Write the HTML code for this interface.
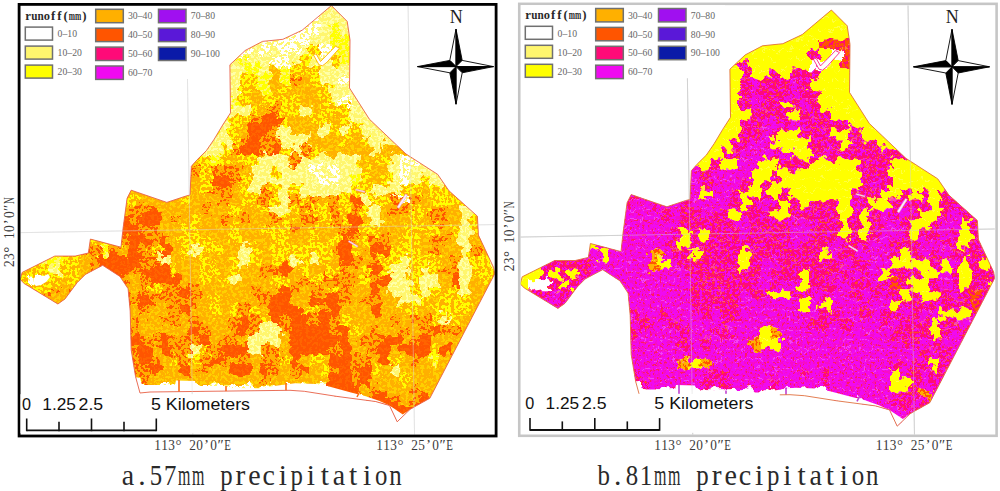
<!DOCTYPE html>
<html><head><meta charset="utf-8"><style>
html,body{margin:0;padding:0;background:#fff;width:1000px;height:491px;overflow:hidden}
svg{display:block}
</style></head><body>
<svg width="1000" height="491" viewBox="0 0 1000 491">
<defs>
<filter id="disp" color-interpolation-filters="sRGB" filterUnits="userSpaceOnUse" x="-10" y="-10" width="540" height="470">
 <feTurbulence type="fractalNoise" baseFrequency="0.11" numOctaves="3" seed="4" result="n"/>
 <feDisplacementMap in="SourceGraphic" in2="n" scale="16" xChannelSelector="R" yChannelSelector="G"/>
</filter>
<filter id="spkf" color-interpolation-filters="sRGB" filterUnits="userSpaceOnUse" x="-10" y="-10" width="540" height="470">
 <feTurbulence type="fractalNoise" baseFrequency="0.33" numOctaves="2" seed="11" result="n"/>
 <feColorMatrix in="n" type="matrix" values="1 0 0 0 0  1 0 0 0 0  1 0 0 0 0  0 0 0 0 1"/>
 <feComponentTransfer>
  <feFuncR type="linear" slope="40" intercept="-21.20"/>
  <feFuncG type="linear" slope="40" intercept="-21.20"/>
  <feFuncB type="linear" slope="40" intercept="-21.20"/>
 </feComponentTransfer>
</filter>
<filter id="spkf2" color-interpolation-filters="sRGB" filterUnits="userSpaceOnUse" x="-10" y="-10" width="540" height="470">
 <feTurbulence type="fractalNoise" baseFrequency="0.33" numOctaves="2" seed="23" result="n"/>
 <feColorMatrix in="n" type="matrix" values="1 0 0 0 0  1 0 0 0 0  1 0 0 0 0  0 0 0 0 1"/>
 <feComponentTransfer>
  <feFuncR type="linear" slope="40" intercept="-19.60"/>
  <feFuncG type="linear" slope="40" intercept="-19.60"/>
  <feFuncB type="linear" slope="40" intercept="-19.60"/>
 </feComponentTransfer>
</filter>
<mask id="spk2" maskUnits="userSpaceOnUse" x="-10" y="-10" width="540" height="470">
 <rect x="-10" y="-10" width="540" height="470" fill="#fff" filter="url(#spkf2)"/>
</mask>
<filter id="spkf3" color-interpolation-filters="sRGB" filterUnits="userSpaceOnUse" x="-10" y="-10" width="540" height="470">
 <feTurbulence type="fractalNoise" baseFrequency="0.4" numOctaves="2" seed="37" result="n"/>
 <feColorMatrix in="n" type="matrix" values="1 0 0 0 0  1 0 0 0 0  1 0 0 0 0  0 0 0 0 1"/>
 <feComponentTransfer>
  <feFuncR type="linear" slope="40" intercept="-25.60"/>
  <feFuncG type="linear" slope="40" intercept="-25.60"/>
  <feFuncB type="linear" slope="40" intercept="-25.60"/>
 </feComponentTransfer>
</filter>
<mask id="spk3" maskUnits="userSpaceOnUse" x="-10" y="-10" width="540" height="470">
 <rect x="-10" y="-10" width="540" height="470" fill="#fff" filter="url(#spkf3)"/>
</mask>
<mask id="spk" maskUnits="userSpaceOnUse" x="-10" y="-10" width="540" height="470">
 <rect x="-10" y="-10" width="540" height="470" fill="#fff" filter="url(#spkf)"/>
</mask>
</defs>
<rect width="1000" height="491" fill="#fff"/>
<clipPath id="mAf"><rect x="20.5" y="5.6" width="474.3" height="428.9"/></clipPath>
<g clip-path="url(#mAf)">
<path d="M186.3,0 L192.9,440" stroke="#e9e9e9" stroke-width="1"/>
<path d="M408,0 L414.6,440" stroke="#e9e9e9" stroke-width="1"/>
<path d="M0,233 L500,224.5" stroke="#e9e9e9" stroke-width="1"/>
<g transform="translate(0,0)">
<clipPath id="mA"><polygon points="331.4,5.6 347.2,21.4 350.0,40.0 349.5,88.0 369.3,119.1 406.0,154.0 437.7,174.4 448.9,190.7 477.4,216.2 478.4,235.1 493.7,267.7 494.7,273.8 429.8,398.3 415.0,406.5 409.9,409.5 397.2,421.8 389.5,405.5 375.5,401.5 336.8,396.4 304.3,391.3 290.0,390.3 150.0,392.0 140.0,393.0 135.6,376.8 131.2,350.0 130.2,311.1 128.1,288.7 120.0,276.5 102.7,265.3 85.4,274.4 77.2,282.6 65.0,298.9 57.9,304.0 24.3,283.6 20.2,279.5 22.2,272.4 54.8,256.1 75.2,256.1 88.4,253.0 90.4,239.1 121.0,247.2 123.0,228.9 127.1,198.3 131.2,190.2 166.8,202.4 185.2,196.3 190.0,195.0 191.4,166.3 197.1,159.8 206.4,150.6 214.2,139.2 222.7,125.0 230.5,112.9 229.9,64.8 245.2,50.5 262.5,41.4 282.9,39.3 302.2,30.2"/></clipPath>
<g clip-path="url(#mA)">
<g filter="url(#disp)"><rect x="0" y="-5" width="240" height="10" fill="#fff66e"/>
<rect x="240" y="-5" width="10" height="10" fill="#ffffff"/>
<rect x="250" y="-5" width="10" height="10" fill="#fff66e"/>
<rect x="260" y="-5" width="30" height="10" fill="#ffffff"/>
<rect x="290" y="-5" width="230" height="10" fill="#fff66e"/>
<rect x="0" y="5" width="240" height="10" fill="#fff66e"/>
<rect x="240" y="5" width="10" height="10" fill="#ffffff"/>
<rect x="250" y="5" width="10" height="10" fill="#fff66e"/>
<rect x="260" y="5" width="30" height="10" fill="#ffffff"/>
<rect x="290" y="5" width="230" height="10" fill="#fff66e"/>
<rect x="0" y="15" width="240" height="10" fill="#fff66e"/>
<rect x="240" y="15" width="10" height="10" fill="#ffffff"/>
<rect x="250" y="15" width="10" height="10" fill="#fff66e"/>
<rect x="260" y="15" width="60" height="10" fill="#ffffff"/>
<rect x="320" y="15" width="200" height="10" fill="#fff66e"/>
<rect x="0" y="25" width="240" height="10" fill="#fff66e"/>
<rect x="240" y="25" width="10" height="10" fill="#ffffff"/>
<rect x="250" y="25" width="10" height="10" fill="#fff66e"/>
<rect x="260" y="25" width="60" height="10" fill="#ffffff"/>
<rect x="320" y="25" width="10" height="10" fill="#fff66e"/>
<rect x="330" y="25" width="10" height="10" fill="#ffff00"/>
<rect x="340" y="25" width="180" height="10" fill="#fff66e"/>
<rect x="0" y="35" width="240" height="10" fill="#fff66e"/>
<rect x="240" y="35" width="10" height="10" fill="#ffffff"/>
<rect x="250" y="35" width="10" height="10" fill="#fff66e"/>
<rect x="260" y="35" width="50" height="10" fill="#ffffff"/>
<rect x="310" y="35" width="20" height="10" fill="#fff66e"/>
<rect x="330" y="35" width="190" height="10" fill="#ffff00"/>
<rect x="0" y="45" width="240" height="10" fill="#fff66e"/>
<rect x="240" y="45" width="10" height="10" fill="#ffffff"/>
<rect x="250" y="45" width="10" height="10" fill="#fff66e"/>
<rect x="260" y="45" width="10" height="10" fill="#ffffff"/>
<rect x="270" y="45" width="10" height="10" fill="#fff66e"/>
<rect x="280" y="45" width="20" height="10" fill="#ffffff"/>
<rect x="300" y="45" width="10" height="10" fill="#fff66e"/>
<rect x="310" y="45" width="10" height="10" fill="#ffb000"/>
<rect x="320" y="45" width="10" height="10" fill="#ffffff"/>
<rect x="330" y="45" width="190" height="10" fill="#ffff00"/>
<rect x="0" y="55" width="240" height="10" fill="#fff66e"/>
<rect x="240" y="55" width="10" height="10" fill="#ffff00"/>
<rect x="250" y="55" width="20" height="10" fill="#fff66e"/>
<rect x="270" y="55" width="20" height="10" fill="#ffffff"/>
<rect x="290" y="55" width="10" height="10" fill="#fff66e"/>
<rect x="300" y="55" width="10" height="10" fill="#ffb000"/>
<rect x="310" y="55" width="20" height="10" fill="#fff66e"/>
<rect x="330" y="55" width="10" height="10" fill="#ffb000"/>
<rect x="340" y="55" width="180" height="10" fill="#ffff00"/>
<rect x="0" y="65" width="240" height="10" fill="#fff66e"/>
<rect x="240" y="65" width="20" height="10" fill="#ffff00"/>
<rect x="260" y="65" width="10" height="10" fill="#fff66e"/>
<rect x="270" y="65" width="10" height="10" fill="#ffb000"/>
<rect x="280" y="65" width="10" height="10" fill="#ffff00"/>
<rect x="290" y="65" width="30" height="10" fill="#ffb000"/>
<rect x="320" y="65" width="200" height="10" fill="#fff66e"/>
<rect x="0" y="75" width="30" height="10" fill="#ffb000"/>
<rect x="30" y="75" width="210" height="10" fill="#fff66e"/>
<rect x="240" y="75" width="20" height="10" fill="#ffb000"/>
<rect x="260" y="75" width="10" height="10" fill="#ffff00"/>
<rect x="270" y="75" width="10" height="10" fill="#ffb000"/>
<rect x="280" y="75" width="10" height="10" fill="#ffff00"/>
<rect x="290" y="75" width="10" height="10" fill="#ffb000"/>
<rect x="300" y="75" width="10" height="10" fill="#ffb000"/>
<rect x="310" y="75" width="10" height="10" fill="#ffb000"/>
<rect x="320" y="75" width="20" height="10" fill="#fff66e"/>
<rect x="340" y="75" width="180" height="10" fill="#ffffff"/>
<rect x="0" y="85" width="40" height="10" fill="#ffb000"/>
<rect x="40" y="85" width="190" height="10" fill="#ffff00"/>
<rect x="230" y="85" width="10" height="10" fill="#fff66e"/>
<rect x="240" y="85" width="10" height="10" fill="#ffb000"/>
<rect x="250" y="85" width="10" height="10" fill="#ffb000"/>
<rect x="260" y="85" width="10" height="10" fill="#ffff00"/>
<rect x="270" y="85" width="10" height="10" fill="#ffb000"/>
<rect x="280" y="85" width="10" height="10" fill="#ffb000"/>
<rect x="290" y="85" width="30" height="10" fill="#ffb000"/>
<rect x="320" y="85" width="10" height="10" fill="#ffb000"/>
<rect x="330" y="85" width="190" height="10" fill="#fff66e"/>
<rect x="0" y="95" width="40" height="10" fill="#ffb000"/>
<rect x="40" y="95" width="20" height="10" fill="#ffff00"/>
<rect x="60" y="95" width="170" height="10" fill="#fff66e"/>
<rect x="230" y="95" width="10" height="10" fill="#ffff00"/>
<rect x="240" y="95" width="10" height="10" fill="#ffb000"/>
<rect x="250" y="95" width="10" height="10" fill="#ffb000"/>
<rect x="260" y="95" width="40" height="10" fill="#ffb000"/>
<rect x="300" y="95" width="20" height="10" fill="#ffb000"/>
<rect x="320" y="95" width="10" height="10" fill="#ffb000"/>
<rect x="330" y="95" width="10" height="10" fill="#fff66e"/>
<rect x="340" y="95" width="10" height="10" fill="#ffffff"/>
<rect x="350" y="95" width="170" height="10" fill="#fff66e"/>
<rect x="0" y="105" width="40" height="10" fill="#ffb000"/>
<rect x="40" y="105" width="20" height="10" fill="#ffff00"/>
<rect x="60" y="105" width="80" height="10" fill="#ffb000"/>
<rect x="140" y="105" width="110" height="10" fill="#fff66e"/>
<rect x="250" y="105" width="10" height="10" fill="#ffb000"/>
<rect x="260" y="105" width="10" height="10" fill="#ffb000"/>
<rect x="270" y="105" width="10" height="10" fill="#ffb000"/>
<rect x="280" y="105" width="20" height="10" fill="#ffb000"/>
<rect x="300" y="105" width="10" height="10" fill="#fff66e"/>
<rect x="310" y="105" width="10" height="10" fill="#ffb000"/>
<rect x="320" y="105" width="30" height="10" fill="#ffb000"/>
<rect x="350" y="105" width="170" height="10" fill="#fff66e"/>
<rect x="0" y="115" width="40" height="10" fill="#ffb000"/>
<rect x="40" y="115" width="20" height="10" fill="#ffff00"/>
<rect x="60" y="115" width="80" height="10" fill="#ffb000"/>
<rect x="140" y="115" width="90" height="10" fill="#fff66e"/>
<rect x="230" y="115" width="20" height="10" fill="#ffb000"/>
<rect x="250" y="115" width="10" height="10" fill="#ffb000"/>
<rect x="260" y="115" width="20" height="10" fill="#ff5500"/>
<rect x="280" y="115" width="10" height="10" fill="#ffb000"/>
<rect x="290" y="115" width="20" height="10" fill="#ffb000"/>
<rect x="310" y="115" width="20" height="10" fill="#ffb000"/>
<rect x="330" y="115" width="10" height="10" fill="#ffb000"/>
<rect x="340" y="115" width="10" height="10" fill="#ffb000"/>
<rect x="350" y="115" width="170" height="10" fill="#fff66e"/>
<rect x="0" y="125" width="40" height="10" fill="#ffb000"/>
<rect x="40" y="125" width="20" height="10" fill="#ffff00"/>
<rect x="60" y="125" width="80" height="10" fill="#ffb000"/>
<rect x="140" y="125" width="70" height="10" fill="#fff66e"/>
<rect x="210" y="125" width="10" height="10" fill="#ffff00"/>
<rect x="220" y="125" width="10" height="10" fill="#fff66e"/>
<rect x="230" y="125" width="10" height="10" fill="#ffb000"/>
<rect x="240" y="125" width="10" height="10" fill="#ffb000"/>
<rect x="250" y="125" width="20" height="10" fill="#ff5500"/>
<rect x="270" y="125" width="10" height="10" fill="#ffb000"/>
<rect x="280" y="125" width="10" height="10" fill="#fff66e"/>
<rect x="290" y="125" width="30" height="10" fill="#ffb000"/>
<rect x="320" y="125" width="10" height="10" fill="#fff66e"/>
<rect x="330" y="125" width="10" height="10" fill="#ffb000"/>
<rect x="340" y="125" width="10" height="10" fill="#fff66e"/>
<rect x="350" y="125" width="10" height="10" fill="#ffb000"/>
<rect x="360" y="125" width="160" height="10" fill="#fff66e"/>
<rect x="0" y="135" width="40" height="10" fill="#ffb000"/>
<rect x="40" y="135" width="20" height="10" fill="#ffff00"/>
<rect x="60" y="135" width="80" height="10" fill="#ffb000"/>
<rect x="140" y="135" width="90" height="10" fill="#fff66e"/>
<rect x="230" y="135" width="10" height="10" fill="#ffb000"/>
<rect x="240" y="135" width="10" height="10" fill="#ffb000"/>
<rect x="250" y="135" width="10" height="10" fill="#ff5500"/>
<rect x="260" y="135" width="20" height="10" fill="#ffb000"/>
<rect x="280" y="135" width="30" height="10" fill="#fff66e"/>
<rect x="310" y="135" width="30" height="10" fill="#ffb000"/>
<rect x="340" y="135" width="10" height="10" fill="#ffb000"/>
<rect x="350" y="135" width="10" height="10" fill="#ffb000"/>
<rect x="360" y="135" width="10" height="10" fill="#ffb000"/>
<rect x="370" y="135" width="150" height="10" fill="#fff66e"/>
<rect x="0" y="145" width="40" height="10" fill="#ffb000"/>
<rect x="40" y="145" width="20" height="10" fill="#ffff00"/>
<rect x="60" y="145" width="140" height="10" fill="#ffb000"/>
<rect x="200" y="145" width="20" height="10" fill="#fff66e"/>
<rect x="220" y="145" width="10" height="10" fill="#ffb000"/>
<rect x="230" y="145" width="10" height="10" fill="#ffb000"/>
<rect x="240" y="145" width="20" height="10" fill="#ff5500"/>
<rect x="260" y="145" width="10" height="10" fill="#ffb000"/>
<rect x="270" y="145" width="10" height="10" fill="#ff5500"/>
<rect x="280" y="145" width="10" height="10" fill="#ffb000"/>
<rect x="290" y="145" width="10" height="10" fill="#fff66e"/>
<rect x="300" y="145" width="10" height="10" fill="#ffb000"/>
<rect x="310" y="145" width="10" height="10" fill="#ffb000"/>
<rect x="320" y="145" width="50" height="10" fill="#ffb000"/>
<rect x="370" y="145" width="10" height="10" fill="#fff66e"/>
<rect x="380" y="145" width="40" height="10" fill="#ffb000"/>
<rect x="420" y="145" width="100" height="10" fill="#fff66e"/>
<rect x="0" y="155" width="40" height="10" fill="#ffb000"/>
<rect x="40" y="155" width="20" height="10" fill="#ffff00"/>
<rect x="60" y="155" width="140" height="10" fill="#ffb000"/>
<rect x="200" y="155" width="10" height="10" fill="#ffb000"/>
<rect x="210" y="155" width="10" height="10" fill="#ffff00"/>
<rect x="220" y="155" width="10" height="10" fill="#ffb000"/>
<rect x="230" y="155" width="10" height="10" fill="#ffb000"/>
<rect x="240" y="155" width="20" height="10" fill="#ffb000"/>
<rect x="260" y="155" width="30" height="10" fill="#fff66e"/>
<rect x="290" y="155" width="10" height="10" fill="#ffb000"/>
<rect x="300" y="155" width="60" height="10" fill="#fff66e"/>
<rect x="360" y="155" width="20" height="10" fill="#ffb000"/>
<rect x="380" y="155" width="10" height="10" fill="#ffb000"/>
<rect x="390" y="155" width="10" height="10" fill="#fff66e"/>
<rect x="400" y="155" width="20" height="10" fill="#ffffff"/>
<rect x="420" y="155" width="100" height="10" fill="#fff66e"/>
<rect x="0" y="165" width="40" height="10" fill="#ffb000"/>
<rect x="40" y="165" width="20" height="10" fill="#ffff00"/>
<rect x="60" y="165" width="100" height="10" fill="#ffb000"/>
<rect x="160" y="165" width="40" height="10" fill="#ffb000"/>
<rect x="200" y="165" width="10" height="10" fill="#ffb000"/>
<rect x="210" y="165" width="30" height="10" fill="#ffb000"/>
<rect x="240" y="165" width="10" height="10" fill="#ffb000"/>
<rect x="250" y="165" width="20" height="10" fill="#fff66e"/>
<rect x="270" y="165" width="10" height="10" fill="#ffb000"/>
<rect x="280" y="165" width="30" height="10" fill="#fff66e"/>
<rect x="310" y="165" width="10" height="10" fill="#ffffff"/>
<rect x="320" y="165" width="10" height="10" fill="#fff66e"/>
<rect x="330" y="165" width="10" height="10" fill="#ffffff"/>
<rect x="340" y="165" width="20" height="10" fill="#fff66e"/>
<rect x="360" y="165" width="10" height="10" fill="#ffb000"/>
<rect x="370" y="165" width="20" height="10" fill="#ffb000"/>
<rect x="390" y="165" width="10" height="10" fill="#fff66e"/>
<rect x="400" y="165" width="10" height="10" fill="#ffffff"/>
<rect x="410" y="165" width="110" height="10" fill="#fff66e"/>
<rect x="0" y="175" width="40" height="10" fill="#ffb000"/>
<rect x="40" y="175" width="20" height="10" fill="#ffff00"/>
<rect x="60" y="175" width="140" height="10" fill="#ffb000"/>
<rect x="200" y="175" width="10" height="10" fill="#ffb000"/>
<rect x="210" y="175" width="20" height="10" fill="#ff5500"/>
<rect x="230" y="175" width="10" height="10" fill="#ffb000"/>
<rect x="240" y="175" width="10" height="10" fill="#ffb000"/>
<rect x="250" y="175" width="70" height="10" fill="#fff66e"/>
<rect x="320" y="175" width="20" height="10" fill="#ffffff"/>
<rect x="340" y="175" width="10" height="10" fill="#fff66e"/>
<rect x="350" y="175" width="10" height="10" fill="#ffff00"/>
<rect x="360" y="175" width="10" height="10" fill="#ffb000"/>
<rect x="370" y="175" width="10" height="10" fill="#ffb000"/>
<rect x="380" y="175" width="10" height="10" fill="#ffb000"/>
<rect x="390" y="175" width="10" height="10" fill="#fff66e"/>
<rect x="400" y="175" width="10" height="10" fill="#ffffff"/>
<rect x="410" y="175" width="10" height="10" fill="#fff66e"/>
<rect x="420" y="175" width="10" height="10" fill="#ffb000"/>
<rect x="430" y="175" width="90" height="10" fill="#fff66e"/>
<rect x="0" y="185" width="40" height="10" fill="#ffb000"/>
<rect x="40" y="185" width="20" height="10" fill="#ffff00"/>
<rect x="60" y="185" width="140" height="10" fill="#ffb000"/>
<rect x="200" y="185" width="10" height="10" fill="#ffb000"/>
<rect x="210" y="185" width="20" height="10" fill="#ffb000"/>
<rect x="230" y="185" width="10" height="10" fill="#ffb000"/>
<rect x="240" y="185" width="10" height="10" fill="#ffb000"/>
<rect x="250" y="185" width="10" height="10" fill="#fff66e"/>
<rect x="260" y="185" width="10" height="10" fill="#ffb000"/>
<rect x="270" y="185" width="10" height="10" fill="#ffb000"/>
<rect x="280" y="185" width="10" height="10" fill="#fff66e"/>
<rect x="290" y="185" width="10" height="10" fill="#ffb000"/>
<rect x="300" y="185" width="50" height="10" fill="#fff66e"/>
<rect x="350" y="185" width="20" height="10" fill="#ffb000"/>
<rect x="370" y="185" width="30" height="10" fill="#fff66e"/>
<rect x="400" y="185" width="20" height="10" fill="#ffb000"/>
<rect x="420" y="185" width="10" height="10" fill="#ffb000"/>
<rect x="430" y="185" width="20" height="10" fill="#ffb000"/>
<rect x="450" y="185" width="70" height="10" fill="#ffb000"/>
<rect x="0" y="195" width="40" height="10" fill="#ffb000"/>
<rect x="40" y="195" width="20" height="10" fill="#ffff00"/>
<rect x="60" y="195" width="80" height="10" fill="#ffb000"/>
<rect x="140" y="195" width="40" height="10" fill="#ffb000"/>
<rect x="180" y="195" width="10" height="10" fill="#ffb000"/>
<rect x="190" y="195" width="30" height="10" fill="#ffb000"/>
<rect x="220" y="195" width="10" height="10" fill="#ffb000"/>
<rect x="230" y="195" width="10" height="10" fill="#ffb000"/>
<rect x="240" y="195" width="20" height="10" fill="#ffb000"/>
<rect x="260" y="195" width="10" height="10" fill="#ffb000"/>
<rect x="270" y="195" width="10" height="10" fill="#ffb000"/>
<rect x="280" y="195" width="10" height="10" fill="#fff66e"/>
<rect x="290" y="195" width="10" height="10" fill="#ffb000"/>
<rect x="300" y="195" width="10" height="10" fill="#ffb000"/>
<rect x="310" y="195" width="10" height="10" fill="#ffb000"/>
<rect x="320" y="195" width="10" height="10" fill="#ffb000"/>
<rect x="330" y="195" width="10" height="10" fill="#ffb000"/>
<rect x="340" y="195" width="10" height="10" fill="#ffb000"/>
<rect x="350" y="195" width="10" height="10" fill="#ff5500"/>
<rect x="360" y="195" width="10" height="10" fill="#fff66e"/>
<rect x="370" y="195" width="20" height="10" fill="#ffb000"/>
<rect x="390" y="195" width="10" height="10" fill="#ffb000"/>
<rect x="400" y="195" width="10" height="10" fill="#ffffff"/>
<rect x="410" y="195" width="10" height="10" fill="#ffb000"/>
<rect x="420" y="195" width="10" height="10" fill="#ffb000"/>
<rect x="430" y="195" width="40" height="10" fill="#ffb000"/>
<rect x="470" y="195" width="50" height="10" fill="#fff66e"/>
<rect x="0" y="205" width="40" height="10" fill="#ffb000"/>
<rect x="40" y="205" width="20" height="10" fill="#ffff00"/>
<rect x="60" y="205" width="10" height="10" fill="#ffb000"/>
<rect x="70" y="205" width="60" height="10" fill="#ffb000"/>
<rect x="130" y="205" width="20" height="10" fill="#ffb000"/>
<rect x="150" y="205" width="10" height="10" fill="#ff5500"/>
<rect x="160" y="205" width="40" height="10" fill="#ffb000"/>
<rect x="200" y="205" width="10" height="10" fill="#ffb000"/>
<rect x="210" y="205" width="20" height="10" fill="#ffb000"/>
<rect x="230" y="205" width="10" height="10" fill="#ffb000"/>
<rect x="240" y="205" width="20" height="10" fill="#ffb000"/>
<rect x="260" y="205" width="10" height="10" fill="#ffb000"/>
<rect x="270" y="205" width="20" height="10" fill="#fff66e"/>
<rect x="290" y="205" width="10" height="10" fill="#ffb000"/>
<rect x="300" y="205" width="10" height="10" fill="#ffb000"/>
<rect x="310" y="205" width="20" height="10" fill="#ffb000"/>
<rect x="330" y="205" width="10" height="10" fill="#ffb000"/>
<rect x="340" y="205" width="10" height="10" fill="#ffb000"/>
<rect x="350" y="205" width="10" height="10" fill="#ffb000"/>
<rect x="360" y="205" width="10" height="10" fill="#ffb000"/>
<rect x="370" y="205" width="10" height="10" fill="#fff66e"/>
<rect x="380" y="205" width="10" height="10" fill="#ffb000"/>
<rect x="390" y="205" width="20" height="10" fill="#ffb000"/>
<rect x="410" y="205" width="20" height="10" fill="#ffb000"/>
<rect x="430" y="205" width="20" height="10" fill="#ffb000"/>
<rect x="450" y="205" width="10" height="10" fill="#ffb000"/>
<rect x="460" y="205" width="60" height="10" fill="#fff66e"/>
<rect x="0" y="215" width="40" height="10" fill="#ffb000"/>
<rect x="40" y="215" width="20" height="10" fill="#ffff00"/>
<rect x="60" y="215" width="40" height="10" fill="#ffb000"/>
<rect x="100" y="215" width="30" height="10" fill="#ff5500"/>
<rect x="130" y="215" width="10" height="10" fill="#ffb000"/>
<rect x="140" y="215" width="20" height="10" fill="#ff5500"/>
<rect x="160" y="215" width="10" height="10" fill="#ffb000"/>
<rect x="170" y="215" width="10" height="10" fill="#ffb000"/>
<rect x="180" y="215" width="10" height="10" fill="#ffb000"/>
<rect x="190" y="215" width="10" height="10" fill="#ffb000"/>
<rect x="200" y="215" width="20" height="10" fill="#ffb000"/>
<rect x="220" y="215" width="10" height="10" fill="#ffb000"/>
<rect x="230" y="215" width="10" height="10" fill="#ffb000"/>
<rect x="240" y="215" width="10" height="10" fill="#ffb000"/>
<rect x="250" y="215" width="20" height="10" fill="#ffb000"/>
<rect x="270" y="215" width="10" height="10" fill="#ffb000"/>
<rect x="280" y="215" width="10" height="10" fill="#ffb000"/>
<rect x="290" y="215" width="10" height="10" fill="#ffb000"/>
<rect x="300" y="215" width="20" height="10" fill="#ffb000"/>
<rect x="320" y="215" width="10" height="10" fill="#ffb000"/>
<rect x="330" y="215" width="10" height="10" fill="#ffb000"/>
<rect x="340" y="215" width="10" height="10" fill="#ffb000"/>
<rect x="350" y="215" width="10" height="10" fill="#ff5500"/>
<rect x="360" y="215" width="10" height="10" fill="#ffb000"/>
<rect x="370" y="215" width="10" height="10" fill="#fff66e"/>
<rect x="380" y="215" width="30" height="10" fill="#ffb000"/>
<rect x="410" y="215" width="10" height="10" fill="#ffb000"/>
<rect x="420" y="215" width="10" height="10" fill="#ffb000"/>
<rect x="430" y="215" width="20" height="10" fill="#ffb000"/>
<rect x="450" y="215" width="10" height="10" fill="#ffb000"/>
<rect x="460" y="215" width="10" height="10" fill="#fff66e"/>
<rect x="470" y="215" width="50" height="10" fill="#ffb000"/>
<rect x="0" y="225" width="40" height="10" fill="#ffb000"/>
<rect x="40" y="225" width="20" height="10" fill="#ffff00"/>
<rect x="60" y="225" width="40" height="10" fill="#ffb000"/>
<rect x="100" y="225" width="10" height="10" fill="#ffb000"/>
<rect x="110" y="225" width="30" height="10" fill="#ff5500"/>
<rect x="140" y="225" width="20" height="10" fill="#ffb000"/>
<rect x="160" y="225" width="20" height="10" fill="#ffb000"/>
<rect x="180" y="225" width="20" height="10" fill="#ffb000"/>
<rect x="200" y="225" width="30" height="10" fill="#ffb000"/>
<rect x="230" y="225" width="10" height="10" fill="#ffb000"/>
<rect x="240" y="225" width="20" height="10" fill="#ffb000"/>
<rect x="260" y="225" width="30" height="10" fill="#ffb000"/>
<rect x="290" y="225" width="10" height="10" fill="#ffb000"/>
<rect x="300" y="225" width="10" height="10" fill="#ffb000"/>
<rect x="310" y="225" width="10" height="10" fill="#ffb000"/>
<rect x="320" y="225" width="20" height="10" fill="#ffb000"/>
<rect x="340" y="225" width="10" height="10" fill="#ffb000"/>
<rect x="350" y="225" width="10" height="10" fill="#ff5500"/>
<rect x="360" y="225" width="20" height="10" fill="#ffb000"/>
<rect x="380" y="225" width="20" height="10" fill="#ffb000"/>
<rect x="400" y="225" width="40" height="10" fill="#ffb000"/>
<rect x="440" y="225" width="10" height="10" fill="#ffb000"/>
<rect x="450" y="225" width="10" height="10" fill="#ffb000"/>
<rect x="460" y="225" width="10" height="10" fill="#fff66e"/>
<rect x="470" y="225" width="50" height="10" fill="#ffb000"/>
<rect x="0" y="235" width="40" height="10" fill="#ffb000"/>
<rect x="40" y="235" width="20" height="10" fill="#ffff00"/>
<rect x="60" y="235" width="40" height="10" fill="#ffb000"/>
<rect x="100" y="235" width="10" height="10" fill="#ffb000"/>
<rect x="110" y="235" width="10" height="10" fill="#ffb000"/>
<rect x="120" y="235" width="10" height="10" fill="#ffb000"/>
<rect x="130" y="235" width="20" height="10" fill="#ff5500"/>
<rect x="150" y="235" width="10" height="10" fill="#ffb000"/>
<rect x="160" y="235" width="10" height="10" fill="#ff5500"/>
<rect x="170" y="235" width="10" height="10" fill="#ffb000"/>
<rect x="180" y="235" width="30" height="10" fill="#ffb000"/>
<rect x="210" y="235" width="20" height="10" fill="#ffb000"/>
<rect x="230" y="235" width="10" height="10" fill="#ffb000"/>
<rect x="240" y="235" width="30" height="10" fill="#ffb000"/>
<rect x="270" y="235" width="20" height="10" fill="#ffb000"/>
<rect x="290" y="235" width="20" height="10" fill="#ffb000"/>
<rect x="310" y="235" width="10" height="10" fill="#ffb000"/>
<rect x="320" y="235" width="10" height="10" fill="#ffb000"/>
<rect x="330" y="235" width="10" height="10" fill="#ffb000"/>
<rect x="340" y="235" width="10" height="10" fill="#ff5500"/>
<rect x="350" y="235" width="10" height="10" fill="#ffb000"/>
<rect x="360" y="235" width="10" height="10" fill="#ffb000"/>
<rect x="370" y="235" width="20" height="10" fill="#ffb000"/>
<rect x="390" y="235" width="10" height="10" fill="#ffb000"/>
<rect x="400" y="235" width="20" height="10" fill="#ffb000"/>
<rect x="420" y="235" width="10" height="10" fill="#ffb000"/>
<rect x="430" y="235" width="20" height="10" fill="#ffb000"/>
<rect x="450" y="235" width="10" height="10" fill="#ffb000"/>
<rect x="460" y="235" width="10" height="10" fill="#fff66e"/>
<rect x="470" y="235" width="50" height="10" fill="#ffb000"/>
<rect x="0" y="245" width="40" height="10" fill="#ffb000"/>
<rect x="40" y="245" width="20" height="10" fill="#ffff00"/>
<rect x="60" y="245" width="20" height="10" fill="#ffb000"/>
<rect x="80" y="245" width="20" height="10" fill="#ffb000"/>
<rect x="100" y="245" width="10" height="10" fill="#ffff00"/>
<rect x="110" y="245" width="10" height="10" fill="#ffb000"/>
<rect x="120" y="245" width="10" height="10" fill="#ffb000"/>
<rect x="130" y="245" width="10" height="10" fill="#ff5500"/>
<rect x="140" y="245" width="10" height="10" fill="#ffb000"/>
<rect x="150" y="245" width="10" height="10" fill="#ffb000"/>
<rect x="160" y="245" width="10" height="10" fill="#ff5500"/>
<rect x="170" y="245" width="10" height="10" fill="#ffb000"/>
<rect x="180" y="245" width="10" height="10" fill="#ffb000"/>
<rect x="190" y="245" width="10" height="10" fill="#fff66e"/>
<rect x="200" y="245" width="20" height="10" fill="#ffb000"/>
<rect x="220" y="245" width="20" height="10" fill="#ffb000"/>
<rect x="240" y="245" width="10" height="10" fill="#fff66e"/>
<rect x="250" y="245" width="10" height="10" fill="#ffb000"/>
<rect x="260" y="245" width="10" height="10" fill="#ffb000"/>
<rect x="270" y="245" width="60" height="10" fill="#ffb000"/>
<rect x="330" y="245" width="10" height="10" fill="#ffb000"/>
<rect x="340" y="245" width="10" height="10" fill="#ff5500"/>
<rect x="350" y="245" width="10" height="10" fill="#ffb000"/>
<rect x="360" y="245" width="10" height="10" fill="#ffb000"/>
<rect x="370" y="245" width="20" height="10" fill="#ff5500"/>
<rect x="390" y="245" width="30" height="10" fill="#ffb000"/>
<rect x="420" y="245" width="10" height="10" fill="#ffb000"/>
<rect x="430" y="245" width="10" height="10" fill="#ffb000"/>
<rect x="440" y="245" width="20" height="10" fill="#ffb000"/>
<rect x="460" y="245" width="10" height="10" fill="#fff66e"/>
<rect x="470" y="245" width="10" height="10" fill="#ffb000"/>
<rect x="480" y="245" width="40" height="10" fill="#ffb000"/>
<rect x="0" y="255" width="40" height="10" fill="#ffb000"/>
<rect x="40" y="255" width="20" height="10" fill="#ffff00"/>
<rect x="60" y="255" width="20" height="10" fill="#ffb000"/>
<rect x="80" y="255" width="10" height="10" fill="#ffb000"/>
<rect x="90" y="255" width="10" height="10" fill="#ffb000"/>
<rect x="100" y="255" width="40" height="10" fill="#ff5500"/>
<rect x="140" y="255" width="20" height="10" fill="#ffb000"/>
<rect x="160" y="255" width="10" height="10" fill="#fff66e"/>
<rect x="170" y="255" width="30" height="10" fill="#ffb000"/>
<rect x="200" y="255" width="10" height="10" fill="#ffb000"/>
<rect x="210" y="255" width="20" height="10" fill="#ffb000"/>
<rect x="230" y="255" width="10" height="10" fill="#ffb000"/>
<rect x="240" y="255" width="10" height="10" fill="#fff66e"/>
<rect x="250" y="255" width="10" height="10" fill="#ffb000"/>
<rect x="260" y="255" width="10" height="10" fill="#ffb000"/>
<rect x="270" y="255" width="20" height="10" fill="#ffb000"/>
<rect x="290" y="255" width="10" height="10" fill="#fff66e"/>
<rect x="300" y="255" width="10" height="10" fill="#ffb000"/>
<rect x="310" y="255" width="10" height="10" fill="#fff66e"/>
<rect x="320" y="255" width="10" height="10" fill="#ffb000"/>
<rect x="330" y="255" width="10" height="10" fill="#ffb000"/>
<rect x="340" y="255" width="10" height="10" fill="#ff5500"/>
<rect x="350" y="255" width="10" height="10" fill="#ffb000"/>
<rect x="360" y="255" width="10" height="10" fill="#ffb000"/>
<rect x="370" y="255" width="10" height="10" fill="#ffb000"/>
<rect x="380" y="255" width="20" height="10" fill="#ffb000"/>
<rect x="400" y="255" width="10" height="10" fill="#fff66e"/>
<rect x="410" y="255" width="30" height="10" fill="#ffb000"/>
<rect x="440" y="255" width="10" height="10" fill="#ffb000"/>
<rect x="450" y="255" width="10" height="10" fill="#ffb000"/>
<rect x="460" y="255" width="10" height="10" fill="#fff66e"/>
<rect x="470" y="255" width="20" height="10" fill="#ffb000"/>
<rect x="490" y="255" width="30" height="10" fill="#fff66e"/>
<rect x="0" y="265" width="50" height="10" fill="#ffb000"/>
<rect x="50" y="265" width="10" height="10" fill="#fff66e"/>
<rect x="60" y="265" width="20" height="10" fill="#ffb000"/>
<rect x="80" y="265" width="10" height="10" fill="#ffb000"/>
<rect x="90" y="265" width="10" height="10" fill="#ffb000"/>
<rect x="100" y="265" width="30" height="10" fill="#ff5500"/>
<rect x="130" y="265" width="10" height="10" fill="#ffb000"/>
<rect x="140" y="265" width="30" height="10" fill="#ff5500"/>
<rect x="170" y="265" width="10" height="10" fill="#ffb000"/>
<rect x="180" y="265" width="20" height="10" fill="#ffb000"/>
<rect x="200" y="265" width="20" height="10" fill="#ffb000"/>
<rect x="220" y="265" width="10" height="10" fill="#ffb000"/>
<rect x="230" y="265" width="10" height="10" fill="#ffb000"/>
<rect x="240" y="265" width="20" height="10" fill="#ffb000"/>
<rect x="260" y="265" width="20" height="10" fill="#ffb000"/>
<rect x="280" y="265" width="10" height="10" fill="#ff5500"/>
<rect x="290" y="265" width="10" height="10" fill="#ffb000"/>
<rect x="300" y="265" width="10" height="10" fill="#ffb000"/>
<rect x="310" y="265" width="10" height="10" fill="#ffb000"/>
<rect x="320" y="265" width="20" height="10" fill="#ffb000"/>
<rect x="340" y="265" width="10" height="10" fill="#ffb000"/>
<rect x="350" y="265" width="10" height="10" fill="#ffb000"/>
<rect x="360" y="265" width="10" height="10" fill="#ffb000"/>
<rect x="370" y="265" width="10" height="10" fill="#ff5500"/>
<rect x="380" y="265" width="10" height="10" fill="#ffb000"/>
<rect x="390" y="265" width="20" height="10" fill="#fff66e"/>
<rect x="410" y="265" width="10" height="10" fill="#ffb000"/>
<rect x="420" y="265" width="10" height="10" fill="#fff66e"/>
<rect x="430" y="265" width="10" height="10" fill="#ffb000"/>
<rect x="440" y="265" width="20" height="10" fill="#ffb000"/>
<rect x="460" y="265" width="10" height="10" fill="#fff66e"/>
<rect x="470" y="265" width="50" height="10" fill="#ffb000"/>
<rect x="0" y="275" width="30" height="10" fill="#ffb000"/>
<rect x="30" y="275" width="10" height="10" fill="#ffffff"/>
<rect x="40" y="275" width="20" height="10" fill="#ffb000"/>
<rect x="60" y="275" width="10" height="10" fill="#ffb000"/>
<rect x="70" y="275" width="10" height="10" fill="#ffb000"/>
<rect x="80" y="275" width="10" height="10" fill="#ffb000"/>
<rect x="90" y="275" width="10" height="10" fill="#ffb000"/>
<rect x="100" y="275" width="20" height="10" fill="#ff5500"/>
<rect x="120" y="275" width="10" height="10" fill="#ffb000"/>
<rect x="130" y="275" width="10" height="10" fill="#ffb000"/>
<rect x="140" y="275" width="10" height="10" fill="#ffb000"/>
<rect x="150" y="275" width="30" height="10" fill="#ff5500"/>
<rect x="180" y="275" width="20" height="10" fill="#ffb000"/>
<rect x="200" y="275" width="10" height="10" fill="#ffb000"/>
<rect x="210" y="275" width="10" height="10" fill="#ffb000"/>
<rect x="220" y="275" width="10" height="10" fill="#ffb000"/>
<rect x="230" y="275" width="10" height="10" fill="#fff66e"/>
<rect x="240" y="275" width="30" height="10" fill="#ffb000"/>
<rect x="270" y="275" width="20" height="10" fill="#ffb000"/>
<rect x="290" y="275" width="10" height="10" fill="#ffb000"/>
<rect x="300" y="275" width="10" height="10" fill="#ffb000"/>
<rect x="310" y="275" width="10" height="10" fill="#ffb000"/>
<rect x="320" y="275" width="40" height="10" fill="#ffb000"/>
<rect x="360" y="275" width="10" height="10" fill="#ffb000"/>
<rect x="370" y="275" width="10" height="10" fill="#ffb000"/>
<rect x="380" y="275" width="10" height="10" fill="#ff5500"/>
<rect x="390" y="275" width="20" height="10" fill="#fff66e"/>
<rect x="410" y="275" width="10" height="10" fill="#ffb000"/>
<rect x="420" y="275" width="20" height="10" fill="#fff66e"/>
<rect x="440" y="275" width="10" height="10" fill="#ffb000"/>
<rect x="450" y="275" width="10" height="10" fill="#ff5500"/>
<rect x="460" y="275" width="10" height="10" fill="#fff66e"/>
<rect x="470" y="275" width="10" height="10" fill="#ffb000"/>
<rect x="480" y="275" width="40" height="10" fill="#ffb000"/>
<rect x="0" y="285" width="30" height="10" fill="#ffb000"/>
<rect x="30" y="285" width="20" height="10" fill="#ffb000"/>
<rect x="50" y="285" width="10" height="10" fill="#ffb000"/>
<rect x="60" y="285" width="10" height="10" fill="#ffb000"/>
<rect x="70" y="285" width="10" height="10" fill="#ffb000"/>
<rect x="80" y="285" width="10" height="10" fill="#ffb000"/>
<rect x="90" y="285" width="10" height="10" fill="#ffb000"/>
<rect x="100" y="285" width="40" height="10" fill="#ffb000"/>
<rect x="140" y="285" width="10" height="10" fill="#ffb000"/>
<rect x="150" y="285" width="10" height="10" fill="#ffb000"/>
<rect x="160" y="285" width="20" height="10" fill="#ffb000"/>
<rect x="180" y="285" width="10" height="10" fill="#ff5500"/>
<rect x="190" y="285" width="10" height="10" fill="#ffb000"/>
<rect x="200" y="285" width="50" height="10" fill="#ffb000"/>
<rect x="250" y="285" width="10" height="10" fill="#ffb000"/>
<rect x="260" y="285" width="20" height="10" fill="#ffb000"/>
<rect x="280" y="285" width="10" height="10" fill="#ff5500"/>
<rect x="290" y="285" width="10" height="10" fill="#ffb000"/>
<rect x="300" y="285" width="10" height="10" fill="#ffb000"/>
<rect x="310" y="285" width="10" height="10" fill="#ffb000"/>
<rect x="320" y="285" width="10" height="10" fill="#ffb000"/>
<rect x="330" y="285" width="10" height="10" fill="#ffb000"/>
<rect x="340" y="285" width="10" height="10" fill="#ffb000"/>
<rect x="350" y="285" width="20" height="10" fill="#ffb000"/>
<rect x="370" y="285" width="10" height="10" fill="#ff5500"/>
<rect x="380" y="285" width="10" height="10" fill="#ffb000"/>
<rect x="390" y="285" width="20" height="10" fill="#fff66e"/>
<rect x="410" y="285" width="10" height="10" fill="#ffb000"/>
<rect x="420" y="285" width="10" height="10" fill="#fff66e"/>
<rect x="430" y="285" width="10" height="10" fill="#ffb000"/>
<rect x="440" y="285" width="10" height="10" fill="#ffb000"/>
<rect x="450" y="285" width="10" height="10" fill="#ffb000"/>
<rect x="460" y="285" width="10" height="10" fill="#fff66e"/>
<rect x="470" y="285" width="50" height="10" fill="#ffb000"/>
<rect x="0" y="295" width="40" height="10" fill="#ffb000"/>
<rect x="40" y="295" width="10" height="10" fill="#ffb000"/>
<rect x="50" y="295" width="50" height="10" fill="#ffb000"/>
<rect x="100" y="295" width="30" height="10" fill="#ff5500"/>
<rect x="130" y="295" width="10" height="10" fill="#ffb000"/>
<rect x="140" y="295" width="10" height="10" fill="#ff5500"/>
<rect x="150" y="295" width="50" height="10" fill="#ffb000"/>
<rect x="200" y="295" width="10" height="10" fill="#ffb000"/>
<rect x="210" y="295" width="10" height="10" fill="#ffb000"/>
<rect x="220" y="295" width="40" height="10" fill="#ffb000"/>
<rect x="260" y="295" width="10" height="10" fill="#ffb000"/>
<rect x="270" y="295" width="20" height="10" fill="#ff5500"/>
<rect x="290" y="295" width="20" height="10" fill="#ffb000"/>
<rect x="310" y="295" width="30" height="10" fill="#ff5500"/>
<rect x="340" y="295" width="10" height="10" fill="#ffb000"/>
<rect x="350" y="295" width="10" height="10" fill="#ffb000"/>
<rect x="360" y="295" width="20" height="10" fill="#ffb000"/>
<rect x="380" y="295" width="20" height="10" fill="#ffb000"/>
<rect x="400" y="295" width="20" height="10" fill="#fff66e"/>
<rect x="420" y="295" width="10" height="10" fill="#ffb000"/>
<rect x="430" y="295" width="10" height="10" fill="#ffb000"/>
<rect x="440" y="295" width="30" height="10" fill="#ffb000"/>
<rect x="470" y="295" width="50" height="10" fill="#ffb000"/>
<rect x="0" y="305" width="40" height="10" fill="#ffb000"/>
<rect x="40" y="305" width="10" height="10" fill="#ffb000"/>
<rect x="50" y="305" width="90" height="10" fill="#ffb000"/>
<rect x="140" y="305" width="10" height="10" fill="#ffb000"/>
<rect x="150" y="305" width="20" height="10" fill="#ffb000"/>
<rect x="170" y="305" width="10" height="10" fill="#ffb000"/>
<rect x="180" y="305" width="10" height="10" fill="#ff5500"/>
<rect x="190" y="305" width="20" height="10" fill="#ffb000"/>
<rect x="210" y="305" width="10" height="10" fill="#ffb000"/>
<rect x="220" y="305" width="10" height="10" fill="#ffb000"/>
<rect x="230" y="305" width="10" height="10" fill="#ffb000"/>
<rect x="240" y="305" width="10" height="10" fill="#ffb000"/>
<rect x="250" y="305" width="10" height="10" fill="#ffb000"/>
<rect x="260" y="305" width="10" height="10" fill="#ffb000"/>
<rect x="270" y="305" width="30" height="10" fill="#ff5500"/>
<rect x="300" y="305" width="20" height="10" fill="#ffb000"/>
<rect x="320" y="305" width="10" height="10" fill="#ffb000"/>
<rect x="330" y="305" width="10" height="10" fill="#ff5500"/>
<rect x="340" y="305" width="30" height="10" fill="#ffb000"/>
<rect x="370" y="305" width="10" height="10" fill="#ff5500"/>
<rect x="380" y="305" width="20" height="10" fill="#ffb000"/>
<rect x="400" y="305" width="20" height="10" fill="#ffb000"/>
<rect x="420" y="305" width="10" height="10" fill="#ffb000"/>
<rect x="430" y="305" width="40" height="10" fill="#ffb000"/>
<rect x="470" y="305" width="50" height="10" fill="#ffb000"/>
<rect x="0" y="315" width="40" height="10" fill="#ffb000"/>
<rect x="40" y="315" width="10" height="10" fill="#ffb000"/>
<rect x="50" y="315" width="80" height="10" fill="#ffb000"/>
<rect x="130" y="315" width="10" height="10" fill="#ffb000"/>
<rect x="140" y="315" width="20" height="10" fill="#ffb000"/>
<rect x="160" y="315" width="20" height="10" fill="#ffb000"/>
<rect x="180" y="315" width="10" height="10" fill="#ffb000"/>
<rect x="190" y="315" width="10" height="10" fill="#ffb000"/>
<rect x="200" y="315" width="30" height="10" fill="#ffb000"/>
<rect x="230" y="315" width="10" height="10" fill="#ffb000"/>
<rect x="240" y="315" width="10" height="10" fill="#ff5500"/>
<rect x="250" y="315" width="10" height="10" fill="#ffb000"/>
<rect x="260" y="315" width="10" height="10" fill="#ffb000"/>
<rect x="270" y="315" width="10" height="10" fill="#ff5500"/>
<rect x="280" y="315" width="10" height="10" fill="#ffb000"/>
<rect x="290" y="315" width="20" height="10" fill="#ff5500"/>
<rect x="310" y="315" width="10" height="10" fill="#ffb000"/>
<rect x="320" y="315" width="10" height="10" fill="#ff5500"/>
<rect x="330" y="315" width="10" height="10" fill="#ffb000"/>
<rect x="340" y="315" width="10" height="10" fill="#ffb000"/>
<rect x="350" y="315" width="40" height="10" fill="#ffb000"/>
<rect x="390" y="315" width="10" height="10" fill="#ffb000"/>
<rect x="400" y="315" width="10" height="10" fill="#ffb000"/>
<rect x="410" y="315" width="20" height="10" fill="#ffb000"/>
<rect x="430" y="315" width="10" height="10" fill="#ffb000"/>
<rect x="440" y="315" width="10" height="10" fill="#fff66e"/>
<rect x="450" y="315" width="10" height="10" fill="#ffb000"/>
<rect x="460" y="315" width="60" height="10" fill="#ffb000"/>
<rect x="0" y="325" width="40" height="10" fill="#ffb000"/>
<rect x="40" y="325" width="10" height="10" fill="#ffb000"/>
<rect x="50" y="325" width="40" height="10" fill="#ffb000"/>
<rect x="90" y="325" width="50" height="10" fill="#ffb000"/>
<rect x="140" y="325" width="50" height="10" fill="#ffb000"/>
<rect x="190" y="325" width="10" height="10" fill="#ff5500"/>
<rect x="200" y="325" width="10" height="10" fill="#ffb000"/>
<rect x="210" y="325" width="20" height="10" fill="#ffb000"/>
<rect x="230" y="325" width="10" height="10" fill="#ffb000"/>
<rect x="240" y="325" width="10" height="10" fill="#ff5500"/>
<rect x="250" y="325" width="10" height="10" fill="#ffb000"/>
<rect x="260" y="325" width="20" height="10" fill="#fff66e"/>
<rect x="280" y="325" width="10" height="10" fill="#ffb000"/>
<rect x="290" y="325" width="40" height="10" fill="#ff5500"/>
<rect x="330" y="325" width="10" height="10" fill="#ffb000"/>
<rect x="340" y="325" width="10" height="10" fill="#ff5500"/>
<rect x="350" y="325" width="10" height="10" fill="#ffb000"/>
<rect x="360" y="325" width="10" height="10" fill="#ffb000"/>
<rect x="370" y="325" width="10" height="10" fill="#ffb000"/>
<rect x="380" y="325" width="20" height="10" fill="#ffb000"/>
<rect x="400" y="325" width="10" height="10" fill="#ffb000"/>
<rect x="410" y="325" width="10" height="10" fill="#ffb000"/>
<rect x="420" y="325" width="10" height="10" fill="#ffb000"/>
<rect x="430" y="325" width="10" height="10" fill="#ff5500"/>
<rect x="440" y="325" width="20" height="10" fill="#ffb000"/>
<rect x="460" y="325" width="60" height="10" fill="#ffb000"/>
<rect x="0" y="335" width="40" height="10" fill="#ffb000"/>
<rect x="40" y="335" width="10" height="10" fill="#ffb000"/>
<rect x="50" y="335" width="40" height="10" fill="#ffb000"/>
<rect x="90" y="335" width="50" height="10" fill="#ff5500"/>
<rect x="140" y="335" width="20" height="10" fill="#ffb000"/>
<rect x="160" y="335" width="10" height="10" fill="#ff5500"/>
<rect x="170" y="335" width="30" height="10" fill="#ffb000"/>
<rect x="200" y="335" width="10" height="10" fill="#ff5500"/>
<rect x="210" y="335" width="10" height="10" fill="#ffb000"/>
<rect x="220" y="335" width="20" height="10" fill="#ffb000"/>
<rect x="240" y="335" width="10" height="10" fill="#ffb000"/>
<rect x="250" y="335" width="30" height="10" fill="#fff66e"/>
<rect x="280" y="335" width="10" height="10" fill="#ffb000"/>
<rect x="290" y="335" width="60" height="10" fill="#ff5500"/>
<rect x="350" y="335" width="10" height="10" fill="#ffb000"/>
<rect x="360" y="335" width="20" height="10" fill="#ffb000"/>
<rect x="380" y="335" width="20" height="10" fill="#ff5500"/>
<rect x="400" y="335" width="10" height="10" fill="#ffb000"/>
<rect x="410" y="335" width="10" height="10" fill="#ffb000"/>
<rect x="420" y="335" width="10" height="10" fill="#ff5500"/>
<rect x="430" y="335" width="90" height="10" fill="#ffb000"/>
<rect x="0" y="345" width="40" height="10" fill="#ffb000"/>
<rect x="40" y="345" width="10" height="10" fill="#ffb000"/>
<rect x="50" y="345" width="30" height="10" fill="#ffb000"/>
<rect x="80" y="345" width="60" height="10" fill="#ffb000"/>
<rect x="140" y="345" width="10" height="10" fill="#ff5500"/>
<rect x="150" y="345" width="10" height="10" fill="#ffb000"/>
<rect x="160" y="345" width="10" height="10" fill="#ff5500"/>
<rect x="170" y="345" width="20" height="10" fill="#ffb000"/>
<rect x="190" y="345" width="10" height="10" fill="#fff66e"/>
<rect x="200" y="345" width="10" height="10" fill="#ffb000"/>
<rect x="210" y="345" width="10" height="10" fill="#ffb000"/>
<rect x="220" y="345" width="30" height="10" fill="#ff5500"/>
<rect x="250" y="345" width="10" height="10" fill="#fff66e"/>
<rect x="260" y="345" width="20" height="10" fill="#ffb000"/>
<rect x="280" y="345" width="10" height="10" fill="#ffb000"/>
<rect x="290" y="345" width="40" height="10" fill="#ff5500"/>
<rect x="330" y="345" width="10" height="10" fill="#ffb000"/>
<rect x="340" y="345" width="10" height="10" fill="#ff5500"/>
<rect x="350" y="345" width="20" height="10" fill="#ffb000"/>
<rect x="370" y="345" width="10" height="10" fill="#ffb000"/>
<rect x="380" y="345" width="10" height="10" fill="#ff5500"/>
<rect x="390" y="345" width="10" height="10" fill="#ffb000"/>
<rect x="400" y="345" width="30" height="10" fill="#ff5500"/>
<rect x="430" y="345" width="10" height="10" fill="#ffb000"/>
<rect x="440" y="345" width="10" height="10" fill="#ff5500"/>
<rect x="450" y="345" width="70" height="10" fill="#ffb000"/>
<rect x="0" y="355" width="40" height="10" fill="#ffb000"/>
<rect x="40" y="355" width="10" height="10" fill="#ffb000"/>
<rect x="50" y="355" width="30" height="10" fill="#ffb000"/>
<rect x="80" y="355" width="60" height="10" fill="#ffb000"/>
<rect x="140" y="355" width="10" height="10" fill="#ff5500"/>
<rect x="150" y="355" width="10" height="10" fill="#ffb000"/>
<rect x="160" y="355" width="10" height="10" fill="#ffb000"/>
<rect x="170" y="355" width="10" height="10" fill="#ffb000"/>
<rect x="180" y="355" width="10" height="10" fill="#ffb000"/>
<rect x="190" y="355" width="10" height="10" fill="#ffb000"/>
<rect x="200" y="355" width="10" height="10" fill="#ffb000"/>
<rect x="210" y="355" width="10" height="10" fill="#ff5500"/>
<rect x="220" y="355" width="10" height="10" fill="#ffb000"/>
<rect x="230" y="355" width="10" height="10" fill="#ffb000"/>
<rect x="240" y="355" width="10" height="10" fill="#ffb000"/>
<rect x="250" y="355" width="10" height="10" fill="#ffb000"/>
<rect x="260" y="355" width="20" height="10" fill="#ffb000"/>
<rect x="280" y="355" width="10" height="10" fill="#ffb000"/>
<rect x="290" y="355" width="10" height="10" fill="#ff5500"/>
<rect x="300" y="355" width="10" height="10" fill="#ffb000"/>
<rect x="310" y="355" width="10" height="10" fill="#ffb000"/>
<rect x="320" y="355" width="10" height="10" fill="#ffb000"/>
<rect x="330" y="355" width="20" height="10" fill="#ff5500"/>
<rect x="350" y="355" width="20" height="10" fill="#ffb000"/>
<rect x="370" y="355" width="10" height="10" fill="#ffb000"/>
<rect x="380" y="355" width="10" height="10" fill="#ff5500"/>
<rect x="390" y="355" width="10" height="10" fill="#ffb000"/>
<rect x="400" y="355" width="10" height="10" fill="#ffb000"/>
<rect x="410" y="355" width="10" height="10" fill="#ffb000"/>
<rect x="420" y="355" width="10" height="10" fill="#ffb000"/>
<rect x="430" y="355" width="10" height="10" fill="#ffff00"/>
<rect x="440" y="355" width="80" height="10" fill="#ffb000"/>
<rect x="0" y="365" width="40" height="10" fill="#ffb000"/>
<rect x="40" y="365" width="10" height="10" fill="#ffb000"/>
<rect x="50" y="365" width="20" height="10" fill="#ffb000"/>
<rect x="70" y="365" width="80" height="10" fill="#ffb000"/>
<rect x="150" y="365" width="10" height="10" fill="#ff5500"/>
<rect x="160" y="365" width="20" height="10" fill="#ffb000"/>
<rect x="180" y="365" width="10" height="10" fill="#ff5500"/>
<rect x="190" y="365" width="10" height="10" fill="#ffb000"/>
<rect x="200" y="365" width="10" height="10" fill="#ffb000"/>
<rect x="210" y="365" width="20" height="10" fill="#ffb000"/>
<rect x="230" y="365" width="20" height="10" fill="#ff5500"/>
<rect x="250" y="365" width="10" height="10" fill="#ffb000"/>
<rect x="260" y="365" width="10" height="10" fill="#ff5500"/>
<rect x="270" y="365" width="10" height="10" fill="#ffb000"/>
<rect x="280" y="365" width="10" height="10" fill="#ffb000"/>
<rect x="290" y="365" width="10" height="10" fill="#ffb000"/>
<rect x="300" y="365" width="10" height="10" fill="#ff5500"/>
<rect x="310" y="365" width="10" height="10" fill="#ffb000"/>
<rect x="320" y="365" width="10" height="10" fill="#ffb000"/>
<rect x="330" y="365" width="10" height="10" fill="#ffb000"/>
<rect x="340" y="365" width="10" height="10" fill="#ff5500"/>
<rect x="350" y="365" width="10" height="10" fill="#ffb000"/>
<rect x="360" y="365" width="10" height="10" fill="#ff5500"/>
<rect x="370" y="365" width="10" height="10" fill="#ffb000"/>
<rect x="380" y="365" width="10" height="10" fill="#ffb000"/>
<rect x="390" y="365" width="10" height="10" fill="#fff66e"/>
<rect x="400" y="365" width="120" height="10" fill="#ffb000"/>
<rect x="0" y="375" width="40" height="10" fill="#ffb000"/>
<rect x="40" y="375" width="10" height="10" fill="#ffb000"/>
<rect x="50" y="375" width="10" height="10" fill="#ffb000"/>
<rect x="60" y="375" width="80" height="10" fill="#ffb000"/>
<rect x="140" y="375" width="10" height="10" fill="#ffb000"/>
<rect x="150" y="375" width="110" height="10" fill="#ffb000"/>
<rect x="260" y="375" width="10" height="10" fill="#ffb000"/>
<rect x="270" y="375" width="60" height="10" fill="#ffb000"/>
<rect x="330" y="375" width="20" height="10" fill="#ff5500"/>
<rect x="350" y="375" width="10" height="10" fill="#ffb000"/>
<rect x="360" y="375" width="10" height="10" fill="#ff5500"/>
<rect x="370" y="375" width="30" height="10" fill="#ffb000"/>
<rect x="400" y="375" width="10" height="10" fill="#ffb000"/>
<rect x="410" y="375" width="110" height="10" fill="#ffb000"/>
<rect x="0" y="385" width="40" height="10" fill="#ffb000"/>
<rect x="40" y="385" width="10" height="10" fill="#ffb000"/>
<rect x="50" y="385" width="280" height="10" fill="#ffffff"/>
<rect x="330" y="385" width="30" height="10" fill="#ff5500"/>
<rect x="360" y="385" width="10" height="10" fill="#ffb000"/>
<rect x="370" y="385" width="10" height="10" fill="#ffb000"/>
<rect x="380" y="385" width="30" height="10" fill="#ffb000"/>
<rect x="410" y="385" width="10" height="10" fill="#ffb000"/>
<rect x="420" y="385" width="100" height="10" fill="#ffb000"/>
<rect x="0" y="395" width="40" height="10" fill="#ffb000"/>
<rect x="40" y="395" width="10" height="10" fill="#ffb000"/>
<rect x="50" y="395" width="320" height="10" fill="#ffffff"/>
<rect x="370" y="395" width="20" height="10" fill="#ff5500"/>
<rect x="390" y="395" width="10" height="10" fill="#ffb000"/>
<rect x="400" y="395" width="10" height="10" fill="#ffb000"/>
<rect x="410" y="395" width="10" height="10" fill="#ffb000"/>
<rect x="420" y="395" width="100" height="10" fill="#ff5500"/>
<rect x="0" y="405" width="40" height="10" fill="#ffb000"/>
<rect x="40" y="405" width="10" height="10" fill="#ffb000"/>
<rect x="50" y="405" width="320" height="10" fill="#ffffff"/>
<rect x="370" y="405" width="150" height="10" fill="#ff5500"/>
<rect x="0" y="415" width="40" height="10" fill="#ffb000"/>
<rect x="40" y="415" width="10" height="10" fill="#ffb000"/>
<rect x="50" y="415" width="320" height="10" fill="#ffffff"/>
<rect x="370" y="415" width="150" height="10" fill="#ff5500"/>
<rect x="0" y="425" width="40" height="10" fill="#ffb000"/>
<rect x="40" y="425" width="10" height="10" fill="#ffb000"/>
<rect x="50" y="425" width="310" height="10" fill="#ffffff"/>
<rect x="360" y="425" width="160" height="10" fill="#ff5500"/>
<rect x="0" y="435" width="40" height="10" fill="#ffb000"/>
<rect x="40" y="435" width="10" height="10" fill="#ffb000"/>
<rect x="50" y="435" width="310" height="10" fill="#ffffff"/>
<rect x="360" y="435" width="160" height="10" fill="#ff5500"/>
<rect x="0" y="445" width="40" height="10" fill="#ffb000"/>
<rect x="40" y="445" width="10" height="10" fill="#ffb000"/>
<rect x="50" y="445" width="310" height="10" fill="#ffffff"/>
<rect x="360" y="445" width="160" height="10" fill="#ff5500"/></g>
<g mask="url(#spk)"><g filter="url(#disp)"><rect x="0" y="-5" width="240" height="10" fill="#ffffa8"/>
<rect x="240" y="-5" width="10" height="10" fill="#fff66e"/>
<rect x="250" y="-5" width="10" height="10" fill="#ffffa8"/>
<rect x="260" y="-5" width="30" height="10" fill="#fff66e"/>
<rect x="290" y="-5" width="230" height="10" fill="#ffffa8"/>
<rect x="0" y="5" width="240" height="10" fill="#ffffa8"/>
<rect x="240" y="5" width="10" height="10" fill="#fff66e"/>
<rect x="250" y="5" width="10" height="10" fill="#ffffa8"/>
<rect x="260" y="5" width="30" height="10" fill="#fff66e"/>
<rect x="290" y="5" width="230" height="10" fill="#ffffa8"/>
<rect x="0" y="15" width="240" height="10" fill="#ffffa8"/>
<rect x="240" y="15" width="10" height="10" fill="#fff66e"/>
<rect x="250" y="15" width="10" height="10" fill="#ffffa8"/>
<rect x="260" y="15" width="60" height="10" fill="#fff66e"/>
<rect x="320" y="15" width="200" height="10" fill="#ffffa8"/>
<rect x="0" y="25" width="240" height="10" fill="#ffffa8"/>
<rect x="240" y="25" width="10" height="10" fill="#fff66e"/>
<rect x="250" y="25" width="10" height="10" fill="#ffffa8"/>
<rect x="260" y="25" width="60" height="10" fill="#fff66e"/>
<rect x="320" y="25" width="10" height="10" fill="#ffffa8"/>
<rect x="330" y="25" width="10" height="10" fill="#fff66e"/>
<rect x="340" y="25" width="180" height="10" fill="#ffffa8"/>
<rect x="0" y="35" width="240" height="10" fill="#ffffa8"/>
<rect x="240" y="35" width="10" height="10" fill="#fff66e"/>
<rect x="250" y="35" width="10" height="10" fill="#ffffa8"/>
<rect x="260" y="35" width="50" height="10" fill="#fff66e"/>
<rect x="310" y="35" width="20" height="10" fill="#ffffa8"/>
<rect x="330" y="35" width="190" height="10" fill="#fff66e"/>
<rect x="0" y="45" width="240" height="10" fill="#ffffa8"/>
<rect x="240" y="45" width="10" height="10" fill="#fff66e"/>
<rect x="250" y="45" width="10" height="10" fill="#ffffa8"/>
<rect x="260" y="45" width="10" height="10" fill="#fff66e"/>
<rect x="270" y="45" width="10" height="10" fill="#ffffa8"/>
<rect x="280" y="45" width="20" height="10" fill="#fff66e"/>
<rect x="300" y="45" width="10" height="10" fill="#ffffa8"/>
<rect x="320" y="45" width="10" height="10" fill="#fff66e"/>
<rect x="330" y="45" width="190" height="10" fill="#fff66e"/>
<rect x="0" y="55" width="240" height="10" fill="#ffffa8"/>
<rect x="240" y="55" width="10" height="10" fill="#fff66e"/>
<rect x="250" y="55" width="20" height="10" fill="#ffffa8"/>
<rect x="270" y="55" width="20" height="10" fill="#fff66e"/>
<rect x="290" y="55" width="10" height="10" fill="#ffffa8"/>
<rect x="310" y="55" width="20" height="10" fill="#ffffa8"/>
<rect x="340" y="55" width="180" height="10" fill="#fff66e"/>
<rect x="0" y="65" width="240" height="10" fill="#ffffa8"/>
<rect x="240" y="65" width="20" height="10" fill="#fff66e"/>
<rect x="260" y="65" width="10" height="10" fill="#ffffa8"/>
<rect x="270" y="65" width="10" height="10" fill="#ffd000"/>
<rect x="280" y="65" width="10" height="10" fill="#fff66e"/>
<rect x="320" y="65" width="200" height="10" fill="#ffffa8"/>
<rect x="30" y="75" width="210" height="10" fill="#ffffa8"/>
<rect x="260" y="75" width="10" height="10" fill="#fff66e"/>
<rect x="270" y="75" width="10" height="10" fill="#ffd000"/>
<rect x="280" y="75" width="10" height="10" fill="#fff66e"/>
<rect x="290" y="75" width="10" height="10" fill="#ff5500"/>
<rect x="300" y="75" width="10" height="10" fill="#ffd000"/>
<rect x="320" y="75" width="20" height="10" fill="#ffffa8"/>
<rect x="340" y="75" width="180" height="10" fill="#fff66e"/>
<rect x="40" y="85" width="190" height="10" fill="#fff66e"/>
<rect x="230" y="85" width="10" height="10" fill="#ffffa8"/>
<rect x="250" y="85" width="10" height="10" fill="#ffd000"/>
<rect x="260" y="85" width="10" height="10" fill="#fff66e"/>
<rect x="270" y="85" width="10" height="10" fill="#ffd000"/>
<rect x="290" y="85" width="30" height="10" fill="#ffd000"/>
<rect x="330" y="85" width="190" height="10" fill="#ffffa8"/>
<rect x="40" y="95" width="20" height="10" fill="#fff66e"/>
<rect x="60" y="95" width="170" height="10" fill="#ffffa8"/>
<rect x="230" y="95" width="10" height="10" fill="#fff66e"/>
<rect x="250" y="95" width="10" height="10" fill="#ffd000"/>
<rect x="300" y="95" width="20" height="10" fill="#ffd000"/>
<rect x="330" y="95" width="10" height="10" fill="#ffffa8"/>
<rect x="340" y="95" width="10" height="10" fill="#fff66e"/>
<rect x="350" y="95" width="170" height="10" fill="#ffffa8"/>
<rect x="40" y="105" width="20" height="10" fill="#fff66e"/>
<rect x="60" y="105" width="80" height="10" fill="#ffd000"/>
<rect x="140" y="105" width="110" height="10" fill="#ffffa8"/>
<rect x="260" y="105" width="10" height="10" fill="#ffd000"/>
<rect x="270" y="105" width="10" height="10" fill="#ff5500"/>
<rect x="300" y="105" width="10" height="10" fill="#ffffa8"/>
<rect x="310" y="105" width="10" height="10" fill="#ffd000"/>
<rect x="350" y="105" width="170" height="10" fill="#ffffa8"/>
<rect x="40" y="115" width="20" height="10" fill="#fff66e"/>
<rect x="60" y="115" width="80" height="10" fill="#ffd000"/>
<rect x="140" y="115" width="90" height="10" fill="#ffffa8"/>
<rect x="250" y="115" width="10" height="10" fill="#ff5500"/>
<rect x="260" y="115" width="20" height="10" fill="#ff6400"/>
<rect x="290" y="115" width="20" height="10" fill="#ffd000"/>
<rect x="330" y="115" width="10" height="10" fill="#ffd000"/>
<rect x="350" y="115" width="170" height="10" fill="#ffffa8"/>
<rect x="40" y="125" width="20" height="10" fill="#fff66e"/>
<rect x="60" y="125" width="80" height="10" fill="#ffd000"/>
<rect x="140" y="125" width="70" height="10" fill="#ffffa8"/>
<rect x="210" y="125" width="10" height="10" fill="#fff66e"/>
<rect x="220" y="125" width="10" height="10" fill="#ffffa8"/>
<rect x="240" y="125" width="10" height="10" fill="#ffd000"/>
<rect x="250" y="125" width="20" height="10" fill="#ff6400"/>
<rect x="270" y="125" width="10" height="10" fill="#ff5500"/>
<rect x="280" y="125" width="10" height="10" fill="#ffffa8"/>
<rect x="290" y="125" width="30" height="10" fill="#ffd000"/>
<rect x="320" y="125" width="10" height="10" fill="#ffffa8"/>
<rect x="340" y="125" width="10" height="10" fill="#ffffa8"/>
<rect x="360" y="125" width="160" height="10" fill="#ffffa8"/>
<rect x="40" y="135" width="20" height="10" fill="#fff66e"/>
<rect x="60" y="135" width="80" height="10" fill="#ffd000"/>
<rect x="140" y="135" width="90" height="10" fill="#ffffa8"/>
<rect x="240" y="135" width="10" height="10" fill="#ff5500"/>
<rect x="250" y="135" width="10" height="10" fill="#ff6400"/>
<rect x="260" y="135" width="20" height="10" fill="#ff5500"/>
<rect x="280" y="135" width="30" height="10" fill="#ffffa8"/>
<rect x="310" y="135" width="30" height="10" fill="#ffd000"/>
<rect x="350" y="135" width="10" height="10" fill="#ffd000"/>
<rect x="370" y="135" width="150" height="10" fill="#ffffa8"/>
<rect x="40" y="145" width="20" height="10" fill="#fff66e"/>
<rect x="60" y="145" width="140" height="10" fill="#ffd000"/>
<rect x="200" y="145" width="20" height="10" fill="#ffffa8"/>
<rect x="230" y="145" width="10" height="10" fill="#ff5500"/>
<rect x="240" y="145" width="20" height="10" fill="#ff6400"/>
<rect x="260" y="145" width="10" height="10" fill="#ff5500"/>
<rect x="270" y="145" width="10" height="10" fill="#ff6400"/>
<rect x="290" y="145" width="10" height="10" fill="#ffffa8"/>
<rect x="300" y="145" width="10" height="10" fill="#ff5500"/>
<rect x="320" y="145" width="50" height="10" fill="#ffd000"/>
<rect x="370" y="145" width="10" height="10" fill="#ffffa8"/>
<rect x="380" y="145" width="40" height="10" fill="#ffd000"/>
<rect x="420" y="145" width="100" height="10" fill="#ffffa8"/>
<rect x="40" y="155" width="20" height="10" fill="#fff66e"/>
<rect x="60" y="155" width="140" height="10" fill="#ffd000"/>
<rect x="210" y="155" width="10" height="10" fill="#fff66e"/>
<rect x="230" y="155" width="10" height="10" fill="#ffd000"/>
<rect x="260" y="155" width="30" height="10" fill="#ffffa8"/>
<rect x="290" y="155" width="10" height="10" fill="#ff5500"/>
<rect x="300" y="155" width="60" height="10" fill="#ffffa8"/>
<rect x="360" y="155" width="20" height="10" fill="#ffd000"/>
<rect x="390" y="155" width="10" height="10" fill="#ffffa8"/>
<rect x="400" y="155" width="20" height="10" fill="#fff66e"/>
<rect x="420" y="155" width="100" height="10" fill="#ffffa8"/>
<rect x="40" y="165" width="20" height="10" fill="#fff66e"/>
<rect x="60" y="165" width="100" height="10" fill="#ffd000"/>
<rect x="160" y="165" width="40" height="10" fill="#ff5500"/>
<rect x="210" y="165" width="30" height="10" fill="#ff5500"/>
<rect x="240" y="165" width="10" height="10" fill="#ffd000"/>
<rect x="250" y="165" width="20" height="10" fill="#ffffa8"/>
<rect x="280" y="165" width="30" height="10" fill="#ffffa8"/>
<rect x="310" y="165" width="10" height="10" fill="#fff66e"/>
<rect x="320" y="165" width="10" height="10" fill="#ffffa8"/>
<rect x="330" y="165" width="10" height="10" fill="#fff66e"/>
<rect x="340" y="165" width="20" height="10" fill="#ffffa8"/>
<rect x="370" y="165" width="20" height="10" fill="#ffd000"/>
<rect x="390" y="165" width="10" height="10" fill="#ffffa8"/>
<rect x="400" y="165" width="10" height="10" fill="#fff66e"/>
<rect x="410" y="165" width="110" height="10" fill="#ffffa8"/>
<rect x="40" y="175" width="20" height="10" fill="#fff66e"/>
<rect x="60" y="175" width="140" height="10" fill="#ffd000"/>
<rect x="210" y="175" width="20" height="10" fill="#ff6400"/>
<rect x="230" y="175" width="10" height="10" fill="#ff5500"/>
<rect x="250" y="175" width="70" height="10" fill="#ffffa8"/>
<rect x="320" y="175" width="20" height="10" fill="#fff66e"/>
<rect x="340" y="175" width="10" height="10" fill="#ffffa8"/>
<rect x="350" y="175" width="10" height="10" fill="#fff66e"/>
<rect x="370" y="175" width="10" height="10" fill="#ffd000"/>
<rect x="390" y="175" width="10" height="10" fill="#ffffa8"/>
<rect x="400" y="175" width="10" height="10" fill="#fff66e"/>
<rect x="410" y="175" width="10" height="10" fill="#ffffa8"/>
<rect x="430" y="175" width="90" height="10" fill="#ffffa8"/>
<rect x="40" y="185" width="20" height="10" fill="#fff66e"/>
<rect x="60" y="185" width="140" height="10" fill="#ffd000"/>
<rect x="210" y="185" width="20" height="10" fill="#ff5500"/>
<rect x="230" y="185" width="10" height="10" fill="#ffd000"/>
<rect x="250" y="185" width="10" height="10" fill="#ffffa8"/>
<rect x="260" y="185" width="10" height="10" fill="#ff5500"/>
<rect x="280" y="185" width="10" height="10" fill="#ffffa8"/>
<rect x="300" y="185" width="50" height="10" fill="#ffffa8"/>
<rect x="370" y="185" width="30" height="10" fill="#ffffa8"/>
<rect x="420" y="185" width="10" height="10" fill="#ffd000"/>
<rect x="450" y="185" width="70" height="10" fill="#ffd000"/>
<rect x="40" y="195" width="20" height="10" fill="#fff66e"/>
<rect x="140" y="195" width="40" height="10" fill="#ffd000"/>
<rect x="190" y="195" width="30" height="10" fill="#ffd000"/>
<rect x="220" y="195" width="10" height="10" fill="#ff5500"/>
<rect x="230" y="195" width="10" height="10" fill="#ffd000"/>
<rect x="260" y="195" width="10" height="10" fill="#ff5500"/>
<rect x="280" y="195" width="10" height="10" fill="#ffffa8"/>
<rect x="290" y="195" width="10" height="10" fill="#ff5500"/>
<rect x="310" y="195" width="10" height="10" fill="#ff5500"/>
<rect x="320" y="195" width="10" height="10" fill="#ffd000"/>
<rect x="330" y="195" width="10" height="10" fill="#ff5500"/>
<rect x="350" y="195" width="10" height="10" fill="#ff6400"/>
<rect x="360" y="195" width="10" height="10" fill="#ffffa8"/>
<rect x="390" y="195" width="10" height="10" fill="#ff5500"/>
<rect x="400" y="195" width="10" height="10" fill="#fff66e"/>
<rect x="410" y="195" width="10" height="10" fill="#ff5500"/>
<rect x="420" y="195" width="10" height="10" fill="#ffd000"/>
<rect x="470" y="195" width="50" height="10" fill="#ffffa8"/>
<rect x="40" y="205" width="20" height="10" fill="#fff66e"/>
<rect x="70" y="205" width="60" height="10" fill="#ffd000"/>
<rect x="130" y="205" width="20" height="10" fill="#ff5500"/>
<rect x="150" y="205" width="10" height="10" fill="#ff6400"/>
<rect x="160" y="205" width="40" height="10" fill="#ffd000"/>
<rect x="200" y="205" width="10" height="10" fill="#ff5500"/>
<rect x="210" y="205" width="20" height="10" fill="#ffd000"/>
<rect x="240" y="205" width="20" height="10" fill="#ffd000"/>
<rect x="270" y="205" width="20" height="10" fill="#ffffa8"/>
<rect x="300" y="205" width="10" height="10" fill="#ff5500"/>
<rect x="330" y="205" width="10" height="10" fill="#ff5500"/>
<rect x="350" y="205" width="10" height="10" fill="#ff5500"/>
<rect x="370" y="205" width="10" height="10" fill="#ffffa8"/>
<rect x="380" y="205" width="10" height="10" fill="#ffd000"/>
<rect x="390" y="205" width="20" height="10" fill="#ff5500"/>
<rect x="430" y="205" width="20" height="10" fill="#ff5500"/>
<rect x="450" y="205" width="10" height="10" fill="#ffd000"/>
<rect x="460" y="205" width="60" height="10" fill="#ffffa8"/>
<rect x="40" y="215" width="20" height="10" fill="#fff66e"/>
<rect x="100" y="215" width="30" height="10" fill="#ff6400"/>
<rect x="130" y="215" width="10" height="10" fill="#ff5500"/>
<rect x="140" y="215" width="20" height="10" fill="#ff6400"/>
<rect x="160" y="215" width="10" height="10" fill="#ffd000"/>
<rect x="170" y="215" width="10" height="10" fill="#ff5500"/>
<rect x="180" y="215" width="10" height="10" fill="#ffd000"/>
<rect x="200" y="215" width="20" height="10" fill="#ffd000"/>
<rect x="220" y="215" width="10" height="10" fill="#ff5500"/>
<rect x="230" y="215" width="10" height="10" fill="#ffd000"/>
<rect x="240" y="215" width="10" height="10" fill="#ff5500"/>
<rect x="250" y="215" width="20" height="10" fill="#ffd000"/>
<rect x="270" y="215" width="10" height="10" fill="#ff5500"/>
<rect x="290" y="215" width="10" height="10" fill="#ffd000"/>
<rect x="300" y="215" width="20" height="10" fill="#ff5500"/>
<rect x="330" y="215" width="10" height="10" fill="#ff5500"/>
<rect x="350" y="215" width="10" height="10" fill="#ff6400"/>
<rect x="360" y="215" width="10" height="10" fill="#ffd000"/>
<rect x="370" y="215" width="10" height="10" fill="#ffffa8"/>
<rect x="380" y="215" width="30" height="10" fill="#ffd000"/>
<rect x="420" y="215" width="10" height="10" fill="#ffd000"/>
<rect x="430" y="215" width="20" height="10" fill="#ff5500"/>
<rect x="450" y="215" width="10" height="10" fill="#ffd000"/>
<rect x="460" y="215" width="10" height="10" fill="#ffffa8"/>
<rect x="40" y="225" width="20" height="10" fill="#fff66e"/>
<rect x="100" y="225" width="10" height="10" fill="#ffd000"/>
<rect x="110" y="225" width="30" height="10" fill="#ff6400"/>
<rect x="140" y="225" width="20" height="10" fill="#ff5500"/>
<rect x="160" y="225" width="20" height="10" fill="#ffd000"/>
<rect x="200" y="225" width="30" height="10" fill="#ffd000"/>
<rect x="240" y="225" width="20" height="10" fill="#ffd000"/>
<rect x="290" y="225" width="10" height="10" fill="#ff5500"/>
<rect x="300" y="225" width="10" height="10" fill="#ffd000"/>
<rect x="320" y="225" width="20" height="10" fill="#ffd000"/>
<rect x="340" y="225" width="10" height="10" fill="#ff5500"/>
<rect x="350" y="225" width="10" height="10" fill="#ff6400"/>
<rect x="380" y="225" width="20" height="10" fill="#ffd000"/>
<rect x="440" y="225" width="10" height="10" fill="#ffd000"/>
<rect x="460" y="225" width="10" height="10" fill="#ffffa8"/>
<rect x="40" y="235" width="20" height="10" fill="#fff66e"/>
<rect x="100" y="235" width="10" height="10" fill="#ffd000"/>
<rect x="120" y="235" width="10" height="10" fill="#ff5500"/>
<rect x="130" y="235" width="20" height="10" fill="#ff6400"/>
<rect x="150" y="235" width="10" height="10" fill="#ff5500"/>
<rect x="160" y="235" width="10" height="10" fill="#ff6400"/>
<rect x="170" y="235" width="10" height="10" fill="#ffd000"/>
<rect x="210" y="235" width="20" height="10" fill="#ffd000"/>
<rect x="240" y="235" width="30" height="10" fill="#ffd000"/>
<rect x="290" y="235" width="20" height="10" fill="#ffd000"/>
<rect x="320" y="235" width="10" height="10" fill="#ffd000"/>
<rect x="340" y="235" width="10" height="10" fill="#ff6400"/>
<rect x="350" y="235" width="10" height="10" fill="#ff5500"/>
<rect x="370" y="235" width="20" height="10" fill="#ff5500"/>
<rect x="390" y="235" width="10" height="10" fill="#ffd000"/>
<rect x="420" y="235" width="10" height="10" fill="#ffd000"/>
<rect x="430" y="235" width="20" height="10" fill="#ff5500"/>
<rect x="450" y="235" width="10" height="10" fill="#ffd000"/>
<rect x="460" y="235" width="10" height="10" fill="#ffffa8"/>
<rect x="470" y="235" width="50" height="10" fill="#ffd000"/>
<rect x="40" y="245" width="20" height="10" fill="#fff66e"/>
<rect x="80" y="245" width="20" height="10" fill="#ff5500"/>
<rect x="100" y="245" width="10" height="10" fill="#fff66e"/>
<rect x="110" y="245" width="10" height="10" fill="#ff5500"/>
<rect x="120" y="245" width="10" height="10" fill="#ffd000"/>
<rect x="130" y="245" width="10" height="10" fill="#ff6400"/>
<rect x="140" y="245" width="10" height="10" fill="#ff5500"/>
<rect x="160" y="245" width="10" height="10" fill="#ff6400"/>
<rect x="170" y="245" width="10" height="10" fill="#ffd000"/>
<rect x="190" y="245" width="10" height="10" fill="#ffffa8"/>
<rect x="220" y="245" width="20" height="10" fill="#ffd000"/>
<rect x="240" y="245" width="10" height="10" fill="#ffffa8"/>
<rect x="260" y="245" width="10" height="10" fill="#ffd000"/>
<rect x="330" y="245" width="10" height="10" fill="#ff5500"/>
<rect x="340" y="245" width="10" height="10" fill="#ff6400"/>
<rect x="360" y="245" width="10" height="10" fill="#ffd000"/>
<rect x="370" y="245" width="20" height="10" fill="#ff6400"/>
<rect x="420" y="245" width="10" height="10" fill="#ffd000"/>
<rect x="430" y="245" width="10" height="10" fill="#ff5500"/>
<rect x="440" y="245" width="20" height="10" fill="#ffd000"/>
<rect x="460" y="245" width="10" height="10" fill="#ffffa8"/>
<rect x="470" y="245" width="10" height="10" fill="#ff5500"/>
<rect x="480" y="245" width="40" height="10" fill="#ffd000"/>
<rect x="40" y="255" width="20" height="10" fill="#fff66e"/>
<rect x="80" y="255" width="10" height="10" fill="#ffd000"/>
<rect x="90" y="255" width="10" height="10" fill="#ff5500"/>
<rect x="100" y="255" width="40" height="10" fill="#ff6400"/>
<rect x="140" y="255" width="20" height="10" fill="#ff5500"/>
<rect x="160" y="255" width="10" height="10" fill="#ffffa8"/>
<rect x="170" y="255" width="30" height="10" fill="#ffd000"/>
<rect x="210" y="255" width="20" height="10" fill="#ffd000"/>
<rect x="240" y="255" width="10" height="10" fill="#ffffa8"/>
<rect x="260" y="255" width="10" height="10" fill="#ffd000"/>
<rect x="290" y="255" width="10" height="10" fill="#ffffa8"/>
<rect x="310" y="255" width="10" height="10" fill="#ffffa8"/>
<rect x="330" y="255" width="10" height="10" fill="#ffd000"/>
<rect x="340" y="255" width="10" height="10" fill="#ff6400"/>
<rect x="350" y="255" width="10" height="10" fill="#ff5500"/>
<rect x="360" y="255" width="10" height="10" fill="#ffd000"/>
<rect x="370" y="255" width="10" height="10" fill="#ff5500"/>
<rect x="400" y="255" width="10" height="10" fill="#ffffa8"/>
<rect x="440" y="255" width="10" height="10" fill="#ffd000"/>
<rect x="450" y="255" width="10" height="10" fill="#ff5500"/>
<rect x="460" y="255" width="10" height="10" fill="#ffffa8"/>
<rect x="490" y="255" width="30" height="10" fill="#ffffa8"/>
<rect x="50" y="265" width="10" height="10" fill="#ffffa8"/>
<rect x="80" y="265" width="10" height="10" fill="#ffd000"/>
<rect x="90" y="265" width="10" height="10" fill="#ff5500"/>
<rect x="100" y="265" width="30" height="10" fill="#ff6400"/>
<rect x="130" y="265" width="10" height="10" fill="#ff5500"/>
<rect x="140" y="265" width="30" height="10" fill="#ff6400"/>
<rect x="180" y="265" width="20" height="10" fill="#ffd000"/>
<rect x="220" y="265" width="10" height="10" fill="#ffd000"/>
<rect x="240" y="265" width="20" height="10" fill="#ffd000"/>
<rect x="260" y="265" width="20" height="10" fill="#ff5500"/>
<rect x="280" y="265" width="10" height="10" fill="#ff6400"/>
<rect x="290" y="265" width="10" height="10" fill="#ffd000"/>
<rect x="310" y="265" width="10" height="10" fill="#ffd000"/>
<rect x="340" y="265" width="10" height="10" fill="#ff5500"/>
<rect x="350" y="265" width="10" height="10" fill="#ffd000"/>
<rect x="370" y="265" width="10" height="10" fill="#ff6400"/>
<rect x="390" y="265" width="20" height="10" fill="#ffffa8"/>
<rect x="420" y="265" width="10" height="10" fill="#ffffa8"/>
<rect x="440" y="265" width="20" height="10" fill="#ff5500"/>
<rect x="460" y="265" width="10" height="10" fill="#ffffa8"/>
<rect x="30" y="275" width="10" height="10" fill="#fff66e"/>
<rect x="60" y="275" width="10" height="10" fill="#ffd000"/>
<rect x="80" y="275" width="10" height="10" fill="#ffd000"/>
<rect x="90" y="275" width="10" height="10" fill="#ff5500"/>
<rect x="100" y="275" width="20" height="10" fill="#ff6400"/>
<rect x="120" y="275" width="10" height="10" fill="#ff5500"/>
<rect x="130" y="275" width="10" height="10" fill="#ffd000"/>
<rect x="140" y="275" width="10" height="10" fill="#ff5500"/>
<rect x="150" y="275" width="30" height="10" fill="#ff6400"/>
<rect x="180" y="275" width="20" height="10" fill="#ffd000"/>
<rect x="210" y="275" width="10" height="10" fill="#ffd000"/>
<rect x="230" y="275" width="10" height="10" fill="#ffffa8"/>
<rect x="240" y="275" width="30" height="10" fill="#ffd000"/>
<rect x="290" y="275" width="10" height="10" fill="#ffd000"/>
<rect x="300" y="275" width="10" height="10" fill="#ff5500"/>
<rect x="320" y="275" width="40" height="10" fill="#ff5500"/>
<rect x="370" y="275" width="10" height="10" fill="#ff5500"/>
<rect x="380" y="275" width="10" height="10" fill="#ff6400"/>
<rect x="390" y="275" width="20" height="10" fill="#ffffa8"/>
<rect x="420" y="275" width="20" height="10" fill="#ffffa8"/>
<rect x="440" y="275" width="10" height="10" fill="#ffd000"/>
<rect x="450" y="275" width="10" height="10" fill="#ff6400"/>
<rect x="460" y="275" width="10" height="10" fill="#ffffa8"/>
<rect x="470" y="275" width="10" height="10" fill="#ffd000"/>
<rect x="0" y="285" width="30" height="10" fill="#ffd000"/>
<rect x="50" y="285" width="10" height="10" fill="#ff5500"/>
<rect x="60" y="285" width="10" height="10" fill="#ffd000"/>
<rect x="70" y="285" width="10" height="10" fill="#ff5500"/>
<rect x="80" y="285" width="10" height="10" fill="#ffd000"/>
<rect x="90" y="285" width="10" height="10" fill="#ff5500"/>
<rect x="100" y="285" width="40" height="10" fill="#ffd000"/>
<rect x="140" y="285" width="10" height="10" fill="#ff5500"/>
<rect x="160" y="285" width="20" height="10" fill="#ff5500"/>
<rect x="180" y="285" width="10" height="10" fill="#ff6400"/>
<rect x="190" y="285" width="10" height="10" fill="#ff5500"/>
<rect x="200" y="285" width="50" height="10" fill="#ffd000"/>
<rect x="250" y="285" width="10" height="10" fill="#ff5500"/>
<rect x="260" y="285" width="20" height="10" fill="#ffd000"/>
<rect x="280" y="285" width="10" height="10" fill="#ff6400"/>
<rect x="290" y="285" width="10" height="10" fill="#ff5500"/>
<rect x="300" y="285" width="10" height="10" fill="#ffd000"/>
<rect x="310" y="285" width="10" height="10" fill="#ff5500"/>
<rect x="320" y="285" width="10" height="10" fill="#ffd000"/>
<rect x="340" y="285" width="10" height="10" fill="#ff5500"/>
<rect x="350" y="285" width="20" height="10" fill="#ffd000"/>
<rect x="370" y="285" width="10" height="10" fill="#ff6400"/>
<rect x="380" y="285" width="10" height="10" fill="#ffd000"/>
<rect x="390" y="285" width="20" height="10" fill="#ffffa8"/>
<rect x="420" y="285" width="10" height="10" fill="#ffffa8"/>
<rect x="440" y="285" width="10" height="10" fill="#ffd000"/>
<rect x="460" y="285" width="10" height="10" fill="#ffffa8"/>
<rect x="470" y="285" width="50" height="10" fill="#ffd000"/>
<rect x="0" y="295" width="40" height="10" fill="#ffd000"/>
<rect x="40" y="295" width="10" height="10" fill="#ff5500"/>
<rect x="50" y="295" width="50" height="10" fill="#ffd000"/>
<rect x="100" y="295" width="30" height="10" fill="#ff6400"/>
<rect x="130" y="295" width="10" height="10" fill="#ff5500"/>
<rect x="140" y="295" width="10" height="10" fill="#ff6400"/>
<rect x="150" y="295" width="50" height="10" fill="#ff5500"/>
<rect x="200" y="295" width="10" height="10" fill="#ffd000"/>
<rect x="220" y="295" width="40" height="10" fill="#ffd000"/>
<rect x="260" y="295" width="10" height="10" fill="#ff5500"/>
<rect x="270" y="295" width="20" height="10" fill="#ff6400"/>
<rect x="290" y="295" width="20" height="10" fill="#ffd000"/>
<rect x="310" y="295" width="30" height="10" fill="#ff6400"/>
<rect x="340" y="295" width="10" height="10" fill="#ff5500"/>
<rect x="350" y="295" width="10" height="10" fill="#ffd000"/>
<rect x="360" y="295" width="20" height="10" fill="#ff5500"/>
<rect x="380" y="295" width="20" height="10" fill="#ffd000"/>
<rect x="400" y="295" width="20" height="10" fill="#ffffa8"/>
<rect x="430" y="295" width="10" height="10" fill="#ffd000"/>
<rect x="470" y="295" width="50" height="10" fill="#ffd000"/>
<rect x="0" y="305" width="40" height="10" fill="#ffd000"/>
<rect x="40" y="305" width="10" height="10" fill="#ff5500"/>
<rect x="50" y="305" width="90" height="10" fill="#ffd000"/>
<rect x="140" y="305" width="10" height="10" fill="#ff5500"/>
<rect x="150" y="305" width="20" height="10" fill="#ffd000"/>
<rect x="170" y="305" width="10" height="10" fill="#ff5500"/>
<rect x="180" y="305" width="10" height="10" fill="#ff6400"/>
<rect x="190" y="305" width="20" height="10" fill="#ffd000"/>
<rect x="220" y="305" width="10" height="10" fill="#ffd000"/>
<rect x="240" y="305" width="10" height="10" fill="#ff5500"/>
<rect x="260" y="305" width="10" height="10" fill="#ffd000"/>
<rect x="270" y="305" width="30" height="10" fill="#ff6400"/>
<rect x="320" y="305" width="10" height="10" fill="#ff5500"/>
<rect x="330" y="305" width="10" height="10" fill="#ff6400"/>
<rect x="340" y="305" width="30" height="10" fill="#ffd000"/>
<rect x="370" y="305" width="10" height="10" fill="#ff6400"/>
<rect x="380" y="305" width="20" height="10" fill="#ffd000"/>
<rect x="420" y="305" width="10" height="10" fill="#ffd000"/>
<rect x="470" y="305" width="50" height="10" fill="#ffd000"/>
<rect x="0" y="315" width="40" height="10" fill="#ffd000"/>
<rect x="40" y="315" width="10" height="10" fill="#ff5500"/>
<rect x="50" y="315" width="80" height="10" fill="#ffd000"/>
<rect x="130" y="315" width="10" height="10" fill="#ff5500"/>
<rect x="140" y="315" width="20" height="10" fill="#ffd000"/>
<rect x="160" y="315" width="20" height="10" fill="#ff5500"/>
<rect x="180" y="315" width="10" height="10" fill="#ffd000"/>
<rect x="190" y="315" width="10" height="10" fill="#ff5500"/>
<rect x="200" y="315" width="30" height="10" fill="#ffd000"/>
<rect x="230" y="315" width="10" height="10" fill="#ff5500"/>
<rect x="240" y="315" width="10" height="10" fill="#ff6400"/>
<rect x="250" y="315" width="10" height="10" fill="#ff5500"/>
<rect x="270" y="315" width="10" height="10" fill="#ff6400"/>
<rect x="280" y="315" width="10" height="10" fill="#ff5500"/>
<rect x="290" y="315" width="20" height="10" fill="#ff6400"/>
<rect x="310" y="315" width="10" height="10" fill="#ff5500"/>
<rect x="320" y="315" width="10" height="10" fill="#ff6400"/>
<rect x="330" y="315" width="10" height="10" fill="#ff5500"/>
<rect x="350" y="315" width="40" height="10" fill="#ffd000"/>
<rect x="390" y="315" width="10" height="10" fill="#ff5500"/>
<rect x="400" y="315" width="10" height="10" fill="#ffd000"/>
<rect x="410" y="315" width="20" height="10" fill="#ff5500"/>
<rect x="440" y="315" width="10" height="10" fill="#ffffa8"/>
<rect x="460" y="315" width="60" height="10" fill="#ffd000"/>
<rect x="0" y="325" width="40" height="10" fill="#ffd000"/>
<rect x="40" y="325" width="10" height="10" fill="#ff5500"/>
<rect x="50" y="325" width="40" height="10" fill="#ffd000"/>
<rect x="90" y="325" width="50" height="10" fill="#ff5500"/>
<rect x="140" y="325" width="50" height="10" fill="#ffd000"/>
<rect x="190" y="325" width="10" height="10" fill="#ff6400"/>
<rect x="200" y="325" width="10" height="10" fill="#ff5500"/>
<rect x="210" y="325" width="20" height="10" fill="#ffd000"/>
<rect x="230" y="325" width="10" height="10" fill="#ff5500"/>
<rect x="240" y="325" width="10" height="10" fill="#ff6400"/>
<rect x="250" y="325" width="10" height="10" fill="#ff5500"/>
<rect x="260" y="325" width="20" height="10" fill="#ffffa8"/>
<rect x="280" y="325" width="10" height="10" fill="#ff5500"/>
<rect x="290" y="325" width="40" height="10" fill="#ff6400"/>
<rect x="330" y="325" width="10" height="10" fill="#ff5500"/>
<rect x="340" y="325" width="10" height="10" fill="#ff6400"/>
<rect x="360" y="325" width="10" height="10" fill="#ffd000"/>
<rect x="370" y="325" width="10" height="10" fill="#ff5500"/>
<rect x="380" y="325" width="20" height="10" fill="#ffd000"/>
<rect x="400" y="325" width="10" height="10" fill="#ff5500"/>
<rect x="410" y="325" width="10" height="10" fill="#ffd000"/>
<rect x="420" y="325" width="10" height="10" fill="#ff5500"/>
<rect x="430" y="325" width="10" height="10" fill="#ff6400"/>
<rect x="440" y="325" width="20" height="10" fill="#ff5500"/>
<rect x="460" y="325" width="60" height="10" fill="#ffd000"/>
<rect x="0" y="335" width="40" height="10" fill="#ffd000"/>
<rect x="40" y="335" width="10" height="10" fill="#ff5500"/>
<rect x="50" y="335" width="40" height="10" fill="#ffd000"/>
<rect x="90" y="335" width="50" height="10" fill="#ff6400"/>
<rect x="140" y="335" width="20" height="10" fill="#ff5500"/>
<rect x="160" y="335" width="10" height="10" fill="#ff6400"/>
<rect x="170" y="335" width="30" height="10" fill="#ff5500"/>
<rect x="200" y="335" width="10" height="10" fill="#ff6400"/>
<rect x="210" y="335" width="10" height="10" fill="#ffd000"/>
<rect x="220" y="335" width="20" height="10" fill="#ff5500"/>
<rect x="240" y="335" width="10" height="10" fill="#ffd000"/>
<rect x="250" y="335" width="30" height="10" fill="#ffffa8"/>
<rect x="280" y="335" width="10" height="10" fill="#ffd000"/>
<rect x="290" y="335" width="60" height="10" fill="#ff6400"/>
<rect x="350" y="335" width="10" height="10" fill="#ffd000"/>
<rect x="360" y="335" width="20" height="10" fill="#ff5500"/>
<rect x="380" y="335" width="20" height="10" fill="#ff6400"/>
<rect x="400" y="335" width="10" height="10" fill="#ffd000"/>
<rect x="410" y="335" width="10" height="10" fill="#ff5500"/>
<rect x="420" y="335" width="10" height="10" fill="#ff6400"/>
<rect x="430" y="335" width="90" height="10" fill="#ffd000"/>
<rect x="0" y="345" width="40" height="10" fill="#ffd000"/>
<rect x="40" y="345" width="10" height="10" fill="#ff5500"/>
<rect x="50" y="345" width="30" height="10" fill="#ffd000"/>
<rect x="80" y="345" width="60" height="10" fill="#ff5500"/>
<rect x="140" y="345" width="10" height="10" fill="#ff6400"/>
<rect x="150" y="345" width="10" height="10" fill="#ffd000"/>
<rect x="160" y="345" width="10" height="10" fill="#ff6400"/>
<rect x="170" y="345" width="20" height="10" fill="#ff5500"/>
<rect x="190" y="345" width="10" height="10" fill="#ffffa8"/>
<rect x="210" y="345" width="10" height="10" fill="#ff5500"/>
<rect x="220" y="345" width="30" height="10" fill="#ff6400"/>
<rect x="250" y="345" width="10" height="10" fill="#ffffa8"/>
<rect x="260" y="345" width="20" height="10" fill="#ff5500"/>
<rect x="280" y="345" width="10" height="10" fill="#ffd000"/>
<rect x="290" y="345" width="40" height="10" fill="#ff6400"/>
<rect x="330" y="345" width="10" height="10" fill="#ff5500"/>
<rect x="340" y="345" width="10" height="10" fill="#ff6400"/>
<rect x="350" y="345" width="20" height="10" fill="#ffd000"/>
<rect x="370" y="345" width="10" height="10" fill="#ff5500"/>
<rect x="380" y="345" width="10" height="10" fill="#ff6400"/>
<rect x="390" y="345" width="10" height="10" fill="#ffd000"/>
<rect x="400" y="345" width="30" height="10" fill="#ff6400"/>
<rect x="440" y="345" width="10" height="10" fill="#ff6400"/>
<rect x="450" y="345" width="70" height="10" fill="#ffd000"/>
<rect x="0" y="355" width="40" height="10" fill="#ffd000"/>
<rect x="40" y="355" width="10" height="10" fill="#ff5500"/>
<rect x="50" y="355" width="30" height="10" fill="#ffd000"/>
<rect x="80" y="355" width="60" height="10" fill="#ff5500"/>
<rect x="140" y="355" width="10" height="10" fill="#ff6400"/>
<rect x="150" y="355" width="10" height="10" fill="#ff5500"/>
<rect x="160" y="355" width="10" height="10" fill="#ffd000"/>
<rect x="180" y="355" width="10" height="10" fill="#ff5500"/>
<rect x="200" y="355" width="10" height="10" fill="#ff5500"/>
<rect x="210" y="355" width="10" height="10" fill="#ff6400"/>
<rect x="220" y="355" width="10" height="10" fill="#ff5500"/>
<rect x="230" y="355" width="10" height="10" fill="#ffd000"/>
<rect x="240" y="355" width="10" height="10" fill="#ff5500"/>
<rect x="250" y="355" width="10" height="10" fill="#ffd000"/>
<rect x="260" y="355" width="20" height="10" fill="#ff5500"/>
<rect x="290" y="355" width="10" height="10" fill="#ff6400"/>
<rect x="300" y="355" width="10" height="10" fill="#ffd000"/>
<rect x="320" y="355" width="10" height="10" fill="#ffd000"/>
<rect x="330" y="355" width="20" height="10" fill="#ff6400"/>
<rect x="350" y="355" width="20" height="10" fill="#ff5500"/>
<rect x="370" y="355" width="10" height="10" fill="#ffd000"/>
<rect x="380" y="355" width="10" height="10" fill="#ff6400"/>
<rect x="400" y="355" width="10" height="10" fill="#ffd000"/>
<rect x="410" y="355" width="10" height="10" fill="#ff5500"/>
<rect x="420" y="355" width="10" height="10" fill="#ffd000"/>
<rect x="430" y="355" width="10" height="10" fill="#fff66e"/>
<rect x="440" y="355" width="80" height="10" fill="#ffd000"/>
<rect x="0" y="365" width="40" height="10" fill="#ffd000"/>
<rect x="40" y="365" width="10" height="10" fill="#ff5500"/>
<rect x="50" y="365" width="20" height="10" fill="#ffd000"/>
<rect x="70" y="365" width="80" height="10" fill="#ff5500"/>
<rect x="150" y="365" width="10" height="10" fill="#ff6400"/>
<rect x="160" y="365" width="20" height="10" fill="#ffd000"/>
<rect x="180" y="365" width="10" height="10" fill="#ff6400"/>
<rect x="190" y="365" width="10" height="10" fill="#ffd000"/>
<rect x="200" y="365" width="10" height="10" fill="#ff5500"/>
<rect x="210" y="365" width="20" height="10" fill="#ffd000"/>
<rect x="230" y="365" width="20" height="10" fill="#ff6400"/>
<rect x="250" y="365" width="10" height="10" fill="#ffd000"/>
<rect x="260" y="365" width="10" height="10" fill="#ff6400"/>
<rect x="270" y="365" width="10" height="10" fill="#ff5500"/>
<rect x="280" y="365" width="10" height="10" fill="#ffd000"/>
<rect x="290" y="365" width="10" height="10" fill="#ff5500"/>
<rect x="300" y="365" width="10" height="10" fill="#ff6400"/>
<rect x="310" y="365" width="10" height="10" fill="#ffd000"/>
<rect x="330" y="365" width="10" height="10" fill="#ff5500"/>
<rect x="340" y="365" width="10" height="10" fill="#ff6400"/>
<rect x="350" y="365" width="10" height="10" fill="#ff5500"/>
<rect x="360" y="365" width="10" height="10" fill="#ff6400"/>
<rect x="380" y="365" width="10" height="10" fill="#ffd000"/>
<rect x="390" y="365" width="10" height="10" fill="#ffffa8"/>
<rect x="400" y="365" width="120" height="10" fill="#ffd000"/>
<rect x="0" y="375" width="40" height="10" fill="#ffd000"/>
<rect x="40" y="375" width="10" height="10" fill="#ff5500"/>
<rect x="50" y="375" width="10" height="10" fill="#ffd000"/>
<rect x="140" y="375" width="10" height="10" fill="#ff5500"/>
<rect x="150" y="375" width="110" height="10" fill="#ffd000"/>
<rect x="260" y="375" width="10" height="10" fill="#ff5500"/>
<rect x="270" y="375" width="60" height="10" fill="#ffd000"/>
<rect x="330" y="375" width="20" height="10" fill="#ff6400"/>
<rect x="350" y="375" width="10" height="10" fill="#ff5500"/>
<rect x="360" y="375" width="10" height="10" fill="#ff6400"/>
<rect x="370" y="375" width="30" height="10" fill="#ffd000"/>
<rect x="410" y="375" width="110" height="10" fill="#ffd000"/>
<rect x="0" y="385" width="40" height="10" fill="#ffd000"/>
<rect x="40" y="385" width="10" height="10" fill="#ff5500"/>
<rect x="50" y="385" width="280" height="10" fill="#fff66e"/>
<rect x="330" y="385" width="30" height="10" fill="#ff6400"/>
<rect x="360" y="385" width="10" height="10" fill="#ffd000"/>
<rect x="370" y="385" width="10" height="10" fill="#ff5500"/>
<rect x="380" y="385" width="30" height="10" fill="#ffd000"/>
<rect x="410" y="385" width="10" height="10" fill="#ff5500"/>
<rect x="420" y="385" width="100" height="10" fill="#ffd000"/>
<rect x="0" y="395" width="40" height="10" fill="#ffd000"/>
<rect x="40" y="395" width="10" height="10" fill="#ff5500"/>
<rect x="50" y="395" width="320" height="10" fill="#fff66e"/>
<rect x="370" y="395" width="20" height="10" fill="#ff6400"/>
<rect x="390" y="395" width="10" height="10" fill="#ff5500"/>
<rect x="400" y="395" width="10" height="10" fill="#ffd000"/>
<rect x="410" y="395" width="10" height="10" fill="#ff5500"/>
<rect x="420" y="395" width="100" height="10" fill="#ff6400"/>
<rect x="0" y="405" width="40" height="10" fill="#ffd000"/>
<rect x="40" y="405" width="10" height="10" fill="#ff5500"/>
<rect x="50" y="405" width="320" height="10" fill="#fff66e"/>
<rect x="370" y="405" width="150" height="10" fill="#ff6400"/>
<rect x="0" y="415" width="40" height="10" fill="#ffd000"/>
<rect x="40" y="415" width="10" height="10" fill="#ff5500"/>
<rect x="50" y="415" width="320" height="10" fill="#fff66e"/>
<rect x="370" y="415" width="150" height="10" fill="#ff6400"/>
<rect x="0" y="425" width="40" height="10" fill="#ffd000"/>
<rect x="40" y="425" width="10" height="10" fill="#ff5500"/>
<rect x="50" y="425" width="310" height="10" fill="#fff66e"/>
<rect x="360" y="425" width="160" height="10" fill="#ff6400"/>
<rect x="0" y="435" width="40" height="10" fill="#ffd000"/>
<rect x="40" y="435" width="10" height="10" fill="#ff5500"/>
<rect x="50" y="435" width="310" height="10" fill="#fff66e"/>
<rect x="360" y="435" width="160" height="10" fill="#ff6400"/>
<rect x="0" y="445" width="40" height="10" fill="#ffd000"/>
<rect x="40" y="445" width="10" height="10" fill="#ff5500"/>
<rect x="50" y="445" width="310" height="10" fill="#fff66e"/>
<rect x="360" y="445" width="160" height="10" fill="#ff6400"/></g></g>
<g mask="url(#spk2)"><g filter="url(#disp)"><rect x="310" y="45" width="10" height="10" fill="#ffff00"/>
<rect x="300" y="55" width="10" height="10" fill="#ffff00"/>
<rect x="330" y="55" width="10" height="10" fill="#ffff00"/>
<rect x="290" y="65" width="30" height="10" fill="#ffff00"/>
<rect x="0" y="75" width="30" height="10" fill="#ffff00"/>
<rect x="240" y="75" width="20" height="10" fill="#ffff00"/>
<rect x="310" y="75" width="10" height="10" fill="#ffff00"/>
<rect x="0" y="85" width="40" height="10" fill="#ffff00"/>
<rect x="240" y="85" width="10" height="10" fill="#ffff00"/>
<rect x="280" y="85" width="10" height="10" fill="#ffff00"/>
<rect x="320" y="85" width="10" height="10" fill="#ffff00"/>
<rect x="0" y="95" width="40" height="10" fill="#ffff00"/>
<rect x="240" y="95" width="10" height="10" fill="#ffff00"/>
<rect x="260" y="95" width="40" height="10" fill="#ffff00"/>
<rect x="320" y="95" width="10" height="10" fill="#ffff00"/>
<rect x="0" y="105" width="40" height="10" fill="#ffff00"/>
<rect x="250" y="105" width="10" height="10" fill="#ffff00"/>
<rect x="280" y="105" width="20" height="10" fill="#ffff00"/>
<rect x="320" y="105" width="30" height="10" fill="#ffff00"/>
<rect x="0" y="115" width="40" height="10" fill="#ffff00"/>
<rect x="230" y="115" width="20" height="10" fill="#ffff00"/>
<rect x="280" y="115" width="10" height="10" fill="#ffff00"/>
<rect x="310" y="115" width="20" height="10" fill="#ffff00"/>
<rect x="340" y="115" width="10" height="10" fill="#ffff00"/>
<rect x="0" y="125" width="40" height="10" fill="#ffff00"/>
<rect x="230" y="125" width="10" height="10" fill="#ffff00"/>
<rect x="330" y="125" width="10" height="10" fill="#ffff00"/>
<rect x="350" y="125" width="10" height="10" fill="#ffff00"/>
<rect x="0" y="135" width="40" height="10" fill="#ffff00"/>
<rect x="230" y="135" width="10" height="10" fill="#ffff00"/>
<rect x="340" y="135" width="10" height="10" fill="#ffff00"/>
<rect x="360" y="135" width="10" height="10" fill="#ffff00"/>
<rect x="0" y="145" width="40" height="10" fill="#ffff00"/>
<rect x="220" y="145" width="10" height="10" fill="#ffff00"/>
<rect x="280" y="145" width="10" height="10" fill="#ffff00"/>
<rect x="310" y="145" width="10" height="10" fill="#ffff00"/>
<rect x="0" y="155" width="40" height="10" fill="#ffff00"/>
<rect x="200" y="155" width="10" height="10" fill="#ffff00"/>
<rect x="220" y="155" width="10" height="10" fill="#ffff00"/>
<rect x="240" y="155" width="20" height="10" fill="#ffff00"/>
<rect x="380" y="155" width="10" height="10" fill="#ffff00"/>
<rect x="0" y="165" width="40" height="10" fill="#ffff00"/>
<rect x="200" y="165" width="10" height="10" fill="#ffff00"/>
<rect x="270" y="165" width="10" height="10" fill="#ffff00"/>
<rect x="360" y="165" width="10" height="10" fill="#ffff00"/>
<rect x="0" y="175" width="40" height="10" fill="#ffff00"/>
<rect x="200" y="175" width="10" height="10" fill="#ffff00"/>
<rect x="240" y="175" width="10" height="10" fill="#ffff00"/>
<rect x="360" y="175" width="10" height="10" fill="#ffff00"/>
<rect x="380" y="175" width="10" height="10" fill="#ffff00"/>
<rect x="420" y="175" width="10" height="10" fill="#ffff00"/>
<rect x="0" y="185" width="40" height="10" fill="#ffff00"/>
<rect x="200" y="185" width="10" height="10" fill="#ffff00"/>
<rect x="240" y="185" width="10" height="10" fill="#ffff00"/>
<rect x="270" y="185" width="10" height="10" fill="#ffff00"/>
<rect x="290" y="185" width="10" height="10" fill="#ffff00"/>
<rect x="350" y="185" width="20" height="10" fill="#ffff00"/>
<rect x="400" y="185" width="20" height="10" fill="#ffff00"/>
<rect x="430" y="185" width="20" height="10" fill="#ffff00"/>
<rect x="0" y="195" width="40" height="10" fill="#ffff00"/>
<rect x="60" y="195" width="80" height="10" fill="#ffff00"/>
<rect x="180" y="195" width="10" height="10" fill="#ffff00"/>
<rect x="240" y="195" width="20" height="10" fill="#ffff00"/>
<rect x="270" y="195" width="10" height="10" fill="#ffff00"/>
<rect x="300" y="195" width="10" height="10" fill="#ffff00"/>
<rect x="340" y="195" width="10" height="10" fill="#ffff00"/>
<rect x="370" y="195" width="20" height="10" fill="#ffff00"/>
<rect x="430" y="195" width="40" height="10" fill="#ffff00"/>
<rect x="0" y="205" width="40" height="10" fill="#ffff00"/>
<rect x="60" y="205" width="10" height="10" fill="#ffff00"/>
<rect x="230" y="205" width="10" height="10" fill="#ffff00"/>
<rect x="260" y="205" width="10" height="10" fill="#ffff00"/>
<rect x="290" y="205" width="10" height="10" fill="#ffff00"/>
<rect x="310" y="205" width="20" height="10" fill="#ffff00"/>
<rect x="340" y="205" width="10" height="10" fill="#ffff00"/>
<rect x="360" y="205" width="10" height="10" fill="#ffff00"/>
<rect x="410" y="205" width="20" height="10" fill="#ffff00"/>
<rect x="0" y="215" width="40" height="10" fill="#ffff00"/>
<rect x="60" y="215" width="40" height="10" fill="#ffff00"/>
<rect x="190" y="215" width="10" height="10" fill="#ffff00"/>
<rect x="280" y="215" width="10" height="10" fill="#ffff00"/>
<rect x="320" y="215" width="10" height="10" fill="#ffff00"/>
<rect x="340" y="215" width="10" height="10" fill="#ffff00"/>
<rect x="410" y="215" width="10" height="10" fill="#ffff00"/>
<rect x="470" y="215" width="50" height="10" fill="#ffff00"/>
<rect x="0" y="225" width="40" height="10" fill="#ffff00"/>
<rect x="60" y="225" width="40" height="10" fill="#ffff00"/>
<rect x="180" y="225" width="20" height="10" fill="#ffff00"/>
<rect x="230" y="225" width="10" height="10" fill="#ffff00"/>
<rect x="260" y="225" width="30" height="10" fill="#ffff00"/>
<rect x="310" y="225" width="10" height="10" fill="#ffff00"/>
<rect x="360" y="225" width="20" height="10" fill="#ffff00"/>
<rect x="400" y="225" width="40" height="10" fill="#ffff00"/>
<rect x="450" y="225" width="10" height="10" fill="#ffff00"/>
<rect x="470" y="225" width="50" height="10" fill="#ffff00"/>
<rect x="0" y="235" width="40" height="10" fill="#ffff00"/>
<rect x="60" y="235" width="40" height="10" fill="#ffff00"/>
<rect x="110" y="235" width="10" height="10" fill="#ffff00"/>
<rect x="180" y="235" width="30" height="10" fill="#ffff00"/>
<rect x="230" y="235" width="10" height="10" fill="#ffff00"/>
<rect x="270" y="235" width="20" height="10" fill="#ffff00"/>
<rect x="310" y="235" width="10" height="10" fill="#ffff00"/>
<rect x="330" y="235" width="10" height="10" fill="#ffff00"/>
<rect x="360" y="235" width="10" height="10" fill="#ffff00"/>
<rect x="400" y="235" width="20" height="10" fill="#ffff00"/>
<rect x="0" y="245" width="40" height="10" fill="#ffff00"/>
<rect x="60" y="245" width="20" height="10" fill="#ffff00"/>
<rect x="150" y="245" width="10" height="10" fill="#ffff00"/>
<rect x="180" y="245" width="10" height="10" fill="#ffff00"/>
<rect x="200" y="245" width="20" height="10" fill="#ffff00"/>
<rect x="250" y="245" width="10" height="10" fill="#ffff00"/>
<rect x="270" y="245" width="60" height="10" fill="#ffff00"/>
<rect x="350" y="245" width="10" height="10" fill="#ffff00"/>
<rect x="390" y="245" width="30" height="10" fill="#ffff00"/>
<rect x="0" y="255" width="40" height="10" fill="#ffff00"/>
<rect x="60" y="255" width="20" height="10" fill="#ffff00"/>
<rect x="200" y="255" width="10" height="10" fill="#ffff00"/>
<rect x="230" y="255" width="10" height="10" fill="#ffff00"/>
<rect x="250" y="255" width="10" height="10" fill="#ffff00"/>
<rect x="270" y="255" width="20" height="10" fill="#ffff00"/>
<rect x="300" y="255" width="10" height="10" fill="#ffff00"/>
<rect x="320" y="255" width="10" height="10" fill="#ffff00"/>
<rect x="380" y="255" width="20" height="10" fill="#ffff00"/>
<rect x="410" y="255" width="30" height="10" fill="#ffff00"/>
<rect x="470" y="255" width="20" height="10" fill="#ffff00"/>
<rect x="0" y="265" width="50" height="10" fill="#ffff00"/>
<rect x="60" y="265" width="20" height="10" fill="#ffff00"/>
<rect x="170" y="265" width="10" height="10" fill="#ffff00"/>
<rect x="200" y="265" width="20" height="10" fill="#ffff00"/>
<rect x="230" y="265" width="10" height="10" fill="#ffff00"/>
<rect x="300" y="265" width="10" height="10" fill="#ffff00"/>
<rect x="320" y="265" width="20" height="10" fill="#ffff00"/>
<rect x="360" y="265" width="10" height="10" fill="#ffff00"/>
<rect x="380" y="265" width="10" height="10" fill="#ffff00"/>
<rect x="410" y="265" width="10" height="10" fill="#ffff00"/>
<rect x="430" y="265" width="10" height="10" fill="#ffff00"/>
<rect x="470" y="265" width="50" height="10" fill="#ffff00"/>
<rect x="0" y="275" width="30" height="10" fill="#ffff00"/>
<rect x="40" y="275" width="20" height="10" fill="#ffff00"/>
<rect x="70" y="275" width="10" height="10" fill="#ffff00"/>
<rect x="200" y="275" width="10" height="10" fill="#ffff00"/>
<rect x="220" y="275" width="10" height="10" fill="#ffff00"/>
<rect x="270" y="275" width="20" height="10" fill="#ffff00"/>
<rect x="310" y="275" width="10" height="10" fill="#ffff00"/>
<rect x="360" y="275" width="10" height="10" fill="#ffff00"/>
<rect x="410" y="275" width="10" height="10" fill="#ffff00"/>
<rect x="480" y="275" width="40" height="10" fill="#ffff00"/>
<rect x="30" y="285" width="20" height="10" fill="#ffff00"/>
<rect x="150" y="285" width="10" height="10" fill="#ffff00"/>
<rect x="330" y="285" width="10" height="10" fill="#ffff00"/>
<rect x="410" y="285" width="10" height="10" fill="#ffff00"/>
<rect x="430" y="285" width="10" height="10" fill="#ffff00"/>
<rect x="450" y="285" width="10" height="10" fill="#ffff00"/>
<rect x="210" y="295" width="10" height="10" fill="#ffff00"/>
<rect x="420" y="295" width="10" height="10" fill="#ffff00"/>
<rect x="440" y="295" width="30" height="10" fill="#ffff00"/>
<rect x="210" y="305" width="10" height="10" fill="#ffff00"/>
<rect x="230" y="305" width="10" height="10" fill="#ffff00"/>
<rect x="250" y="305" width="10" height="10" fill="#ffff00"/>
<rect x="300" y="305" width="20" height="10" fill="#ffff00"/>
<rect x="400" y="305" width="20" height="10" fill="#ffff00"/>
<rect x="430" y="305" width="40" height="10" fill="#ffff00"/>
<rect x="260" y="315" width="10" height="10" fill="#ffff00"/>
<rect x="340" y="315" width="10" height="10" fill="#ffff00"/>
<rect x="430" y="315" width="10" height="10" fill="#ffff00"/>
<rect x="450" y="315" width="10" height="10" fill="#ffff00"/>
<rect x="350" y="325" width="10" height="10" fill="#ffff00"/>
<rect x="200" y="345" width="10" height="10" fill="#ffff00"/>
<rect x="430" y="345" width="10" height="10" fill="#ffff00"/>
<rect x="170" y="355" width="10" height="10" fill="#ffff00"/>
<rect x="190" y="355" width="10" height="10" fill="#ffff00"/>
<rect x="280" y="355" width="10" height="10" fill="#ffff00"/>
<rect x="310" y="355" width="10" height="10" fill="#ffff00"/>
<rect x="390" y="355" width="10" height="10" fill="#ffff00"/>
<rect x="320" y="365" width="10" height="10" fill="#ffff00"/>
<rect x="370" y="365" width="10" height="10" fill="#ffff00"/>
<rect x="60" y="375" width="80" height="10" fill="#ffff00"/>
<rect x="400" y="375" width="10" height="10" fill="#ffff00"/></g></g>
<g mask="url(#spk3)"><g filter="url(#disp)"></g></g>
<polygon points="135.0,377.0 140.0,378.0 142.0,385.0 175.0,385.0 176.0,380.5 195.0,381.0 196.0,386.0 225.0,386.0 226.0,388.0 260.0,388.2 274.0,386.1 295.0,383.3 316.0,384.0 330.0,386.8 351.0,392.4 365.0,395.9 379.0,400.8 389.5,405.5 402.8,414.6 409.9,409.5 416.0,406.0 416.0,440.0 130.0,440.0" fill="#fff"/>
<path d="M179,380 L179,393" stroke="#ff6a10" stroke-width="1.6"/>
<path d="M226,386 L226,393" stroke="#ff6a10" stroke-width="1.6"/>
<path d="M286,383 L286,392" stroke="#ff6a10" stroke-width="1.6"/>
<path d="M360,391 L357,397" stroke="#ff6a10" stroke-width="1.6"/>
<polygon points="313.2,54.5 316.2,54.0 320.5,61.5 335.5,46.2 339.5,48.2 327.0,62.2 322.5,65.8 319.0,64.8" fill="#ffffff" stroke="#ffb000" stroke-width="0.9"/>
<polygon points="34.0,278.0 38.0,275.0 44.0,276.0 48.0,274.0 50.0,277.0 46.0,282.0 41.0,285.0 36.0,286.0 33.0,283.0" fill="#fff"/>
<polygon points="397.0,207.0 405.5,194.0 407.5,195.0 399.0,208.5" fill="#fbeefc" stroke="#e890c0" stroke-width="0.5"/>
<polygon points="349.0,240.5 358.0,246.0 357.3,247.3 348.3,241.8" fill="#fbeefc" stroke="#e890c0" stroke-width="0.5"/>
<polygon points="356.0,189.0 365.0,191.3 364.7,192.6 355.7,190.2" fill="#fbeefc" stroke="#e890c0" stroke-width="0.5"/>
</g>
<polygon points="331.4,5.6 347.2,21.4 350.0,40.0 349.5,88.0 369.3,119.1 406.0,154.0 437.7,174.4 448.9,190.7 477.4,216.2 478.4,235.1 493.7,267.7 494.7,273.8 429.8,398.3 415.0,406.5 409.9,409.5 397.2,421.8 389.5,405.5 375.5,401.5 336.8,396.4 304.3,391.3 290.0,390.3 150.0,392.0 140.0,393.0 135.6,376.8 131.2,350.0 130.2,311.1 128.1,288.7 120.0,276.5 102.7,265.3 85.4,274.4 77.2,282.6 65.0,298.9 57.9,304.0 24.3,283.6 20.2,279.5 22.2,272.4 54.8,256.1 75.2,256.1 88.4,253.0 90.4,239.1 121.0,247.2 123.0,228.9 127.1,198.3 131.2,190.2 166.8,202.4 185.2,196.3 190.0,195.0 191.4,166.3 197.1,159.8 206.4,150.6 214.2,139.2 222.7,125.0 230.5,112.9 229.9,64.8 245.2,50.5 262.5,41.4 282.9,39.3 302.2,30.2" fill="none" stroke="#e8604a" stroke-width="0.9"/>
</g>
<g opacity="0.45"><path d="M186.3,0 L192.9,440" stroke="#dddddd" stroke-width="1"/>
<path d="M408,0 L414.6,440" stroke="#dddddd" stroke-width="1"/>
<path d="M0,233 L500,224.5" stroke="#dddddd" stroke-width="1"/></g>
</g>
<clipPath id="mBf"><rect x="520.5" y="5.6" width="474.3" height="428.9"/></clipPath>
<g clip-path="url(#mBf)">
<path d="M686.3,4.4 L692.9,444.4" stroke="#d2d2d2" stroke-width="1"/>
<path d="M908,4.4 L914.6,444.4" stroke="#d2d2d2" stroke-width="1"/>
<path d="M500,237.4 L1000,228.9" stroke="#d2d2d2" stroke-width="1"/>
<g transform="translate(500,4.4)">
<clipPath id="mB"><polygon points="331.4,5.6 347.2,21.4 350.0,40.0 349.5,88.0 369.3,119.1 406.0,154.0 437.7,174.4 448.9,190.7 477.4,216.2 478.4,235.1 493.7,267.7 494.7,273.8 429.8,398.3 415.0,406.5 409.9,409.5 397.2,421.8 389.5,405.5 375.5,401.5 336.8,396.4 304.3,391.3 290.0,390.3 150.0,392.0 140.0,393.0 135.6,376.8 131.2,350.0 130.2,311.1 128.1,288.7 120.0,276.5 102.7,265.3 85.4,274.4 77.2,282.6 65.0,298.9 57.9,304.0 24.3,283.6 20.2,279.5 22.2,272.4 54.8,256.1 75.2,256.1 88.4,253.0 90.4,239.1 121.0,247.2 123.0,228.9 127.1,198.3 131.2,190.2 166.8,202.4 185.2,196.3 190.0,195.0 191.4,166.3 197.1,159.8 206.4,150.6 214.2,139.2 222.7,125.0 230.5,112.9 229.9,64.8 245.2,50.5 262.5,41.4 282.9,39.3 302.2,30.2"/></clipPath>
<g clip-path="url(#mB)">
<g filter="url(#disp)"><rect x="0" y="-5" width="520" height="10" fill="#ffff00"/>
<rect x="0" y="5" width="520" height="10" fill="#ffff00"/>
<rect x="0" y="15" width="520" height="10" fill="#ffff00"/>
<rect x="0" y="25" width="520" height="10" fill="#ffff00"/>
<rect x="0" y="35" width="320" height="10" fill="#ffff00"/>
<rect x="320" y="35" width="200" height="10" fill="#ff5500"/>
<rect x="0" y="45" width="310" height="10" fill="#ffff00"/>
<rect x="310" y="45" width="10" height="10" fill="#ff0a78"/>
<rect x="320" y="45" width="10" height="10" fill="#ffff00"/>
<rect x="330" y="45" width="10" height="10" fill="#ffffff"/>
<rect x="340" y="45" width="180" height="10" fill="#ff5500"/>
<rect x="0" y="55" width="240" height="10" fill="#ffff00"/>
<rect x="240" y="55" width="10" height="10" fill="#ff0a78"/>
<rect x="250" y="55" width="60" height="10" fill="#ffff00"/>
<rect x="310" y="55" width="20" height="10" fill="#ffffff"/>
<rect x="330" y="55" width="10" height="10" fill="#ffff00"/>
<rect x="340" y="55" width="180" height="10" fill="#ff5500"/>
<rect x="0" y="65" width="240" height="10" fill="#ffff00"/>
<rect x="240" y="65" width="10" height="10" fill="#ff0a78"/>
<rect x="250" y="65" width="20" height="10" fill="#ffff00"/>
<rect x="270" y="65" width="10" height="10" fill="#ff0a78"/>
<rect x="280" y="65" width="10" height="10" fill="#ffff00"/>
<rect x="290" y="65" width="30" height="10" fill="#ff0a78"/>
<rect x="320" y="65" width="200" height="10" fill="#ffff00"/>
<rect x="0" y="75" width="240" height="10" fill="#ffff00"/>
<rect x="240" y="75" width="10" height="10" fill="#ff0a78"/>
<rect x="250" y="75" width="10" height="10" fill="#f00af0"/>
<rect x="260" y="75" width="30" height="10" fill="#ff0a78"/>
<rect x="290" y="75" width="10" height="10" fill="#f00af0"/>
<rect x="300" y="75" width="10" height="10" fill="#ff0a78"/>
<rect x="310" y="75" width="210" height="10" fill="#ffff00"/>
<rect x="0" y="85" width="240" height="10" fill="#ffff00"/>
<rect x="240" y="85" width="10" height="10" fill="#ff0a78"/>
<rect x="250" y="85" width="10" height="10" fill="#f00af0"/>
<rect x="260" y="85" width="30" height="10" fill="#ff0a78"/>
<rect x="290" y="85" width="10" height="10" fill="#f00af0"/>
<rect x="300" y="85" width="20" height="10" fill="#ff0a78"/>
<rect x="320" y="85" width="200" height="10" fill="#ffff00"/>
<rect x="0" y="95" width="40" height="10" fill="#ffff00"/>
<rect x="40" y="95" width="20" height="10" fill="#ff0a78"/>
<rect x="60" y="95" width="180" height="10" fill="#ffff00"/>
<rect x="240" y="95" width="10" height="10" fill="#ff0a78"/>
<rect x="250" y="95" width="10" height="10" fill="#f00af0"/>
<rect x="260" y="95" width="20" height="10" fill="#ff0a78"/>
<rect x="280" y="95" width="10" height="10" fill="#ffff00"/>
<rect x="290" y="95" width="10" height="10" fill="#ff0a78"/>
<rect x="300" y="95" width="10" height="10" fill="#f00af0"/>
<rect x="310" y="95" width="10" height="10" fill="#ff0a78"/>
<rect x="320" y="95" width="200" height="10" fill="#ffff00"/>
<rect x="0" y="105" width="40" height="10" fill="#ffff00"/>
<rect x="40" y="105" width="100" height="10" fill="#ff0a78"/>
<rect x="140" y="105" width="110" height="10" fill="#ffff00"/>
<rect x="250" y="105" width="40" height="10" fill="#ff0a78"/>
<rect x="290" y="105" width="10" height="10" fill="#ffff00"/>
<rect x="300" y="105" width="30" height="10" fill="#ff0a78"/>
<rect x="330" y="105" width="190" height="10" fill="#ffff00"/>
<rect x="0" y="115" width="40" height="10" fill="#ffff00"/>
<rect x="40" y="115" width="100" height="10" fill="#ff0a78"/>
<rect x="140" y="115" width="100" height="10" fill="#ffff00"/>
<rect x="240" y="115" width="20" height="10" fill="#ff0a78"/>
<rect x="260" y="115" width="20" height="10" fill="#f00af0"/>
<rect x="280" y="115" width="10" height="10" fill="#ff0a78"/>
<rect x="290" y="115" width="10" height="10" fill="#f00af0"/>
<rect x="300" y="115" width="50" height="10" fill="#ff0a78"/>
<rect x="350" y="115" width="170" height="10" fill="#ffff00"/>
<rect x="0" y="125" width="40" height="10" fill="#ffff00"/>
<rect x="40" y="125" width="100" height="10" fill="#ff0a78"/>
<rect x="140" y="125" width="100" height="10" fill="#ffff00"/>
<rect x="240" y="125" width="20" height="10" fill="#ff0a78"/>
<rect x="260" y="125" width="10" height="10" fill="#f00af0"/>
<rect x="270" y="125" width="10" height="10" fill="#ff0a78"/>
<rect x="280" y="125" width="20" height="10" fill="#ffff00"/>
<rect x="300" y="125" width="30" height="10" fill="#ff0a78"/>
<rect x="330" y="125" width="20" height="10" fill="#ffff00"/>
<rect x="350" y="125" width="10" height="10" fill="#ff0a78"/>
<rect x="360" y="125" width="160" height="10" fill="#ffff00"/>
<rect x="0" y="135" width="40" height="10" fill="#ffff00"/>
<rect x="40" y="135" width="100" height="10" fill="#ff0a78"/>
<rect x="140" y="135" width="90" height="10" fill="#ffff00"/>
<rect x="230" y="135" width="20" height="10" fill="#ff0a78"/>
<rect x="250" y="135" width="20" height="10" fill="#f00af0"/>
<rect x="270" y="135" width="40" height="10" fill="#ffff00"/>
<rect x="310" y="135" width="30" height="10" fill="#ff0a78"/>
<rect x="340" y="135" width="10" height="10" fill="#ffff00"/>
<rect x="350" y="135" width="30" height="10" fill="#ff0a78"/>
<rect x="380" y="135" width="140" height="10" fill="#ffff00"/>
<rect x="0" y="145" width="40" height="10" fill="#ffff00"/>
<rect x="40" y="145" width="100" height="10" fill="#ff0a78"/>
<rect x="140" y="145" width="60" height="10" fill="#f00af0"/>
<rect x="200" y="145" width="20" height="10" fill="#ffff00"/>
<rect x="220" y="145" width="20" height="10" fill="#ff0a78"/>
<rect x="240" y="145" width="30" height="10" fill="#f00af0"/>
<rect x="270" y="145" width="10" height="10" fill="#ff0a78"/>
<rect x="280" y="145" width="10" height="10" fill="#f00af0"/>
<rect x="290" y="145" width="20" height="10" fill="#ffff00"/>
<rect x="310" y="145" width="10" height="10" fill="#ff0a78"/>
<rect x="320" y="145" width="10" height="10" fill="#f00af0"/>
<rect x="330" y="145" width="90" height="10" fill="#ff0a78"/>
<rect x="420" y="145" width="100" height="10" fill="#ffff00"/>
<rect x="0" y="155" width="40" height="10" fill="#ffff00"/>
<rect x="40" y="155" width="110" height="10" fill="#ff0a78"/>
<rect x="150" y="155" width="50" height="10" fill="#f00af0"/>
<rect x="200" y="155" width="10" height="10" fill="#ffff00"/>
<rect x="210" y="155" width="10" height="10" fill="#ff0a78"/>
<rect x="220" y="155" width="20" height="10" fill="#ffff00"/>
<rect x="240" y="155" width="20" height="10" fill="#f00af0"/>
<rect x="260" y="155" width="20" height="10" fill="#ffff00"/>
<rect x="280" y="155" width="30" height="10" fill="#ff0a78"/>
<rect x="310" y="155" width="50" height="10" fill="#ffff00"/>
<rect x="360" y="155" width="30" height="10" fill="#ff0a78"/>
<rect x="390" y="155" width="130" height="10" fill="#ffff00"/>
<rect x="0" y="165" width="40" height="10" fill="#ffff00"/>
<rect x="40" y="165" width="120" height="10" fill="#ff0a78"/>
<rect x="160" y="165" width="40" height="10" fill="#f00af0"/>
<rect x="200" y="165" width="10" height="10" fill="#ff0a78"/>
<rect x="210" y="165" width="40" height="10" fill="#f00af0"/>
<rect x="250" y="165" width="20" height="10" fill="#ffff00"/>
<rect x="270" y="165" width="10" height="10" fill="#ff0a78"/>
<rect x="280" y="165" width="80" height="10" fill="#ffff00"/>
<rect x="360" y="165" width="30" height="10" fill="#ff0a78"/>
<rect x="390" y="165" width="130" height="10" fill="#ffff00"/>
<rect x="0" y="175" width="40" height="10" fill="#ffff00"/>
<rect x="40" y="175" width="120" height="10" fill="#ff0a78"/>
<rect x="160" y="175" width="40" height="10" fill="#f00af0"/>
<rect x="200" y="175" width="10" height="10" fill="#ff0a78"/>
<rect x="210" y="175" width="30" height="10" fill="#f00af0"/>
<rect x="240" y="175" width="10" height="10" fill="#ff0a78"/>
<rect x="250" y="175" width="10" height="10" fill="#ffff00"/>
<rect x="260" y="175" width="10" height="10" fill="#ff0a78"/>
<rect x="270" y="175" width="90" height="10" fill="#ffff00"/>
<rect x="360" y="175" width="10" height="10" fill="#ff0a78"/>
<rect x="370" y="175" width="10" height="10" fill="#f00af0"/>
<rect x="380" y="175" width="10" height="10" fill="#ff0a78"/>
<rect x="390" y="175" width="130" height="10" fill="#ffff00"/>
<rect x="0" y="185" width="40" height="10" fill="#ffff00"/>
<rect x="40" y="185" width="120" height="10" fill="#ff0a78"/>
<rect x="160" y="185" width="40" height="10" fill="#f00af0"/>
<rect x="200" y="185" width="10" height="10" fill="#ffff00"/>
<rect x="210" y="185" width="20" height="10" fill="#f00af0"/>
<rect x="230" y="185" width="10" height="10" fill="#ff0a78"/>
<rect x="240" y="185" width="20" height="10" fill="#ffff00"/>
<rect x="260" y="185" width="10" height="10" fill="#ff0a78"/>
<rect x="270" y="185" width="10" height="10" fill="#ffff00"/>
<rect x="280" y="185" width="10" height="10" fill="#ff0a78"/>
<rect x="290" y="185" width="60" height="10" fill="#ffff00"/>
<rect x="350" y="185" width="30" height="10" fill="#ff0a78"/>
<rect x="380" y="185" width="20" height="10" fill="#ffff00"/>
<rect x="400" y="185" width="10" height="10" fill="#ff0a78"/>
<rect x="410" y="185" width="10" height="10" fill="#ffff00"/>
<rect x="420" y="185" width="10" height="10" fill="#ff0a78"/>
<rect x="430" y="185" width="10" height="10" fill="#ffff00"/>
<rect x="440" y="185" width="80" height="10" fill="#ff0a78"/>
<rect x="0" y="195" width="40" height="10" fill="#ffff00"/>
<rect x="40" y="195" width="90" height="10" fill="#ff0a78"/>
<rect x="130" y="195" width="20" height="10" fill="#f00af0"/>
<rect x="150" y="195" width="10" height="10" fill="#ff0a78"/>
<rect x="160" y="195" width="20" height="10" fill="#f00af0"/>
<rect x="180" y="195" width="10" height="10" fill="#ff0a78"/>
<rect x="190" y="195" width="40" height="10" fill="#f00af0"/>
<rect x="230" y="195" width="10" height="10" fill="#ff0a78"/>
<rect x="240" y="195" width="10" height="10" fill="#ffff00"/>
<rect x="250" y="195" width="10" height="10" fill="#ff0a78"/>
<rect x="260" y="195" width="10" height="10" fill="#f00af0"/>
<rect x="270" y="195" width="10" height="10" fill="#ff0a78"/>
<rect x="280" y="195" width="10" height="10" fill="#ffff00"/>
<rect x="290" y="195" width="10" height="10" fill="#ff0a78"/>
<rect x="300" y="195" width="10" height="10" fill="#ffff00"/>
<rect x="310" y="195" width="30" height="10" fill="#ff0a78"/>
<rect x="340" y="195" width="10" height="10" fill="#ffff00"/>
<rect x="350" y="195" width="10" height="10" fill="#f00af0"/>
<rect x="360" y="195" width="10" height="10" fill="#ff0a78"/>
<rect x="370" y="195" width="20" height="10" fill="#ffff00"/>
<rect x="390" y="195" width="40" height="10" fill="#ff0a78"/>
<rect x="430" y="195" width="10" height="10" fill="#ffff00"/>
<rect x="440" y="195" width="80" height="10" fill="#ff0a78"/>
<rect x="0" y="205" width="40" height="10" fill="#ffff00"/>
<rect x="40" y="205" width="30" height="10" fill="#ff0a78"/>
<rect x="70" y="205" width="90" height="10" fill="#f00af0"/>
<rect x="160" y="205" width="10" height="10" fill="#ff0a78"/>
<rect x="170" y="205" width="10" height="10" fill="#f00af0"/>
<rect x="180" y="205" width="20" height="10" fill="#ff0a78"/>
<rect x="200" y="205" width="10" height="10" fill="#f00af0"/>
<rect x="210" y="205" width="20" height="10" fill="#ff0a78"/>
<rect x="230" y="205" width="10" height="10" fill="#ffff00"/>
<rect x="240" y="205" width="30" height="10" fill="#ff0a78"/>
<rect x="270" y="205" width="20" height="10" fill="#ffff00"/>
<rect x="290" y="205" width="50" height="10" fill="#ff0a78"/>
<rect x="340" y="205" width="10" height="10" fill="#ffff00"/>
<rect x="350" y="205" width="10" height="10" fill="#ff0a78"/>
<rect x="360" y="205" width="10" height="10" fill="#ffff00"/>
<rect x="370" y="205" width="10" height="10" fill="#ff0a78"/>
<rect x="380" y="205" width="10" height="10" fill="#f00af0"/>
<rect x="390" y="205" width="10" height="10" fill="#ff0a78"/>
<rect x="400" y="205" width="10" height="10" fill="#f00af0"/>
<rect x="410" y="205" width="10" height="10" fill="#ff0a78"/>
<rect x="420" y="205" width="20" height="10" fill="#ffff00"/>
<rect x="440" y="205" width="10" height="10" fill="#ff0a78"/>
<rect x="450" y="205" width="10" height="10" fill="#f00af0"/>
<rect x="460" y="205" width="60" height="10" fill="#ff0a78"/>
<rect x="0" y="215" width="40" height="10" fill="#ffff00"/>
<rect x="40" y="215" width="30" height="10" fill="#ff0a78"/>
<rect x="70" y="215" width="30" height="10" fill="#ffff00"/>
<rect x="100" y="215" width="80" height="10" fill="#f00af0"/>
<rect x="180" y="215" width="50" height="10" fill="#ff0a78"/>
<rect x="230" y="215" width="20" height="10" fill="#f00af0"/>
<rect x="250" y="215" width="40" height="10" fill="#ff0a78"/>
<rect x="290" y="215" width="20" height="10" fill="#f00af0"/>
<rect x="310" y="215" width="30" height="10" fill="#ff0a78"/>
<rect x="340" y="215" width="10" height="10" fill="#ffff00"/>
<rect x="350" y="215" width="10" height="10" fill="#ff0a78"/>
<rect x="360" y="215" width="10" height="10" fill="#ffff00"/>
<rect x="370" y="215" width="10" height="10" fill="#ff0a78"/>
<rect x="380" y="215" width="20" height="10" fill="#f00af0"/>
<rect x="400" y="215" width="10" height="10" fill="#ff0a78"/>
<rect x="410" y="215" width="20" height="10" fill="#ffff00"/>
<rect x="430" y="215" width="10" height="10" fill="#ff0a78"/>
<rect x="440" y="215" width="20" height="10" fill="#f00af0"/>
<rect x="460" y="215" width="10" height="10" fill="#ffff00"/>
<rect x="470" y="215" width="50" height="10" fill="#ff0a78"/>
<rect x="0" y="225" width="40" height="10" fill="#ffff00"/>
<rect x="40" y="225" width="30" height="10" fill="#ff0a78"/>
<rect x="70" y="225" width="30" height="10" fill="#ffff00"/>
<rect x="100" y="225" width="70" height="10" fill="#f00af0"/>
<rect x="170" y="225" width="10" height="10" fill="#ff0a78"/>
<rect x="180" y="225" width="10" height="10" fill="#ffff00"/>
<rect x="190" y="225" width="10" height="10" fill="#ff0a78"/>
<rect x="200" y="225" width="10" height="10" fill="#ffff00"/>
<rect x="210" y="225" width="30" height="10" fill="#ff0a78"/>
<rect x="240" y="225" width="10" height="10" fill="#f00af0"/>
<rect x="250" y="225" width="40" height="10" fill="#ff0a78"/>
<rect x="290" y="225" width="20" height="10" fill="#f00af0"/>
<rect x="310" y="225" width="30" height="10" fill="#ff0a78"/>
<rect x="340" y="225" width="10" height="10" fill="#ffff00"/>
<rect x="350" y="225" width="10" height="10" fill="#ff0a78"/>
<rect x="360" y="225" width="10" height="10" fill="#ffff00"/>
<rect x="370" y="225" width="10" height="10" fill="#ff0a78"/>
<rect x="380" y="225" width="20" height="10" fill="#f00af0"/>
<rect x="400" y="225" width="10" height="10" fill="#ff0a78"/>
<rect x="410" y="225" width="10" height="10" fill="#ffff00"/>
<rect x="420" y="225" width="20" height="10" fill="#ff0a78"/>
<rect x="440" y="225" width="10" height="10" fill="#f00af0"/>
<rect x="450" y="225" width="10" height="10" fill="#ff0a78"/>
<rect x="460" y="225" width="10" height="10" fill="#ffff00"/>
<rect x="470" y="225" width="50" height="10" fill="#ff0a78"/>
<rect x="0" y="235" width="40" height="10" fill="#ffff00"/>
<rect x="40" y="235" width="30" height="10" fill="#ff0a78"/>
<rect x="70" y="235" width="30" height="10" fill="#ffff00"/>
<rect x="100" y="235" width="70" height="10" fill="#f00af0"/>
<rect x="170" y="235" width="10" height="10" fill="#ff0a78"/>
<rect x="180" y="235" width="10" height="10" fill="#ffff00"/>
<rect x="190" y="235" width="100" height="10" fill="#ff0a78"/>
<rect x="290" y="235" width="10" height="10" fill="#f00af0"/>
<rect x="300" y="235" width="30" height="10" fill="#ff0a78"/>
<rect x="330" y="235" width="10" height="10" fill="#f00af0"/>
<rect x="340" y="235" width="30" height="10" fill="#ff0a78"/>
<rect x="370" y="235" width="20" height="10" fill="#f00af0"/>
<rect x="390" y="235" width="30" height="10" fill="#ff0a78"/>
<rect x="420" y="235" width="20" height="10" fill="#f00af0"/>
<rect x="440" y="235" width="20" height="10" fill="#ff0a78"/>
<rect x="460" y="235" width="10" height="10" fill="#ffff00"/>
<rect x="470" y="235" width="50" height="10" fill="#ff0a78"/>
<rect x="0" y="245" width="40" height="10" fill="#ffff00"/>
<rect x="40" y="245" width="40" height="10" fill="#ff0a78"/>
<rect x="80" y="245" width="20" height="10" fill="#f00af0"/>
<rect x="100" y="245" width="10" height="10" fill="#ffff00"/>
<rect x="110" y="245" width="40" height="10" fill="#f00af0"/>
<rect x="150" y="245" width="10" height="10" fill="#ffb000"/>
<rect x="160" y="245" width="10" height="10" fill="#f00af0"/>
<rect x="170" y="245" width="20" height="10" fill="#ff0a78"/>
<rect x="190" y="245" width="10" height="10" fill="#ffff00"/>
<rect x="200" y="245" width="40" height="10" fill="#ff0a78"/>
<rect x="240" y="245" width="10" height="10" fill="#ffff00"/>
<rect x="250" y="245" width="70" height="10" fill="#ff0a78"/>
<rect x="320" y="245" width="10" height="10" fill="#ffff00"/>
<rect x="330" y="245" width="10" height="10" fill="#f00af0"/>
<rect x="340" y="245" width="20" height="10" fill="#ff0a78"/>
<rect x="360" y="245" width="30" height="10" fill="#f00af0"/>
<rect x="390" y="245" width="10" height="10" fill="#ff0a78"/>
<rect x="400" y="245" width="10" height="10" fill="#ffff00"/>
<rect x="410" y="245" width="10" height="10" fill="#ff0a78"/>
<rect x="420" y="245" width="10" height="10" fill="#f00af0"/>
<rect x="430" y="245" width="10" height="10" fill="#ff0a78"/>
<rect x="440" y="245" width="10" height="10" fill="#f00af0"/>
<rect x="450" y="245" width="70" height="10" fill="#ff0a78"/>
<rect x="0" y="255" width="40" height="10" fill="#ffff00"/>
<rect x="40" y="255" width="50" height="10" fill="#ff0a78"/>
<rect x="90" y="255" width="60" height="10" fill="#f00af0"/>
<rect x="150" y="255" width="10" height="10" fill="#ffb000"/>
<rect x="160" y="255" width="10" height="10" fill="#ffff00"/>
<rect x="170" y="255" width="10" height="10" fill="#f00af0"/>
<rect x="180" y="255" width="60" height="10" fill="#ff0a78"/>
<rect x="240" y="255" width="10" height="10" fill="#ffff00"/>
<rect x="250" y="255" width="10" height="10" fill="#ff0a78"/>
<rect x="260" y="255" width="20" height="10" fill="#f00af0"/>
<rect x="280" y="255" width="60" height="10" fill="#ff0a78"/>
<rect x="340" y="255" width="10" height="10" fill="#f00af0"/>
<rect x="350" y="255" width="20" height="10" fill="#ff0a78"/>
<rect x="370" y="255" width="20" height="10" fill="#f00af0"/>
<rect x="390" y="255" width="40" height="10" fill="#ffff00"/>
<rect x="430" y="255" width="10" height="10" fill="#ff0a78"/>
<rect x="440" y="255" width="10" height="10" fill="#ffff00"/>
<rect x="450" y="255" width="10" height="10" fill="#f00af0"/>
<rect x="460" y="255" width="10" height="10" fill="#ffff00"/>
<rect x="470" y="255" width="10" height="10" fill="#ff0a78"/>
<rect x="480" y="255" width="10" height="10" fill="#ffff00"/>
<rect x="490" y="255" width="30" height="10" fill="#ff0a78"/>
<rect x="0" y="265" width="40" height="10" fill="#ffff00"/>
<rect x="40" y="265" width="10" height="10" fill="#ff0a78"/>
<rect x="50" y="265" width="10" height="10" fill="#ffff00"/>
<rect x="60" y="265" width="10" height="10" fill="#ff0a78"/>
<rect x="70" y="265" width="10" height="10" fill="#ffff00"/>
<rect x="80" y="265" width="10" height="10" fill="#ff0a78"/>
<rect x="90" y="265" width="100" height="10" fill="#f00af0"/>
<rect x="190" y="265" width="70" height="10" fill="#ff0a78"/>
<rect x="260" y="265" width="10" height="10" fill="#f00af0"/>
<rect x="270" y="265" width="30" height="10" fill="#ff0a78"/>
<rect x="300" y="265" width="10" height="10" fill="#ffff00"/>
<rect x="310" y="265" width="20" height="10" fill="#ff0a78"/>
<rect x="330" y="265" width="10" height="10" fill="#f00af0"/>
<rect x="340" y="265" width="10" height="10" fill="#ff0a78"/>
<rect x="350" y="265" width="10" height="10" fill="#f00af0"/>
<rect x="360" y="265" width="10" height="10" fill="#ff0a78"/>
<rect x="370" y="265" width="10" height="10" fill="#f00af0"/>
<rect x="380" y="265" width="10" height="10" fill="#ffff00"/>
<rect x="390" y="265" width="30" height="10" fill="#ff0a78"/>
<rect x="420" y="265" width="20" height="10" fill="#ffff00"/>
<rect x="440" y="265" width="10" height="10" fill="#f00af0"/>
<rect x="450" y="265" width="10" height="10" fill="#ff0a78"/>
<rect x="460" y="265" width="10" height="10" fill="#ffff00"/>
<rect x="470" y="265" width="50" height="10" fill="#ff0a78"/>
<rect x="0" y="275" width="30" height="10" fill="#ffff00"/>
<rect x="30" y="275" width="20" height="10" fill="#ffffff"/>
<rect x="50" y="275" width="10" height="10" fill="#ff0a78"/>
<rect x="60" y="275" width="10" height="10" fill="#ffff00"/>
<rect x="70" y="275" width="10" height="10" fill="#ff0a78"/>
<rect x="80" y="275" width="110" height="10" fill="#f00af0"/>
<rect x="190" y="275" width="70" height="10" fill="#ff0a78"/>
<rect x="260" y="275" width="10" height="10" fill="#f00af0"/>
<rect x="270" y="275" width="10" height="10" fill="#ff0a78"/>
<rect x="280" y="275" width="20" height="10" fill="#f00af0"/>
<rect x="300" y="275" width="10" height="10" fill="#ffff00"/>
<rect x="310" y="275" width="30" height="10" fill="#ff0a78"/>
<rect x="340" y="275" width="10" height="10" fill="#f00af0"/>
<rect x="350" y="275" width="20" height="10" fill="#ff0a78"/>
<rect x="370" y="275" width="10" height="10" fill="#f00af0"/>
<rect x="380" y="275" width="10" height="10" fill="#ff0a78"/>
<rect x="390" y="275" width="10" height="10" fill="#ff5500"/>
<rect x="400" y="275" width="10" height="10" fill="#ff0a78"/>
<rect x="410" y="275" width="20" height="10" fill="#ffff00"/>
<rect x="430" y="275" width="10" height="10" fill="#ff0a78"/>
<rect x="440" y="275" width="10" height="10" fill="#f00af0"/>
<rect x="450" y="275" width="10" height="10" fill="#ff0a78"/>
<rect x="460" y="275" width="10" height="10" fill="#ffff00"/>
<rect x="470" y="275" width="20" height="10" fill="#ff0a78"/>
<rect x="490" y="275" width="30" height="10" fill="#ffff00"/>
<rect x="0" y="285" width="50" height="10" fill="#ff0a78"/>
<rect x="50" y="285" width="10" height="10" fill="#f00af0"/>
<rect x="60" y="285" width="10" height="10" fill="#ff0a78"/>
<rect x="70" y="285" width="120" height="10" fill="#f00af0"/>
<rect x="190" y="285" width="50" height="10" fill="#ff0a78"/>
<rect x="240" y="285" width="10" height="10" fill="#f00af0"/>
<rect x="250" y="285" width="20" height="10" fill="#ff0a78"/>
<rect x="270" y="285" width="20" height="10" fill="#ffff00"/>
<rect x="290" y="285" width="20" height="10" fill="#ff0a78"/>
<rect x="310" y="285" width="10" height="10" fill="#f00af0"/>
<rect x="320" y="285" width="10" height="10" fill="#ff0a78"/>
<rect x="330" y="285" width="20" height="10" fill="#f00af0"/>
<rect x="350" y="285" width="10" height="10" fill="#ff0a78"/>
<rect x="360" y="285" width="10" height="10" fill="#f00af0"/>
<rect x="370" y="285" width="10" height="10" fill="#ff0a78"/>
<rect x="380" y="285" width="10" height="10" fill="#f00af0"/>
<rect x="390" y="285" width="10" height="10" fill="#ff0a78"/>
<rect x="400" y="285" width="10" height="10" fill="#ffff00"/>
<rect x="410" y="285" width="10" height="10" fill="#ff0a78"/>
<rect x="420" y="285" width="20" height="10" fill="#ffff00"/>
<rect x="440" y="285" width="10" height="10" fill="#ff0a78"/>
<rect x="450" y="285" width="10" height="10" fill="#f00af0"/>
<rect x="460" y="285" width="10" height="10" fill="#ff0a78"/>
<rect x="470" y="285" width="10" height="10" fill="#ff5500"/>
<rect x="480" y="285" width="10" height="10" fill="#ff0a78"/>
<rect x="490" y="285" width="30" height="10" fill="#ffff00"/>
<rect x="0" y="295" width="40" height="10" fill="#ff0a78"/>
<rect x="40" y="295" width="20" height="10" fill="#f00af0"/>
<rect x="60" y="295" width="10" height="10" fill="#ff0a78"/>
<rect x="70" y="295" width="120" height="10" fill="#f00af0"/>
<rect x="190" y="295" width="50" height="10" fill="#ff0a78"/>
<rect x="240" y="295" width="60" height="10" fill="#f00af0"/>
<rect x="300" y="295" width="10" height="10" fill="#ffff00"/>
<rect x="310" y="295" width="10" height="10" fill="#f00af0"/>
<rect x="320" y="295" width="10" height="10" fill="#ffff00"/>
<rect x="330" y="295" width="30" height="10" fill="#f00af0"/>
<rect x="360" y="295" width="10" height="10" fill="#ff0a78"/>
<rect x="370" y="295" width="20" height="10" fill="#f00af0"/>
<rect x="390" y="295" width="10" height="10" fill="#ffff00"/>
<rect x="400" y="295" width="70" height="10" fill="#ff0a78"/>
<rect x="470" y="295" width="10" height="10" fill="#ff5500"/>
<rect x="480" y="295" width="40" height="10" fill="#ff0a78"/>
<rect x="0" y="305" width="40" height="10" fill="#ff0a78"/>
<rect x="40" y="305" width="20" height="10" fill="#f00af0"/>
<rect x="60" y="305" width="10" height="10" fill="#ff0a78"/>
<rect x="70" y="305" width="60" height="10" fill="#f00af0"/>
<rect x="130" y="305" width="10" height="10" fill="#ff0a78"/>
<rect x="140" y="305" width="20" height="10" fill="#f00af0"/>
<rect x="160" y="305" width="10" height="10" fill="#ff0a78"/>
<rect x="170" y="305" width="30" height="10" fill="#f00af0"/>
<rect x="200" y="305" width="10" height="10" fill="#ff0a78"/>
<rect x="210" y="305" width="10" height="10" fill="#f00af0"/>
<rect x="220" y="305" width="20" height="10" fill="#ff0a78"/>
<rect x="240" y="305" width="80" height="10" fill="#f00af0"/>
<rect x="320" y="305" width="20" height="10" fill="#ff0a78"/>
<rect x="340" y="305" width="20" height="10" fill="#f00af0"/>
<rect x="360" y="305" width="10" height="10" fill="#ff0a78"/>
<rect x="370" y="305" width="10" height="10" fill="#f00af0"/>
<rect x="380" y="305" width="20" height="10" fill="#ff0a78"/>
<rect x="400" y="305" width="10" height="10" fill="#f00af0"/>
<rect x="410" y="305" width="10" height="10" fill="#ff0a78"/>
<rect x="420" y="305" width="20" height="10" fill="#f00af0"/>
<rect x="440" y="305" width="30" height="10" fill="#ffff00"/>
<rect x="470" y="305" width="50" height="10" fill="#ff0a78"/>
<rect x="0" y="315" width="40" height="10" fill="#ff0a78"/>
<rect x="40" y="315" width="20" height="10" fill="#f00af0"/>
<rect x="60" y="315" width="10" height="10" fill="#ff0a78"/>
<rect x="70" y="315" width="70" height="10" fill="#f00af0"/>
<rect x="140" y="315" width="10" height="10" fill="#ff0a78"/>
<rect x="150" y="315" width="20" height="10" fill="#f00af0"/>
<rect x="170" y="315" width="10" height="10" fill="#ff0a78"/>
<rect x="180" y="315" width="40" height="10" fill="#f00af0"/>
<rect x="220" y="315" width="10" height="10" fill="#ff0a78"/>
<rect x="230" y="315" width="80" height="10" fill="#f00af0"/>
<rect x="310" y="315" width="20" height="10" fill="#ff0a78"/>
<rect x="330" y="315" width="10" height="10" fill="#f00af0"/>
<rect x="340" y="315" width="10" height="10" fill="#ff0a78"/>
<rect x="350" y="315" width="30" height="10" fill="#f00af0"/>
<rect x="380" y="315" width="10" height="10" fill="#ff0a78"/>
<rect x="390" y="315" width="10" height="10" fill="#f00af0"/>
<rect x="400" y="315" width="30" height="10" fill="#ff0a78"/>
<rect x="430" y="315" width="10" height="10" fill="#ffff00"/>
<rect x="440" y="315" width="20" height="10" fill="#ff0a78"/>
<rect x="460" y="315" width="20" height="10" fill="#f00af0"/>
<rect x="480" y="315" width="40" height="10" fill="#ff0a78"/>
<rect x="0" y="325" width="40" height="10" fill="#ff0a78"/>
<rect x="40" y="325" width="20" height="10" fill="#f00af0"/>
<rect x="60" y="325" width="10" height="10" fill="#ff0a78"/>
<rect x="70" y="325" width="20" height="10" fill="#f00af0"/>
<rect x="90" y="325" width="50" height="10" fill="#ff0a78"/>
<rect x="140" y="325" width="40" height="10" fill="#f00af0"/>
<rect x="180" y="325" width="10" height="10" fill="#ff0a78"/>
<rect x="190" y="325" width="20" height="10" fill="#f00af0"/>
<rect x="210" y="325" width="20" height="10" fill="#ff0a78"/>
<rect x="230" y="325" width="30" height="10" fill="#f00af0"/>
<rect x="260" y="325" width="10" height="10" fill="#ffff00"/>
<rect x="270" y="325" width="10" height="10" fill="#ffb000"/>
<rect x="280" y="325" width="110" height="10" fill="#f00af0"/>
<rect x="390" y="325" width="40" height="10" fill="#ff0a78"/>
<rect x="430" y="325" width="10" height="10" fill="#ffff00"/>
<rect x="440" y="325" width="10" height="10" fill="#ff0a78"/>
<rect x="450" y="325" width="10" height="10" fill="#f00af0"/>
<rect x="460" y="325" width="10" height="10" fill="#ff0a78"/>
<rect x="470" y="325" width="50" height="10" fill="#f00af0"/>
<rect x="0" y="335" width="40" height="10" fill="#ff0a78"/>
<rect x="40" y="335" width="20" height="10" fill="#f00af0"/>
<rect x="60" y="335" width="10" height="10" fill="#ff0a78"/>
<rect x="70" y="335" width="110" height="10" fill="#f00af0"/>
<rect x="180" y="335" width="10" height="10" fill="#ff0a78"/>
<rect x="190" y="335" width="10" height="10" fill="#f00af0"/>
<rect x="200" y="335" width="10" height="10" fill="#ff0a78"/>
<rect x="210" y="335" width="40" height="10" fill="#f00af0"/>
<rect x="250" y="335" width="10" height="10" fill="#ffb000"/>
<rect x="260" y="335" width="20" height="10" fill="#ffff00"/>
<rect x="280" y="335" width="120" height="10" fill="#f00af0"/>
<rect x="400" y="335" width="20" height="10" fill="#ff0a78"/>
<rect x="420" y="335" width="10" height="10" fill="#f00af0"/>
<rect x="430" y="335" width="10" height="10" fill="#ff0a78"/>
<rect x="440" y="335" width="80" height="10" fill="#f00af0"/>
<rect x="0" y="345" width="40" height="10" fill="#ff0a78"/>
<rect x="40" y="345" width="20" height="10" fill="#f00af0"/>
<rect x="60" y="345" width="10" height="10" fill="#ff0a78"/>
<rect x="70" y="345" width="350" height="10" fill="#f00af0"/>
<rect x="420" y="345" width="10" height="10" fill="#ff0a78"/>
<rect x="430" y="345" width="10" height="10" fill="#f00af0"/>
<rect x="440" y="345" width="10" height="10" fill="#ff0a78"/>
<rect x="450" y="345" width="70" height="10" fill="#f00af0"/>
<rect x="0" y="355" width="40" height="10" fill="#ff0a78"/>
<rect x="40" y="355" width="20" height="10" fill="#f00af0"/>
<rect x="60" y="355" width="10" height="10" fill="#ff0a78"/>
<rect x="70" y="355" width="110" height="10" fill="#f00af0"/>
<rect x="180" y="355" width="10" height="10" fill="#ffb000"/>
<rect x="190" y="355" width="10" height="10" fill="#ffff00"/>
<rect x="200" y="355" width="10" height="10" fill="#ffb000"/>
<rect x="210" y="355" width="180" height="10" fill="#f00af0"/>
<rect x="390" y="355" width="10" height="10" fill="#ff0a78"/>
<rect x="400" y="355" width="10" height="10" fill="#f00af0"/>
<rect x="410" y="355" width="20" height="10" fill="#ff0a78"/>
<rect x="430" y="355" width="10" height="10" fill="#ffff00"/>
<rect x="440" y="355" width="10" height="10" fill="#ff0a78"/>
<rect x="450" y="355" width="70" height="10" fill="#f00af0"/>
<rect x="0" y="365" width="40" height="10" fill="#ff0a78"/>
<rect x="40" y="365" width="20" height="10" fill="#f00af0"/>
<rect x="60" y="365" width="80" height="10" fill="#ff0a78"/>
<rect x="140" y="365" width="70" height="10" fill="#f00af0"/>
<rect x="210" y="365" width="20" height="10" fill="#ff0a78"/>
<rect x="230" y="365" width="70" height="10" fill="#f00af0"/>
<rect x="300" y="365" width="10" height="10" fill="#ff0a78"/>
<rect x="310" y="365" width="10" height="10" fill="#f00af0"/>
<rect x="320" y="365" width="10" height="10" fill="#ff0a78"/>
<rect x="330" y="365" width="60" height="10" fill="#f00af0"/>
<rect x="390" y="365" width="10" height="10" fill="#ffff00"/>
<rect x="400" y="365" width="10" height="10" fill="#f00af0"/>
<rect x="410" y="365" width="10" height="10" fill="#ff0a78"/>
<rect x="420" y="365" width="10" height="10" fill="#f00af0"/>
<rect x="430" y="365" width="20" height="10" fill="#ff0a78"/>
<rect x="450" y="365" width="70" height="10" fill="#f00af0"/>
<rect x="0" y="375" width="40" height="10" fill="#ff0a78"/>
<rect x="40" y="375" width="20" height="10" fill="#f00af0"/>
<rect x="60" y="375" width="80" height="10" fill="#ffffff"/>
<rect x="140" y="375" width="10" height="10" fill="#ff0a78"/>
<rect x="150" y="375" width="50" height="10" fill="#f00af0"/>
<rect x="200" y="375" width="10" height="10" fill="#ff0a78"/>
<rect x="210" y="375" width="10" height="10" fill="#f00af0"/>
<rect x="220" y="375" width="10" height="10" fill="#ff0a78"/>
<rect x="230" y="375" width="40" height="10" fill="#f00af0"/>
<rect x="270" y="375" width="10" height="10" fill="#ff0a78"/>
<rect x="280" y="375" width="40" height="10" fill="#f00af0"/>
<rect x="320" y="375" width="10" height="10" fill="#ff0a78"/>
<rect x="330" y="375" width="60" height="10" fill="#f00af0"/>
<rect x="390" y="375" width="20" height="10" fill="#ffff00"/>
<rect x="410" y="375" width="10" height="10" fill="#ff0a78"/>
<rect x="420" y="375" width="10" height="10" fill="#f00af0"/>
<rect x="430" y="375" width="90" height="10" fill="#ff0a78"/>
<rect x="0" y="385" width="40" height="10" fill="#ff0a78"/>
<rect x="40" y="385" width="10" height="10" fill="#f00af0"/>
<rect x="50" y="385" width="280" height="10" fill="#ffffff"/>
<rect x="330" y="385" width="70" height="10" fill="#f00af0"/>
<rect x="400" y="385" width="20" height="10" fill="#ff0a78"/>
<rect x="420" y="385" width="10" height="10" fill="#ffb000"/>
<rect x="430" y="385" width="10" height="10" fill="#f00af0"/>
<rect x="440" y="385" width="80" height="10" fill="#ff0a78"/>
<rect x="0" y="395" width="40" height="10" fill="#ff0a78"/>
<rect x="40" y="395" width="10" height="10" fill="#f00af0"/>
<rect x="50" y="395" width="310" height="10" fill="#ffffff"/>
<rect x="360" y="395" width="30" height="10" fill="#f00af0"/>
<rect x="390" y="395" width="20" height="10" fill="#ff0a78"/>
<rect x="410" y="395" width="10" height="10" fill="#f00af0"/>
<rect x="420" y="395" width="100" height="10" fill="#ff0a78"/>
<rect x="0" y="405" width="40" height="10" fill="#ff0a78"/>
<rect x="40" y="405" width="10" height="10" fill="#f00af0"/>
<rect x="50" y="405" width="310" height="10" fill="#ffffff"/>
<rect x="360" y="405" width="50" height="10" fill="#f00af0"/>
<rect x="410" y="405" width="110" height="10" fill="#ff0a78"/>
<rect x="0" y="415" width="40" height="10" fill="#ff0a78"/>
<rect x="40" y="415" width="10" height="10" fill="#f00af0"/>
<rect x="50" y="415" width="310" height="10" fill="#ffffff"/>
<rect x="360" y="415" width="50" height="10" fill="#f00af0"/>
<rect x="410" y="415" width="110" height="10" fill="#ff0a78"/>
<rect x="0" y="425" width="40" height="10" fill="#ff0a78"/>
<rect x="40" y="425" width="10" height="10" fill="#f00af0"/>
<rect x="50" y="425" width="310" height="10" fill="#ffffff"/>
<rect x="360" y="425" width="50" height="10" fill="#f00af0"/>
<rect x="410" y="425" width="110" height="10" fill="#ff0a78"/>
<rect x="0" y="435" width="40" height="10" fill="#ff0a78"/>
<rect x="40" y="435" width="10" height="10" fill="#f00af0"/>
<rect x="50" y="435" width="310" height="10" fill="#ffffff"/>
<rect x="360" y="435" width="50" height="10" fill="#f00af0"/>
<rect x="410" y="435" width="110" height="10" fill="#ff0a78"/>
<rect x="0" y="445" width="40" height="10" fill="#ff0a78"/>
<rect x="40" y="445" width="10" height="10" fill="#f00af0"/>
<rect x="50" y="445" width="310" height="10" fill="#ffffff"/>
<rect x="360" y="445" width="50" height="10" fill="#f00af0"/>
<rect x="410" y="445" width="110" height="10" fill="#ff0a78"/></g>
<g mask="url(#spk)"><g filter="url(#disp)"><rect x="0" y="-5" width="520" height="10" fill="#ffff00"/>
<rect x="0" y="5" width="520" height="10" fill="#ffff00"/>
<rect x="0" y="15" width="520" height="10" fill="#ffff00"/>
<rect x="0" y="25" width="520" height="10" fill="#ffff00"/>
<rect x="0" y="35" width="320" height="10" fill="#ffff00"/>
<rect x="320" y="35" width="200" height="10" fill="#ff0a78"/>
<rect x="0" y="45" width="310" height="10" fill="#ffff00"/>
<rect x="310" y="45" width="10" height="10" fill="#f00af0"/>
<rect x="320" y="45" width="10" height="10" fill="#ffff00"/>
<rect x="330" y="45" width="10" height="10" fill="#ffffff"/>
<rect x="340" y="45" width="180" height="10" fill="#ff0a78"/>
<rect x="0" y="55" width="240" height="10" fill="#ffff00"/>
<rect x="240" y="55" width="10" height="10" fill="#f00af0"/>
<rect x="250" y="55" width="60" height="10" fill="#ffff00"/>
<rect x="310" y="55" width="20" height="10" fill="#ffffff"/>
<rect x="330" y="55" width="10" height="10" fill="#ffff00"/>
<rect x="340" y="55" width="180" height="10" fill="#ff0a78"/>
<rect x="0" y="65" width="240" height="10" fill="#ffff00"/>
<rect x="240" y="65" width="10" height="10" fill="#f00af0"/>
<rect x="250" y="65" width="20" height="10" fill="#ffff00"/>
<rect x="270" y="65" width="10" height="10" fill="#f00af0"/>
<rect x="280" y="65" width="10" height="10" fill="#ffff00"/>
<rect x="290" y="65" width="30" height="10" fill="#f00af0"/>
<rect x="320" y="65" width="200" height="10" fill="#ffff00"/>
<rect x="0" y="75" width="240" height="10" fill="#ffff00"/>
<rect x="240" y="75" width="10" height="10" fill="#f00af0"/>
<rect x="250" y="75" width="10" height="10" fill="#f80cc8"/>
<rect x="260" y="75" width="30" height="10" fill="#f00af0"/>
<rect x="290" y="75" width="10" height="10" fill="#f80cc8"/>
<rect x="300" y="75" width="10" height="10" fill="#f00af0"/>
<rect x="310" y="75" width="210" height="10" fill="#ffff00"/>
<rect x="0" y="85" width="240" height="10" fill="#ffff00"/>
<rect x="240" y="85" width="10" height="10" fill="#f00af0"/>
<rect x="250" y="85" width="10" height="10" fill="#f80cc8"/>
<rect x="260" y="85" width="30" height="10" fill="#f00af0"/>
<rect x="290" y="85" width="10" height="10" fill="#f80cc8"/>
<rect x="300" y="85" width="20" height="10" fill="#f00af0"/>
<rect x="320" y="85" width="200" height="10" fill="#ffff00"/>
<rect x="0" y="95" width="40" height="10" fill="#ffff00"/>
<rect x="40" y="95" width="20" height="10" fill="#f00af0"/>
<rect x="60" y="95" width="180" height="10" fill="#ffff00"/>
<rect x="240" y="95" width="10" height="10" fill="#f00af0"/>
<rect x="250" y="95" width="10" height="10" fill="#f80cc8"/>
<rect x="260" y="95" width="20" height="10" fill="#f00af0"/>
<rect x="280" y="95" width="10" height="10" fill="#ffff00"/>
<rect x="290" y="95" width="10" height="10" fill="#f00af0"/>
<rect x="300" y="95" width="10" height="10" fill="#f80cc8"/>
<rect x="310" y="95" width="10" height="10" fill="#f00af0"/>
<rect x="320" y="95" width="200" height="10" fill="#ffff00"/>
<rect x="0" y="105" width="40" height="10" fill="#ffff00"/>
<rect x="40" y="105" width="100" height="10" fill="#f00af0"/>
<rect x="140" y="105" width="110" height="10" fill="#ffff00"/>
<rect x="250" y="105" width="40" height="10" fill="#f00af0"/>
<rect x="290" y="105" width="10" height="10" fill="#ffff00"/>
<rect x="300" y="105" width="30" height="10" fill="#f00af0"/>
<rect x="330" y="105" width="190" height="10" fill="#ffff00"/>
<rect x="0" y="115" width="40" height="10" fill="#ffff00"/>
<rect x="40" y="115" width="100" height="10" fill="#f00af0"/>
<rect x="140" y="115" width="100" height="10" fill="#ffff00"/>
<rect x="240" y="115" width="20" height="10" fill="#f00af0"/>
<rect x="260" y="115" width="20" height="10" fill="#f80cc8"/>
<rect x="280" y="115" width="10" height="10" fill="#f00af0"/>
<rect x="290" y="115" width="10" height="10" fill="#f80cc8"/>
<rect x="300" y="115" width="50" height="10" fill="#f00af0"/>
<rect x="350" y="115" width="170" height="10" fill="#ffff00"/>
<rect x="0" y="125" width="40" height="10" fill="#ffff00"/>
<rect x="40" y="125" width="100" height="10" fill="#f00af0"/>
<rect x="140" y="125" width="100" height="10" fill="#ffff00"/>
<rect x="240" y="125" width="20" height="10" fill="#f00af0"/>
<rect x="260" y="125" width="10" height="10" fill="#f80cc8"/>
<rect x="270" y="125" width="10" height="10" fill="#f00af0"/>
<rect x="280" y="125" width="20" height="10" fill="#ffff00"/>
<rect x="300" y="125" width="30" height="10" fill="#f00af0"/>
<rect x="330" y="125" width="20" height="10" fill="#ffff00"/>
<rect x="350" y="125" width="10" height="10" fill="#f00af0"/>
<rect x="360" y="125" width="160" height="10" fill="#ffff00"/>
<rect x="0" y="135" width="40" height="10" fill="#ffff00"/>
<rect x="40" y="135" width="100" height="10" fill="#f00af0"/>
<rect x="140" y="135" width="90" height="10" fill="#ffff00"/>
<rect x="230" y="135" width="20" height="10" fill="#f00af0"/>
<rect x="250" y="135" width="20" height="10" fill="#f80cc8"/>
<rect x="270" y="135" width="40" height="10" fill="#ffff00"/>
<rect x="310" y="135" width="30" height="10" fill="#f00af0"/>
<rect x="340" y="135" width="10" height="10" fill="#ffff00"/>
<rect x="350" y="135" width="30" height="10" fill="#f00af0"/>
<rect x="380" y="135" width="140" height="10" fill="#ffff00"/>
<rect x="0" y="145" width="40" height="10" fill="#ffff00"/>
<rect x="40" y="145" width="100" height="10" fill="#f00af0"/>
<rect x="140" y="145" width="60" height="10" fill="#f80cc8"/>
<rect x="200" y="145" width="20" height="10" fill="#ffff00"/>
<rect x="220" y="145" width="20" height="10" fill="#f00af0"/>
<rect x="240" y="145" width="30" height="10" fill="#f80cc8"/>
<rect x="270" y="145" width="10" height="10" fill="#f00af0"/>
<rect x="280" y="145" width="10" height="10" fill="#f80cc8"/>
<rect x="290" y="145" width="20" height="10" fill="#ffff00"/>
<rect x="310" y="145" width="10" height="10" fill="#f00af0"/>
<rect x="320" y="145" width="10" height="10" fill="#f80cc8"/>
<rect x="330" y="145" width="90" height="10" fill="#f00af0"/>
<rect x="420" y="145" width="100" height="10" fill="#ffff00"/>
<rect x="0" y="155" width="40" height="10" fill="#ffff00"/>
<rect x="40" y="155" width="110" height="10" fill="#f00af0"/>
<rect x="150" y="155" width="50" height="10" fill="#f80cc8"/>
<rect x="200" y="155" width="10" height="10" fill="#ffff00"/>
<rect x="210" y="155" width="10" height="10" fill="#f00af0"/>
<rect x="220" y="155" width="20" height="10" fill="#ffff00"/>
<rect x="240" y="155" width="20" height="10" fill="#f80cc8"/>
<rect x="260" y="155" width="20" height="10" fill="#ffff00"/>
<rect x="280" y="155" width="30" height="10" fill="#f00af0"/>
<rect x="310" y="155" width="50" height="10" fill="#ffff00"/>
<rect x="360" y="155" width="30" height="10" fill="#f00af0"/>
<rect x="390" y="155" width="130" height="10" fill="#ffff00"/>
<rect x="0" y="165" width="40" height="10" fill="#ffff00"/>
<rect x="40" y="165" width="120" height="10" fill="#f00af0"/>
<rect x="160" y="165" width="40" height="10" fill="#f80cc8"/>
<rect x="200" y="165" width="10" height="10" fill="#f00af0"/>
<rect x="210" y="165" width="40" height="10" fill="#f80cc8"/>
<rect x="250" y="165" width="20" height="10" fill="#ffff00"/>
<rect x="270" y="165" width="10" height="10" fill="#f00af0"/>
<rect x="280" y="165" width="80" height="10" fill="#ffff00"/>
<rect x="360" y="165" width="30" height="10" fill="#f00af0"/>
<rect x="390" y="165" width="130" height="10" fill="#ffff00"/>
<rect x="0" y="175" width="40" height="10" fill="#ffff00"/>
<rect x="40" y="175" width="120" height="10" fill="#f00af0"/>
<rect x="160" y="175" width="40" height="10" fill="#f80cc8"/>
<rect x="200" y="175" width="10" height="10" fill="#f00af0"/>
<rect x="210" y="175" width="30" height="10" fill="#f80cc8"/>
<rect x="240" y="175" width="10" height="10" fill="#f00af0"/>
<rect x="250" y="175" width="10" height="10" fill="#ffff00"/>
<rect x="260" y="175" width="10" height="10" fill="#f00af0"/>
<rect x="270" y="175" width="90" height="10" fill="#ffff00"/>
<rect x="360" y="175" width="10" height="10" fill="#f00af0"/>
<rect x="370" y="175" width="10" height="10" fill="#f80cc8"/>
<rect x="380" y="175" width="10" height="10" fill="#f00af0"/>
<rect x="390" y="175" width="130" height="10" fill="#ffff00"/>
<rect x="0" y="185" width="40" height="10" fill="#ffff00"/>
<rect x="40" y="185" width="120" height="10" fill="#f00af0"/>
<rect x="160" y="185" width="40" height="10" fill="#f80cc8"/>
<rect x="200" y="185" width="10" height="10" fill="#ffff00"/>
<rect x="210" y="185" width="20" height="10" fill="#f80cc8"/>
<rect x="230" y="185" width="10" height="10" fill="#f00af0"/>
<rect x="240" y="185" width="20" height="10" fill="#ffff00"/>
<rect x="260" y="185" width="10" height="10" fill="#f00af0"/>
<rect x="270" y="185" width="10" height="10" fill="#ffff00"/>
<rect x="280" y="185" width="10" height="10" fill="#f00af0"/>
<rect x="290" y="185" width="60" height="10" fill="#ffff00"/>
<rect x="350" y="185" width="30" height="10" fill="#f00af0"/>
<rect x="380" y="185" width="20" height="10" fill="#ffff00"/>
<rect x="400" y="185" width="10" height="10" fill="#f00af0"/>
<rect x="410" y="185" width="10" height="10" fill="#ffff00"/>
<rect x="420" y="185" width="10" height="10" fill="#f00af0"/>
<rect x="430" y="185" width="10" height="10" fill="#ffff00"/>
<rect x="440" y="185" width="80" height="10" fill="#f00af0"/>
<rect x="0" y="195" width="40" height="10" fill="#ffff00"/>
<rect x="40" y="195" width="90" height="10" fill="#f00af0"/>
<rect x="130" y="195" width="20" height="10" fill="#f80cc8"/>
<rect x="150" y="195" width="10" height="10" fill="#f00af0"/>
<rect x="160" y="195" width="20" height="10" fill="#f80cc8"/>
<rect x="180" y="195" width="10" height="10" fill="#f00af0"/>
<rect x="190" y="195" width="40" height="10" fill="#f80cc8"/>
<rect x="230" y="195" width="10" height="10" fill="#f00af0"/>
<rect x="240" y="195" width="10" height="10" fill="#ffff00"/>
<rect x="250" y="195" width="10" height="10" fill="#f00af0"/>
<rect x="260" y="195" width="10" height="10" fill="#f80cc8"/>
<rect x="270" y="195" width="10" height="10" fill="#f00af0"/>
<rect x="280" y="195" width="10" height="10" fill="#ffff00"/>
<rect x="290" y="195" width="10" height="10" fill="#f00af0"/>
<rect x="300" y="195" width="10" height="10" fill="#ffff00"/>
<rect x="310" y="195" width="30" height="10" fill="#f00af0"/>
<rect x="340" y="195" width="10" height="10" fill="#ffff00"/>
<rect x="350" y="195" width="10" height="10" fill="#f80cc8"/>
<rect x="360" y="195" width="10" height="10" fill="#f00af0"/>
<rect x="370" y="195" width="20" height="10" fill="#ffff00"/>
<rect x="390" y="195" width="40" height="10" fill="#f00af0"/>
<rect x="430" y="195" width="10" height="10" fill="#ffff00"/>
<rect x="440" y="195" width="80" height="10" fill="#f00af0"/>
<rect x="0" y="205" width="40" height="10" fill="#ffff00"/>
<rect x="40" y="205" width="30" height="10" fill="#f00af0"/>
<rect x="70" y="205" width="90" height="10" fill="#f80cc8"/>
<rect x="160" y="205" width="10" height="10" fill="#f00af0"/>
<rect x="170" y="205" width="10" height="10" fill="#f80cc8"/>
<rect x="180" y="205" width="20" height="10" fill="#f00af0"/>
<rect x="200" y="205" width="10" height="10" fill="#f80cc8"/>
<rect x="210" y="205" width="20" height="10" fill="#f00af0"/>
<rect x="230" y="205" width="10" height="10" fill="#ffff00"/>
<rect x="240" y="205" width="30" height="10" fill="#f00af0"/>
<rect x="270" y="205" width="20" height="10" fill="#ffff00"/>
<rect x="290" y="205" width="50" height="10" fill="#f00af0"/>
<rect x="340" y="205" width="10" height="10" fill="#ffff00"/>
<rect x="350" y="205" width="10" height="10" fill="#f00af0"/>
<rect x="360" y="205" width="10" height="10" fill="#ffff00"/>
<rect x="370" y="205" width="10" height="10" fill="#f00af0"/>
<rect x="380" y="205" width="10" height="10" fill="#f80cc8"/>
<rect x="390" y="205" width="10" height="10" fill="#f00af0"/>
<rect x="400" y="205" width="10" height="10" fill="#f80cc8"/>
<rect x="410" y="205" width="10" height="10" fill="#f00af0"/>
<rect x="420" y="205" width="20" height="10" fill="#ffff00"/>
<rect x="440" y="205" width="10" height="10" fill="#f00af0"/>
<rect x="450" y="205" width="10" height="10" fill="#f80cc8"/>
<rect x="460" y="205" width="60" height="10" fill="#f00af0"/>
<rect x="0" y="215" width="40" height="10" fill="#ffff00"/>
<rect x="40" y="215" width="30" height="10" fill="#f00af0"/>
<rect x="70" y="215" width="30" height="10" fill="#ffff00"/>
<rect x="100" y="215" width="80" height="10" fill="#f80cc8"/>
<rect x="180" y="215" width="50" height="10" fill="#f00af0"/>
<rect x="230" y="215" width="20" height="10" fill="#f80cc8"/>
<rect x="250" y="215" width="40" height="10" fill="#f00af0"/>
<rect x="290" y="215" width="20" height="10" fill="#f80cc8"/>
<rect x="310" y="215" width="30" height="10" fill="#f00af0"/>
<rect x="340" y="215" width="10" height="10" fill="#ffff00"/>
<rect x="350" y="215" width="10" height="10" fill="#f00af0"/>
<rect x="360" y="215" width="10" height="10" fill="#ffff00"/>
<rect x="370" y="215" width="10" height="10" fill="#f00af0"/>
<rect x="380" y="215" width="20" height="10" fill="#f80cc8"/>
<rect x="400" y="215" width="10" height="10" fill="#f00af0"/>
<rect x="410" y="215" width="20" height="10" fill="#ffff00"/>
<rect x="430" y="215" width="10" height="10" fill="#f00af0"/>
<rect x="440" y="215" width="20" height="10" fill="#f80cc8"/>
<rect x="460" y="215" width="10" height="10" fill="#ffff00"/>
<rect x="470" y="215" width="50" height="10" fill="#f00af0"/>
<rect x="0" y="225" width="40" height="10" fill="#ffff00"/>
<rect x="40" y="225" width="30" height="10" fill="#f00af0"/>
<rect x="70" y="225" width="30" height="10" fill="#ffff00"/>
<rect x="100" y="225" width="70" height="10" fill="#f80cc8"/>
<rect x="170" y="225" width="10" height="10" fill="#f00af0"/>
<rect x="180" y="225" width="10" height="10" fill="#ffff00"/>
<rect x="190" y="225" width="10" height="10" fill="#f00af0"/>
<rect x="200" y="225" width="10" height="10" fill="#ffff00"/>
<rect x="210" y="225" width="30" height="10" fill="#f00af0"/>
<rect x="240" y="225" width="10" height="10" fill="#f80cc8"/>
<rect x="250" y="225" width="40" height="10" fill="#f00af0"/>
<rect x="290" y="225" width="20" height="10" fill="#f80cc8"/>
<rect x="310" y="225" width="30" height="10" fill="#f00af0"/>
<rect x="340" y="225" width="10" height="10" fill="#ffff00"/>
<rect x="350" y="225" width="10" height="10" fill="#f00af0"/>
<rect x="360" y="225" width="10" height="10" fill="#ffff00"/>
<rect x="370" y="225" width="10" height="10" fill="#f00af0"/>
<rect x="380" y="225" width="20" height="10" fill="#f80cc8"/>
<rect x="400" y="225" width="10" height="10" fill="#f00af0"/>
<rect x="410" y="225" width="10" height="10" fill="#ffff00"/>
<rect x="420" y="225" width="20" height="10" fill="#f00af0"/>
<rect x="440" y="225" width="10" height="10" fill="#f80cc8"/>
<rect x="450" y="225" width="10" height="10" fill="#f00af0"/>
<rect x="460" y="225" width="10" height="10" fill="#ffff00"/>
<rect x="470" y="225" width="50" height="10" fill="#f00af0"/>
<rect x="0" y="235" width="40" height="10" fill="#ffff00"/>
<rect x="40" y="235" width="30" height="10" fill="#f00af0"/>
<rect x="70" y="235" width="30" height="10" fill="#ffff00"/>
<rect x="100" y="235" width="70" height="10" fill="#f80cc8"/>
<rect x="170" y="235" width="10" height="10" fill="#f00af0"/>
<rect x="180" y="235" width="10" height="10" fill="#ffff00"/>
<rect x="190" y="235" width="100" height="10" fill="#f00af0"/>
<rect x="290" y="235" width="10" height="10" fill="#f80cc8"/>
<rect x="300" y="235" width="30" height="10" fill="#f00af0"/>
<rect x="330" y="235" width="10" height="10" fill="#f80cc8"/>
<rect x="340" y="235" width="30" height="10" fill="#f00af0"/>
<rect x="370" y="235" width="20" height="10" fill="#f80cc8"/>
<rect x="390" y="235" width="30" height="10" fill="#f00af0"/>
<rect x="420" y="235" width="20" height="10" fill="#f80cc8"/>
<rect x="440" y="235" width="20" height="10" fill="#f00af0"/>
<rect x="460" y="235" width="10" height="10" fill="#ffff00"/>
<rect x="470" y="235" width="50" height="10" fill="#f00af0"/>
<rect x="0" y="245" width="40" height="10" fill="#ffff00"/>
<rect x="40" y="245" width="40" height="10" fill="#f00af0"/>
<rect x="80" y="245" width="20" height="10" fill="#f80cc8"/>
<rect x="100" y="245" width="10" height="10" fill="#ffff00"/>
<rect x="110" y="245" width="40" height="10" fill="#f80cc8"/>
<rect x="150" y="245" width="10" height="10" fill="#ff5500"/>
<rect x="160" y="245" width="10" height="10" fill="#f80cc8"/>
<rect x="170" y="245" width="20" height="10" fill="#f00af0"/>
<rect x="190" y="245" width="10" height="10" fill="#ffff00"/>
<rect x="200" y="245" width="40" height="10" fill="#f00af0"/>
<rect x="240" y="245" width="10" height="10" fill="#ffff00"/>
<rect x="250" y="245" width="70" height="10" fill="#f00af0"/>
<rect x="320" y="245" width="10" height="10" fill="#ffff00"/>
<rect x="330" y="245" width="10" height="10" fill="#f80cc8"/>
<rect x="340" y="245" width="20" height="10" fill="#f00af0"/>
<rect x="360" y="245" width="30" height="10" fill="#f80cc8"/>
<rect x="390" y="245" width="10" height="10" fill="#f00af0"/>
<rect x="400" y="245" width="10" height="10" fill="#ffff00"/>
<rect x="410" y="245" width="10" height="10" fill="#f00af0"/>
<rect x="420" y="245" width="10" height="10" fill="#f80cc8"/>
<rect x="430" y="245" width="10" height="10" fill="#f00af0"/>
<rect x="440" y="245" width="10" height="10" fill="#f80cc8"/>
<rect x="450" y="245" width="70" height="10" fill="#f00af0"/>
<rect x="0" y="255" width="40" height="10" fill="#ffff00"/>
<rect x="40" y="255" width="50" height="10" fill="#f00af0"/>
<rect x="90" y="255" width="60" height="10" fill="#f80cc8"/>
<rect x="150" y="255" width="10" height="10" fill="#ff5500"/>
<rect x="160" y="255" width="10" height="10" fill="#ffff00"/>
<rect x="170" y="255" width="10" height="10" fill="#f80cc8"/>
<rect x="180" y="255" width="60" height="10" fill="#f00af0"/>
<rect x="240" y="255" width="10" height="10" fill="#ffff00"/>
<rect x="250" y="255" width="10" height="10" fill="#f00af0"/>
<rect x="260" y="255" width="20" height="10" fill="#f80cc8"/>
<rect x="280" y="255" width="60" height="10" fill="#f00af0"/>
<rect x="340" y="255" width="10" height="10" fill="#f80cc8"/>
<rect x="350" y="255" width="20" height="10" fill="#f00af0"/>
<rect x="370" y="255" width="20" height="10" fill="#f80cc8"/>
<rect x="390" y="255" width="40" height="10" fill="#ffff00"/>
<rect x="430" y="255" width="10" height="10" fill="#f00af0"/>
<rect x="440" y="255" width="10" height="10" fill="#ffff00"/>
<rect x="450" y="255" width="10" height="10" fill="#f80cc8"/>
<rect x="460" y="255" width="10" height="10" fill="#ffff00"/>
<rect x="470" y="255" width="10" height="10" fill="#f00af0"/>
<rect x="480" y="255" width="10" height="10" fill="#ffff00"/>
<rect x="490" y="255" width="30" height="10" fill="#f00af0"/>
<rect x="0" y="265" width="40" height="10" fill="#ffff00"/>
<rect x="40" y="265" width="10" height="10" fill="#f00af0"/>
<rect x="50" y="265" width="10" height="10" fill="#ffff00"/>
<rect x="60" y="265" width="10" height="10" fill="#f00af0"/>
<rect x="70" y="265" width="10" height="10" fill="#ffff00"/>
<rect x="80" y="265" width="10" height="10" fill="#f00af0"/>
<rect x="90" y="265" width="100" height="10" fill="#f80cc8"/>
<rect x="190" y="265" width="70" height="10" fill="#f00af0"/>
<rect x="260" y="265" width="10" height="10" fill="#f80cc8"/>
<rect x="270" y="265" width="30" height="10" fill="#f00af0"/>
<rect x="300" y="265" width="10" height="10" fill="#ffff00"/>
<rect x="310" y="265" width="20" height="10" fill="#f00af0"/>
<rect x="330" y="265" width="10" height="10" fill="#f80cc8"/>
<rect x="340" y="265" width="10" height="10" fill="#f00af0"/>
<rect x="350" y="265" width="10" height="10" fill="#f80cc8"/>
<rect x="360" y="265" width="10" height="10" fill="#f00af0"/>
<rect x="370" y="265" width="10" height="10" fill="#f80cc8"/>
<rect x="380" y="265" width="10" height="10" fill="#ffff00"/>
<rect x="390" y="265" width="30" height="10" fill="#f00af0"/>
<rect x="420" y="265" width="20" height="10" fill="#ffff00"/>
<rect x="440" y="265" width="10" height="10" fill="#f80cc8"/>
<rect x="450" y="265" width="10" height="10" fill="#f00af0"/>
<rect x="460" y="265" width="10" height="10" fill="#ffff00"/>
<rect x="470" y="265" width="50" height="10" fill="#f00af0"/>
<rect x="0" y="275" width="30" height="10" fill="#ffff00"/>
<rect x="30" y="275" width="20" height="10" fill="#ffffff"/>
<rect x="50" y="275" width="10" height="10" fill="#f00af0"/>
<rect x="60" y="275" width="10" height="10" fill="#ffff00"/>
<rect x="70" y="275" width="10" height="10" fill="#f00af0"/>
<rect x="80" y="275" width="110" height="10" fill="#f80cc8"/>
<rect x="190" y="275" width="70" height="10" fill="#f00af0"/>
<rect x="260" y="275" width="10" height="10" fill="#f80cc8"/>
<rect x="270" y="275" width="10" height="10" fill="#f00af0"/>
<rect x="280" y="275" width="20" height="10" fill="#f80cc8"/>
<rect x="300" y="275" width="10" height="10" fill="#ffff00"/>
<rect x="310" y="275" width="30" height="10" fill="#f00af0"/>
<rect x="340" y="275" width="10" height="10" fill="#f80cc8"/>
<rect x="350" y="275" width="20" height="10" fill="#f00af0"/>
<rect x="370" y="275" width="10" height="10" fill="#f80cc8"/>
<rect x="380" y="275" width="10" height="10" fill="#f00af0"/>
<rect x="390" y="275" width="10" height="10" fill="#ff0a78"/>
<rect x="400" y="275" width="10" height="10" fill="#f00af0"/>
<rect x="410" y="275" width="20" height="10" fill="#ffff00"/>
<rect x="430" y="275" width="10" height="10" fill="#f00af0"/>
<rect x="440" y="275" width="10" height="10" fill="#f80cc8"/>
<rect x="450" y="275" width="10" height="10" fill="#f00af0"/>
<rect x="460" y="275" width="10" height="10" fill="#ffff00"/>
<rect x="470" y="275" width="20" height="10" fill="#f00af0"/>
<rect x="490" y="275" width="30" height="10" fill="#ffff00"/>
<rect x="0" y="285" width="50" height="10" fill="#f00af0"/>
<rect x="50" y="285" width="10" height="10" fill="#f80cc8"/>
<rect x="60" y="285" width="10" height="10" fill="#f00af0"/>
<rect x="70" y="285" width="120" height="10" fill="#f80cc8"/>
<rect x="190" y="285" width="50" height="10" fill="#f00af0"/>
<rect x="240" y="285" width="10" height="10" fill="#f80cc8"/>
<rect x="250" y="285" width="20" height="10" fill="#f00af0"/>
<rect x="270" y="285" width="20" height="10" fill="#ffff00"/>
<rect x="290" y="285" width="20" height="10" fill="#f00af0"/>
<rect x="310" y="285" width="10" height="10" fill="#f80cc8"/>
<rect x="320" y="285" width="10" height="10" fill="#f00af0"/>
<rect x="330" y="285" width="20" height="10" fill="#f80cc8"/>
<rect x="350" y="285" width="10" height="10" fill="#f00af0"/>
<rect x="360" y="285" width="10" height="10" fill="#f80cc8"/>
<rect x="370" y="285" width="10" height="10" fill="#f00af0"/>
<rect x="380" y="285" width="10" height="10" fill="#f80cc8"/>
<rect x="390" y="285" width="10" height="10" fill="#f00af0"/>
<rect x="400" y="285" width="10" height="10" fill="#ffff00"/>
<rect x="410" y="285" width="10" height="10" fill="#f00af0"/>
<rect x="420" y="285" width="20" height="10" fill="#ffff00"/>
<rect x="440" y="285" width="10" height="10" fill="#f00af0"/>
<rect x="450" y="285" width="10" height="10" fill="#f80cc8"/>
<rect x="460" y="285" width="10" height="10" fill="#f00af0"/>
<rect x="470" y="285" width="10" height="10" fill="#ff0a78"/>
<rect x="480" y="285" width="10" height="10" fill="#f00af0"/>
<rect x="490" y="285" width="30" height="10" fill="#ffff00"/>
<rect x="0" y="295" width="40" height="10" fill="#f00af0"/>
<rect x="40" y="295" width="20" height="10" fill="#f80cc8"/>
<rect x="60" y="295" width="10" height="10" fill="#f00af0"/>
<rect x="70" y="295" width="120" height="10" fill="#f80cc8"/>
<rect x="190" y="295" width="50" height="10" fill="#f00af0"/>
<rect x="240" y="295" width="60" height="10" fill="#f80cc8"/>
<rect x="300" y="295" width="10" height="10" fill="#ffff00"/>
<rect x="310" y="295" width="10" height="10" fill="#f80cc8"/>
<rect x="320" y="295" width="10" height="10" fill="#ffff00"/>
<rect x="330" y="295" width="30" height="10" fill="#f80cc8"/>
<rect x="360" y="295" width="10" height="10" fill="#f00af0"/>
<rect x="370" y="295" width="20" height="10" fill="#f80cc8"/>
<rect x="390" y="295" width="10" height="10" fill="#ffff00"/>
<rect x="400" y="295" width="70" height="10" fill="#f00af0"/>
<rect x="470" y="295" width="10" height="10" fill="#ff0a78"/>
<rect x="480" y="295" width="40" height="10" fill="#f00af0"/>
<rect x="0" y="305" width="40" height="10" fill="#f00af0"/>
<rect x="40" y="305" width="20" height="10" fill="#f80cc8"/>
<rect x="60" y="305" width="10" height="10" fill="#f00af0"/>
<rect x="70" y="305" width="60" height="10" fill="#f80cc8"/>
<rect x="130" y="305" width="10" height="10" fill="#f00af0"/>
<rect x="140" y="305" width="20" height="10" fill="#f80cc8"/>
<rect x="160" y="305" width="10" height="10" fill="#f00af0"/>
<rect x="170" y="305" width="30" height="10" fill="#f80cc8"/>
<rect x="200" y="305" width="10" height="10" fill="#f00af0"/>
<rect x="210" y="305" width="10" height="10" fill="#f80cc8"/>
<rect x="220" y="305" width="20" height="10" fill="#f00af0"/>
<rect x="240" y="305" width="80" height="10" fill="#f80cc8"/>
<rect x="320" y="305" width="20" height="10" fill="#f00af0"/>
<rect x="340" y="305" width="20" height="10" fill="#f80cc8"/>
<rect x="360" y="305" width="10" height="10" fill="#f00af0"/>
<rect x="370" y="305" width="10" height="10" fill="#f80cc8"/>
<rect x="380" y="305" width="20" height="10" fill="#f00af0"/>
<rect x="400" y="305" width="10" height="10" fill="#f80cc8"/>
<rect x="410" y="305" width="10" height="10" fill="#f00af0"/>
<rect x="420" y="305" width="20" height="10" fill="#f80cc8"/>
<rect x="440" y="305" width="30" height="10" fill="#ffff00"/>
<rect x="470" y="305" width="50" height="10" fill="#f00af0"/>
<rect x="0" y="315" width="40" height="10" fill="#f00af0"/>
<rect x="40" y="315" width="20" height="10" fill="#f80cc8"/>
<rect x="60" y="315" width="10" height="10" fill="#f00af0"/>
<rect x="70" y="315" width="70" height="10" fill="#f80cc8"/>
<rect x="140" y="315" width="10" height="10" fill="#f00af0"/>
<rect x="150" y="315" width="20" height="10" fill="#f80cc8"/>
<rect x="170" y="315" width="10" height="10" fill="#f00af0"/>
<rect x="180" y="315" width="40" height="10" fill="#f80cc8"/>
<rect x="220" y="315" width="10" height="10" fill="#f00af0"/>
<rect x="230" y="315" width="80" height="10" fill="#f80cc8"/>
<rect x="310" y="315" width="20" height="10" fill="#f00af0"/>
<rect x="330" y="315" width="10" height="10" fill="#f80cc8"/>
<rect x="340" y="315" width="10" height="10" fill="#f00af0"/>
<rect x="350" y="315" width="30" height="10" fill="#f80cc8"/>
<rect x="380" y="315" width="10" height="10" fill="#f00af0"/>
<rect x="390" y="315" width="10" height="10" fill="#f80cc8"/>
<rect x="400" y="315" width="30" height="10" fill="#f00af0"/>
<rect x="430" y="315" width="10" height="10" fill="#ffff00"/>
<rect x="440" y="315" width="20" height="10" fill="#f00af0"/>
<rect x="460" y="315" width="20" height="10" fill="#f80cc8"/>
<rect x="480" y="315" width="40" height="10" fill="#f00af0"/>
<rect x="0" y="325" width="40" height="10" fill="#f00af0"/>
<rect x="40" y="325" width="20" height="10" fill="#f80cc8"/>
<rect x="60" y="325" width="10" height="10" fill="#f00af0"/>
<rect x="70" y="325" width="20" height="10" fill="#f80cc8"/>
<rect x="90" y="325" width="50" height="10" fill="#f00af0"/>
<rect x="140" y="325" width="40" height="10" fill="#f80cc8"/>
<rect x="180" y="325" width="10" height="10" fill="#f00af0"/>
<rect x="190" y="325" width="20" height="10" fill="#f80cc8"/>
<rect x="210" y="325" width="20" height="10" fill="#f00af0"/>
<rect x="230" y="325" width="30" height="10" fill="#f80cc8"/>
<rect x="260" y="325" width="10" height="10" fill="#ffff00"/>
<rect x="270" y="325" width="10" height="10" fill="#ff5500"/>
<rect x="280" y="325" width="110" height="10" fill="#f80cc8"/>
<rect x="390" y="325" width="40" height="10" fill="#f00af0"/>
<rect x="430" y="325" width="10" height="10" fill="#ffff00"/>
<rect x="440" y="325" width="10" height="10" fill="#f00af0"/>
<rect x="450" y="325" width="10" height="10" fill="#f80cc8"/>
<rect x="460" y="325" width="10" height="10" fill="#f00af0"/>
<rect x="470" y="325" width="50" height="10" fill="#f80cc8"/>
<rect x="0" y="335" width="40" height="10" fill="#f00af0"/>
<rect x="40" y="335" width="20" height="10" fill="#f80cc8"/>
<rect x="60" y="335" width="10" height="10" fill="#f00af0"/>
<rect x="70" y="335" width="110" height="10" fill="#f80cc8"/>
<rect x="180" y="335" width="10" height="10" fill="#f00af0"/>
<rect x="190" y="335" width="10" height="10" fill="#f80cc8"/>
<rect x="200" y="335" width="10" height="10" fill="#f00af0"/>
<rect x="210" y="335" width="40" height="10" fill="#f80cc8"/>
<rect x="250" y="335" width="10" height="10" fill="#ff5500"/>
<rect x="260" y="335" width="20" height="10" fill="#ffff00"/>
<rect x="280" y="335" width="120" height="10" fill="#f80cc8"/>
<rect x="400" y="335" width="20" height="10" fill="#f00af0"/>
<rect x="420" y="335" width="10" height="10" fill="#f80cc8"/>
<rect x="430" y="335" width="10" height="10" fill="#f00af0"/>
<rect x="440" y="335" width="80" height="10" fill="#f80cc8"/>
<rect x="0" y="345" width="40" height="10" fill="#f00af0"/>
<rect x="40" y="345" width="20" height="10" fill="#f80cc8"/>
<rect x="60" y="345" width="10" height="10" fill="#f00af0"/>
<rect x="70" y="345" width="350" height="10" fill="#f80cc8"/>
<rect x="420" y="345" width="10" height="10" fill="#f00af0"/>
<rect x="430" y="345" width="10" height="10" fill="#f80cc8"/>
<rect x="440" y="345" width="10" height="10" fill="#f00af0"/>
<rect x="450" y="345" width="70" height="10" fill="#f80cc8"/>
<rect x="0" y="355" width="40" height="10" fill="#f00af0"/>
<rect x="40" y="355" width="20" height="10" fill="#f80cc8"/>
<rect x="60" y="355" width="10" height="10" fill="#f00af0"/>
<rect x="70" y="355" width="110" height="10" fill="#f80cc8"/>
<rect x="180" y="355" width="10" height="10" fill="#ff5500"/>
<rect x="190" y="355" width="10" height="10" fill="#ffff00"/>
<rect x="200" y="355" width="10" height="10" fill="#ff5500"/>
<rect x="210" y="355" width="180" height="10" fill="#f80cc8"/>
<rect x="390" y="355" width="10" height="10" fill="#f00af0"/>
<rect x="400" y="355" width="10" height="10" fill="#f80cc8"/>
<rect x="410" y="355" width="20" height="10" fill="#f00af0"/>
<rect x="430" y="355" width="10" height="10" fill="#ffff00"/>
<rect x="440" y="355" width="10" height="10" fill="#f00af0"/>
<rect x="450" y="355" width="70" height="10" fill="#f80cc8"/>
<rect x="0" y="365" width="40" height="10" fill="#f00af0"/>
<rect x="40" y="365" width="20" height="10" fill="#f80cc8"/>
<rect x="60" y="365" width="80" height="10" fill="#f00af0"/>
<rect x="140" y="365" width="70" height="10" fill="#f80cc8"/>
<rect x="210" y="365" width="20" height="10" fill="#f00af0"/>
<rect x="230" y="365" width="70" height="10" fill="#f80cc8"/>
<rect x="300" y="365" width="10" height="10" fill="#f00af0"/>
<rect x="310" y="365" width="10" height="10" fill="#f80cc8"/>
<rect x="320" y="365" width="10" height="10" fill="#f00af0"/>
<rect x="330" y="365" width="60" height="10" fill="#f80cc8"/>
<rect x="390" y="365" width="10" height="10" fill="#ffff00"/>
<rect x="400" y="365" width="10" height="10" fill="#f80cc8"/>
<rect x="410" y="365" width="10" height="10" fill="#f00af0"/>
<rect x="420" y="365" width="10" height="10" fill="#f80cc8"/>
<rect x="430" y="365" width="20" height="10" fill="#f00af0"/>
<rect x="450" y="365" width="70" height="10" fill="#f80cc8"/>
<rect x="0" y="375" width="40" height="10" fill="#f00af0"/>
<rect x="40" y="375" width="20" height="10" fill="#f80cc8"/>
<rect x="60" y="375" width="80" height="10" fill="#ffffff"/>
<rect x="140" y="375" width="10" height="10" fill="#f00af0"/>
<rect x="150" y="375" width="50" height="10" fill="#f80cc8"/>
<rect x="200" y="375" width="10" height="10" fill="#f00af0"/>
<rect x="210" y="375" width="10" height="10" fill="#f80cc8"/>
<rect x="220" y="375" width="10" height="10" fill="#f00af0"/>
<rect x="230" y="375" width="40" height="10" fill="#f80cc8"/>
<rect x="270" y="375" width="10" height="10" fill="#f00af0"/>
<rect x="280" y="375" width="40" height="10" fill="#f80cc8"/>
<rect x="320" y="375" width="10" height="10" fill="#f00af0"/>
<rect x="330" y="375" width="60" height="10" fill="#f80cc8"/>
<rect x="390" y="375" width="20" height="10" fill="#ffff00"/>
<rect x="410" y="375" width="10" height="10" fill="#f00af0"/>
<rect x="420" y="375" width="10" height="10" fill="#f80cc8"/>
<rect x="430" y="375" width="90" height="10" fill="#f00af0"/>
<rect x="0" y="385" width="40" height="10" fill="#f00af0"/>
<rect x="40" y="385" width="10" height="10" fill="#f80cc8"/>
<rect x="50" y="385" width="280" height="10" fill="#ffffff"/>
<rect x="330" y="385" width="70" height="10" fill="#f80cc8"/>
<rect x="400" y="385" width="20" height="10" fill="#f00af0"/>
<rect x="420" y="385" width="10" height="10" fill="#ff5500"/>
<rect x="430" y="385" width="10" height="10" fill="#f80cc8"/>
<rect x="440" y="385" width="80" height="10" fill="#f00af0"/>
<rect x="0" y="395" width="40" height="10" fill="#f00af0"/>
<rect x="40" y="395" width="10" height="10" fill="#f80cc8"/>
<rect x="50" y="395" width="310" height="10" fill="#ffffff"/>
<rect x="360" y="395" width="30" height="10" fill="#f80cc8"/>
<rect x="390" y="395" width="20" height="10" fill="#f00af0"/>
<rect x="410" y="395" width="10" height="10" fill="#f80cc8"/>
<rect x="420" y="395" width="100" height="10" fill="#f00af0"/>
<rect x="0" y="405" width="40" height="10" fill="#f00af0"/>
<rect x="40" y="405" width="10" height="10" fill="#f80cc8"/>
<rect x="50" y="405" width="310" height="10" fill="#ffffff"/>
<rect x="360" y="405" width="50" height="10" fill="#f80cc8"/>
<rect x="410" y="405" width="110" height="10" fill="#f00af0"/>
<rect x="0" y="415" width="40" height="10" fill="#f00af0"/>
<rect x="40" y="415" width="10" height="10" fill="#f80cc8"/>
<rect x="50" y="415" width="310" height="10" fill="#ffffff"/>
<rect x="360" y="415" width="50" height="10" fill="#f80cc8"/>
<rect x="410" y="415" width="110" height="10" fill="#f00af0"/>
<rect x="0" y="425" width="40" height="10" fill="#f00af0"/>
<rect x="40" y="425" width="10" height="10" fill="#f80cc8"/>
<rect x="50" y="425" width="310" height="10" fill="#ffffff"/>
<rect x="360" y="425" width="50" height="10" fill="#f80cc8"/>
<rect x="410" y="425" width="110" height="10" fill="#f00af0"/>
<rect x="0" y="435" width="40" height="10" fill="#f00af0"/>
<rect x="40" y="435" width="10" height="10" fill="#f80cc8"/>
<rect x="50" y="435" width="310" height="10" fill="#ffffff"/>
<rect x="360" y="435" width="50" height="10" fill="#f80cc8"/>
<rect x="410" y="435" width="110" height="10" fill="#f00af0"/>
<rect x="0" y="445" width="40" height="10" fill="#f00af0"/>
<rect x="40" y="445" width="10" height="10" fill="#f80cc8"/>
<rect x="50" y="445" width="310" height="10" fill="#ffffff"/>
<rect x="360" y="445" width="50" height="10" fill="#f80cc8"/>
<rect x="410" y="445" width="110" height="10" fill="#f00af0"/></g></g>
<g mask="url(#spk2)"><g filter="url(#disp)"></g></g>
<g mask="url(#spk3)"><g filter="url(#disp)"><rect x="310" y="45" width="10" height="10" fill="#ff4a20"/>
<rect x="240" y="55" width="10" height="10" fill="#ff4a20"/>
<rect x="240" y="65" width="10" height="10" fill="#ff4a20"/>
<rect x="270" y="65" width="10" height="10" fill="#ff4a20"/>
<rect x="290" y="65" width="30" height="10" fill="#ff4a20"/>
<rect x="240" y="75" width="10" height="10" fill="#ff4a20"/>
<rect x="250" y="75" width="10" height="10" fill="#ff1a60"/>
<rect x="260" y="75" width="30" height="10" fill="#ff4a20"/>
<rect x="290" y="75" width="10" height="10" fill="#ff1a60"/>
<rect x="300" y="75" width="10" height="10" fill="#ff4a20"/>
<rect x="240" y="85" width="10" height="10" fill="#ff4a20"/>
<rect x="250" y="85" width="10" height="10" fill="#ff1a60"/>
<rect x="260" y="85" width="30" height="10" fill="#ff4a20"/>
<rect x="290" y="85" width="10" height="10" fill="#ff1a60"/>
<rect x="300" y="85" width="20" height="10" fill="#ff4a20"/>
<rect x="40" y="95" width="20" height="10" fill="#ff4a20"/>
<rect x="240" y="95" width="10" height="10" fill="#ff4a20"/>
<rect x="250" y="95" width="10" height="10" fill="#ff1a60"/>
<rect x="260" y="95" width="20" height="10" fill="#ff4a20"/>
<rect x="290" y="95" width="10" height="10" fill="#ff4a20"/>
<rect x="300" y="95" width="10" height="10" fill="#ff1a60"/>
<rect x="310" y="95" width="10" height="10" fill="#ff4a20"/>
<rect x="40" y="105" width="100" height="10" fill="#ff4a20"/>
<rect x="250" y="105" width="40" height="10" fill="#ff4a20"/>
<rect x="300" y="105" width="30" height="10" fill="#ff4a20"/>
<rect x="40" y="115" width="100" height="10" fill="#ff4a20"/>
<rect x="240" y="115" width="20" height="10" fill="#ff4a20"/>
<rect x="260" y="115" width="20" height="10" fill="#ff1a60"/>
<rect x="280" y="115" width="10" height="10" fill="#ff4a20"/>
<rect x="290" y="115" width="10" height="10" fill="#ff1a60"/>
<rect x="300" y="115" width="50" height="10" fill="#ff4a20"/>
<rect x="40" y="125" width="100" height="10" fill="#ff4a20"/>
<rect x="240" y="125" width="20" height="10" fill="#ff4a20"/>
<rect x="260" y="125" width="10" height="10" fill="#ff1a60"/>
<rect x="270" y="125" width="10" height="10" fill="#ff4a20"/>
<rect x="300" y="125" width="30" height="10" fill="#ff4a20"/>
<rect x="350" y="125" width="10" height="10" fill="#ff4a20"/>
<rect x="40" y="135" width="100" height="10" fill="#ff4a20"/>
<rect x="230" y="135" width="20" height="10" fill="#ff4a20"/>
<rect x="250" y="135" width="20" height="10" fill="#ff1a60"/>
<rect x="310" y="135" width="30" height="10" fill="#ff4a20"/>
<rect x="350" y="135" width="30" height="10" fill="#ff4a20"/>
<rect x="40" y="145" width="100" height="10" fill="#ff4a20"/>
<rect x="140" y="145" width="60" height="10" fill="#ff1a60"/>
<rect x="220" y="145" width="20" height="10" fill="#ff4a20"/>
<rect x="240" y="145" width="30" height="10" fill="#ff1a60"/>
<rect x="270" y="145" width="10" height="10" fill="#ff4a20"/>
<rect x="280" y="145" width="10" height="10" fill="#ff1a60"/>
<rect x="310" y="145" width="10" height="10" fill="#ff4a20"/>
<rect x="320" y="145" width="10" height="10" fill="#ff1a60"/>
<rect x="330" y="145" width="90" height="10" fill="#ff4a20"/>
<rect x="40" y="155" width="110" height="10" fill="#ff4a20"/>
<rect x="150" y="155" width="50" height="10" fill="#ff1a60"/>
<rect x="210" y="155" width="10" height="10" fill="#ff4a20"/>
<rect x="240" y="155" width="20" height="10" fill="#ff1a60"/>
<rect x="280" y="155" width="30" height="10" fill="#ff4a20"/>
<rect x="360" y="155" width="30" height="10" fill="#ff4a20"/>
<rect x="40" y="165" width="120" height="10" fill="#ff4a20"/>
<rect x="160" y="165" width="40" height="10" fill="#ff1a60"/>
<rect x="200" y="165" width="10" height="10" fill="#ff4a20"/>
<rect x="210" y="165" width="40" height="10" fill="#ff1a60"/>
<rect x="270" y="165" width="10" height="10" fill="#ff4a20"/>
<rect x="360" y="165" width="30" height="10" fill="#ff4a20"/>
<rect x="40" y="175" width="120" height="10" fill="#ff4a20"/>
<rect x="160" y="175" width="40" height="10" fill="#ff1a60"/>
<rect x="200" y="175" width="10" height="10" fill="#ff4a20"/>
<rect x="210" y="175" width="30" height="10" fill="#ff1a60"/>
<rect x="240" y="175" width="10" height="10" fill="#ff4a20"/>
<rect x="260" y="175" width="10" height="10" fill="#ff4a20"/>
<rect x="360" y="175" width="10" height="10" fill="#ff4a20"/>
<rect x="370" y="175" width="10" height="10" fill="#ff1a60"/>
<rect x="380" y="175" width="10" height="10" fill="#ff4a20"/>
<rect x="40" y="185" width="120" height="10" fill="#ff4a20"/>
<rect x="160" y="185" width="40" height="10" fill="#ff1a60"/>
<rect x="210" y="185" width="20" height="10" fill="#ff1a60"/>
<rect x="230" y="185" width="10" height="10" fill="#ff4a20"/>
<rect x="260" y="185" width="10" height="10" fill="#ff4a20"/>
<rect x="280" y="185" width="10" height="10" fill="#ff4a20"/>
<rect x="350" y="185" width="30" height="10" fill="#ff4a20"/>
<rect x="400" y="185" width="10" height="10" fill="#ff4a20"/>
<rect x="420" y="185" width="10" height="10" fill="#ff4a20"/>
<rect x="440" y="185" width="80" height="10" fill="#ff4a20"/>
<rect x="40" y="195" width="90" height="10" fill="#ff4a20"/>
<rect x="130" y="195" width="20" height="10" fill="#ff1a60"/>
<rect x="150" y="195" width="10" height="10" fill="#ff4a20"/>
<rect x="160" y="195" width="20" height="10" fill="#ff1a60"/>
<rect x="180" y="195" width="10" height="10" fill="#ff4a20"/>
<rect x="190" y="195" width="40" height="10" fill="#ff1a60"/>
<rect x="230" y="195" width="10" height="10" fill="#ff4a20"/>
<rect x="250" y="195" width="10" height="10" fill="#ff4a20"/>
<rect x="260" y="195" width="10" height="10" fill="#ff1a60"/>
<rect x="270" y="195" width="10" height="10" fill="#ff4a20"/>
<rect x="290" y="195" width="10" height="10" fill="#ff4a20"/>
<rect x="310" y="195" width="30" height="10" fill="#ff4a20"/>
<rect x="350" y="195" width="10" height="10" fill="#ff1a60"/>
<rect x="360" y="195" width="10" height="10" fill="#ff4a20"/>
<rect x="390" y="195" width="40" height="10" fill="#ff4a20"/>
<rect x="440" y="195" width="80" height="10" fill="#ff4a20"/>
<rect x="40" y="205" width="30" height="10" fill="#ff4a20"/>
<rect x="70" y="205" width="90" height="10" fill="#ff1a60"/>
<rect x="160" y="205" width="10" height="10" fill="#ff4a20"/>
<rect x="170" y="205" width="10" height="10" fill="#ff1a60"/>
<rect x="180" y="205" width="20" height="10" fill="#ff4a20"/>
<rect x="200" y="205" width="10" height="10" fill="#ff1a60"/>
<rect x="210" y="205" width="20" height="10" fill="#ff4a20"/>
<rect x="240" y="205" width="30" height="10" fill="#ff4a20"/>
<rect x="290" y="205" width="50" height="10" fill="#ff4a20"/>
<rect x="350" y="205" width="10" height="10" fill="#ff4a20"/>
<rect x="370" y="205" width="10" height="10" fill="#ff4a20"/>
<rect x="380" y="205" width="10" height="10" fill="#ff1a60"/>
<rect x="390" y="205" width="10" height="10" fill="#ff4a20"/>
<rect x="400" y="205" width="10" height="10" fill="#ff1a60"/>
<rect x="410" y="205" width="10" height="10" fill="#ff4a20"/>
<rect x="440" y="205" width="10" height="10" fill="#ff4a20"/>
<rect x="450" y="205" width="10" height="10" fill="#ff1a60"/>
<rect x="460" y="205" width="60" height="10" fill="#ff4a20"/>
<rect x="40" y="215" width="30" height="10" fill="#ff4a20"/>
<rect x="100" y="215" width="80" height="10" fill="#ff1a60"/>
<rect x="180" y="215" width="50" height="10" fill="#ff4a20"/>
<rect x="230" y="215" width="20" height="10" fill="#ff1a60"/>
<rect x="250" y="215" width="40" height="10" fill="#ff4a20"/>
<rect x="290" y="215" width="20" height="10" fill="#ff1a60"/>
<rect x="310" y="215" width="30" height="10" fill="#ff4a20"/>
<rect x="350" y="215" width="10" height="10" fill="#ff4a20"/>
<rect x="370" y="215" width="10" height="10" fill="#ff4a20"/>
<rect x="380" y="215" width="20" height="10" fill="#ff1a60"/>
<rect x="400" y="215" width="10" height="10" fill="#ff4a20"/>
<rect x="430" y="215" width="10" height="10" fill="#ff4a20"/>
<rect x="440" y="215" width="20" height="10" fill="#ff1a60"/>
<rect x="470" y="215" width="50" height="10" fill="#ff4a20"/>
<rect x="40" y="225" width="30" height="10" fill="#ff4a20"/>
<rect x="100" y="225" width="70" height="10" fill="#ff1a60"/>
<rect x="170" y="225" width="10" height="10" fill="#ff4a20"/>
<rect x="190" y="225" width="10" height="10" fill="#ff4a20"/>
<rect x="210" y="225" width="30" height="10" fill="#ff4a20"/>
<rect x="240" y="225" width="10" height="10" fill="#ff1a60"/>
<rect x="250" y="225" width="40" height="10" fill="#ff4a20"/>
<rect x="290" y="225" width="20" height="10" fill="#ff1a60"/>
<rect x="310" y="225" width="30" height="10" fill="#ff4a20"/>
<rect x="350" y="225" width="10" height="10" fill="#ff4a20"/>
<rect x="370" y="225" width="10" height="10" fill="#ff4a20"/>
<rect x="380" y="225" width="20" height="10" fill="#ff1a60"/>
<rect x="400" y="225" width="10" height="10" fill="#ff4a20"/>
<rect x="420" y="225" width="20" height="10" fill="#ff4a20"/>
<rect x="440" y="225" width="10" height="10" fill="#ff1a60"/>
<rect x="450" y="225" width="10" height="10" fill="#ff4a20"/>
<rect x="470" y="225" width="50" height="10" fill="#ff4a20"/>
<rect x="40" y="235" width="30" height="10" fill="#ff4a20"/>
<rect x="100" y="235" width="70" height="10" fill="#ff1a60"/>
<rect x="170" y="235" width="10" height="10" fill="#ff4a20"/>
<rect x="190" y="235" width="100" height="10" fill="#ff4a20"/>
<rect x="290" y="235" width="10" height="10" fill="#ff1a60"/>
<rect x="300" y="235" width="30" height="10" fill="#ff4a20"/>
<rect x="330" y="235" width="10" height="10" fill="#ff1a60"/>
<rect x="340" y="235" width="30" height="10" fill="#ff4a20"/>
<rect x="370" y="235" width="20" height="10" fill="#ff1a60"/>
<rect x="390" y="235" width="30" height="10" fill="#ff4a20"/>
<rect x="420" y="235" width="20" height="10" fill="#ff1a60"/>
<rect x="440" y="235" width="20" height="10" fill="#ff4a20"/>
<rect x="470" y="235" width="50" height="10" fill="#ff4a20"/>
<rect x="40" y="245" width="40" height="10" fill="#ff4a20"/>
<rect x="80" y="245" width="20" height="10" fill="#ff1a60"/>
<rect x="110" y="245" width="40" height="10" fill="#ff1a60"/>
<rect x="160" y="245" width="10" height="10" fill="#ff1a60"/>
<rect x="170" y="245" width="20" height="10" fill="#ff4a20"/>
<rect x="200" y="245" width="40" height="10" fill="#ff4a20"/>
<rect x="250" y="245" width="70" height="10" fill="#ff4a20"/>
<rect x="330" y="245" width="10" height="10" fill="#ff1a60"/>
<rect x="340" y="245" width="20" height="10" fill="#ff4a20"/>
<rect x="360" y="245" width="30" height="10" fill="#ff1a60"/>
<rect x="390" y="245" width="10" height="10" fill="#ff4a20"/>
<rect x="410" y="245" width="10" height="10" fill="#ff4a20"/>
<rect x="420" y="245" width="10" height="10" fill="#ff1a60"/>
<rect x="430" y="245" width="10" height="10" fill="#ff4a20"/>
<rect x="440" y="245" width="10" height="10" fill="#ff1a60"/>
<rect x="450" y="245" width="70" height="10" fill="#ff4a20"/>
<rect x="40" y="255" width="50" height="10" fill="#ff4a20"/>
<rect x="90" y="255" width="60" height="10" fill="#ff1a60"/>
<rect x="170" y="255" width="10" height="10" fill="#ff1a60"/>
<rect x="180" y="255" width="60" height="10" fill="#ff4a20"/>
<rect x="250" y="255" width="10" height="10" fill="#ff4a20"/>
<rect x="260" y="255" width="20" height="10" fill="#ff1a60"/>
<rect x="280" y="255" width="60" height="10" fill="#ff4a20"/>
<rect x="340" y="255" width="10" height="10" fill="#ff1a60"/>
<rect x="350" y="255" width="20" height="10" fill="#ff4a20"/>
<rect x="370" y="255" width="20" height="10" fill="#ff1a60"/>
<rect x="430" y="255" width="10" height="10" fill="#ff4a20"/>
<rect x="450" y="255" width="10" height="10" fill="#ff1a60"/>
<rect x="470" y="255" width="10" height="10" fill="#ff4a20"/>
<rect x="490" y="255" width="30" height="10" fill="#ff4a20"/>
<rect x="40" y="265" width="10" height="10" fill="#ff4a20"/>
<rect x="60" y="265" width="10" height="10" fill="#ff4a20"/>
<rect x="80" y="265" width="10" height="10" fill="#ff4a20"/>
<rect x="90" y="265" width="100" height="10" fill="#ff1a60"/>
<rect x="190" y="265" width="70" height="10" fill="#ff4a20"/>
<rect x="260" y="265" width="10" height="10" fill="#ff1a60"/>
<rect x="270" y="265" width="30" height="10" fill="#ff4a20"/>
<rect x="310" y="265" width="20" height="10" fill="#ff4a20"/>
<rect x="330" y="265" width="10" height="10" fill="#ff1a60"/>
<rect x="340" y="265" width="10" height="10" fill="#ff4a20"/>
<rect x="350" y="265" width="10" height="10" fill="#ff1a60"/>
<rect x="360" y="265" width="10" height="10" fill="#ff4a20"/>
<rect x="370" y="265" width="10" height="10" fill="#ff1a60"/>
<rect x="390" y="265" width="30" height="10" fill="#ff4a20"/>
<rect x="440" y="265" width="10" height="10" fill="#ff1a60"/>
<rect x="450" y="265" width="10" height="10" fill="#ff4a20"/>
<rect x="470" y="265" width="50" height="10" fill="#ff4a20"/>
<rect x="50" y="275" width="10" height="10" fill="#ff4a20"/>
<rect x="70" y="275" width="10" height="10" fill="#ff4a20"/>
<rect x="80" y="275" width="110" height="10" fill="#ff1a60"/>
<rect x="190" y="275" width="70" height="10" fill="#ff4a20"/>
<rect x="260" y="275" width="10" height="10" fill="#ff1a60"/>
<rect x="270" y="275" width="10" height="10" fill="#ff4a20"/>
<rect x="280" y="275" width="20" height="10" fill="#ff1a60"/>
<rect x="310" y="275" width="30" height="10" fill="#ff4a20"/>
<rect x="340" y="275" width="10" height="10" fill="#ff1a60"/>
<rect x="350" y="275" width="20" height="10" fill="#ff4a20"/>
<rect x="370" y="275" width="10" height="10" fill="#ff1a60"/>
<rect x="380" y="275" width="10" height="10" fill="#ff4a20"/>
<rect x="400" y="275" width="10" height="10" fill="#ff4a20"/>
<rect x="430" y="275" width="10" height="10" fill="#ff4a20"/>
<rect x="440" y="275" width="10" height="10" fill="#ff1a60"/>
<rect x="450" y="275" width="10" height="10" fill="#ff4a20"/>
<rect x="470" y="275" width="20" height="10" fill="#ff4a20"/>
<rect x="0" y="285" width="50" height="10" fill="#ff4a20"/>
<rect x="50" y="285" width="10" height="10" fill="#ff1a60"/>
<rect x="60" y="285" width="10" height="10" fill="#ff4a20"/>
<rect x="70" y="285" width="120" height="10" fill="#ff1a60"/>
<rect x="190" y="285" width="50" height="10" fill="#ff4a20"/>
<rect x="240" y="285" width="10" height="10" fill="#ff1a60"/>
<rect x="250" y="285" width="20" height="10" fill="#ff4a20"/>
<rect x="290" y="285" width="20" height="10" fill="#ff4a20"/>
<rect x="310" y="285" width="10" height="10" fill="#ff1a60"/>
<rect x="320" y="285" width="10" height="10" fill="#ff4a20"/>
<rect x="330" y="285" width="20" height="10" fill="#ff1a60"/>
<rect x="350" y="285" width="10" height="10" fill="#ff4a20"/>
<rect x="360" y="285" width="10" height="10" fill="#ff1a60"/>
<rect x="370" y="285" width="10" height="10" fill="#ff4a20"/>
<rect x="380" y="285" width="10" height="10" fill="#ff1a60"/>
<rect x="390" y="285" width="10" height="10" fill="#ff4a20"/>
<rect x="410" y="285" width="10" height="10" fill="#ff4a20"/>
<rect x="440" y="285" width="10" height="10" fill="#ff4a20"/>
<rect x="450" y="285" width="10" height="10" fill="#ff1a60"/>
<rect x="460" y="285" width="10" height="10" fill="#ff4a20"/>
<rect x="480" y="285" width="10" height="10" fill="#ff4a20"/>
<rect x="0" y="295" width="40" height="10" fill="#ff4a20"/>
<rect x="40" y="295" width="20" height="10" fill="#ff1a60"/>
<rect x="60" y="295" width="10" height="10" fill="#ff4a20"/>
<rect x="70" y="295" width="120" height="10" fill="#ff1a60"/>
<rect x="190" y="295" width="50" height="10" fill="#ff4a20"/>
<rect x="240" y="295" width="60" height="10" fill="#ff1a60"/>
<rect x="310" y="295" width="10" height="10" fill="#ff1a60"/>
<rect x="330" y="295" width="30" height="10" fill="#ff1a60"/>
<rect x="360" y="295" width="10" height="10" fill="#ff4a20"/>
<rect x="370" y="295" width="20" height="10" fill="#ff1a60"/>
<rect x="400" y="295" width="70" height="10" fill="#ff4a20"/>
<rect x="480" y="295" width="40" height="10" fill="#ff4a20"/>
<rect x="0" y="305" width="40" height="10" fill="#ff4a20"/>
<rect x="40" y="305" width="20" height="10" fill="#ff1a60"/>
<rect x="60" y="305" width="10" height="10" fill="#ff4a20"/>
<rect x="70" y="305" width="60" height="10" fill="#ff1a60"/>
<rect x="130" y="305" width="10" height="10" fill="#ff4a20"/>
<rect x="140" y="305" width="20" height="10" fill="#ff1a60"/>
<rect x="160" y="305" width="10" height="10" fill="#ff4a20"/>
<rect x="170" y="305" width="30" height="10" fill="#ff1a60"/>
<rect x="200" y="305" width="10" height="10" fill="#ff4a20"/>
<rect x="210" y="305" width="10" height="10" fill="#ff1a60"/>
<rect x="220" y="305" width="20" height="10" fill="#ff4a20"/>
<rect x="240" y="305" width="80" height="10" fill="#ff1a60"/>
<rect x="320" y="305" width="20" height="10" fill="#ff4a20"/>
<rect x="340" y="305" width="20" height="10" fill="#ff1a60"/>
<rect x="360" y="305" width="10" height="10" fill="#ff4a20"/>
<rect x="370" y="305" width="10" height="10" fill="#ff1a60"/>
<rect x="380" y="305" width="20" height="10" fill="#ff4a20"/>
<rect x="400" y="305" width="10" height="10" fill="#ff1a60"/>
<rect x="410" y="305" width="10" height="10" fill="#ff4a20"/>
<rect x="420" y="305" width="20" height="10" fill="#ff1a60"/>
<rect x="470" y="305" width="50" height="10" fill="#ff4a20"/>
<rect x="0" y="315" width="40" height="10" fill="#ff4a20"/>
<rect x="40" y="315" width="20" height="10" fill="#ff1a60"/>
<rect x="60" y="315" width="10" height="10" fill="#ff4a20"/>
<rect x="70" y="315" width="70" height="10" fill="#ff1a60"/>
<rect x="140" y="315" width="10" height="10" fill="#ff4a20"/>
<rect x="150" y="315" width="20" height="10" fill="#ff1a60"/>
<rect x="170" y="315" width="10" height="10" fill="#ff4a20"/>
<rect x="180" y="315" width="40" height="10" fill="#ff1a60"/>
<rect x="220" y="315" width="10" height="10" fill="#ff4a20"/>
<rect x="230" y="315" width="80" height="10" fill="#ff1a60"/>
<rect x="310" y="315" width="20" height="10" fill="#ff4a20"/>
<rect x="330" y="315" width="10" height="10" fill="#ff1a60"/>
<rect x="340" y="315" width="10" height="10" fill="#ff4a20"/>
<rect x="350" y="315" width="30" height="10" fill="#ff1a60"/>
<rect x="380" y="315" width="10" height="10" fill="#ff4a20"/>
<rect x="390" y="315" width="10" height="10" fill="#ff1a60"/>
<rect x="400" y="315" width="30" height="10" fill="#ff4a20"/>
<rect x="440" y="315" width="20" height="10" fill="#ff4a20"/>
<rect x="460" y="315" width="20" height="10" fill="#ff1a60"/>
<rect x="480" y="315" width="40" height="10" fill="#ff4a20"/>
<rect x="0" y="325" width="40" height="10" fill="#ff4a20"/>
<rect x="40" y="325" width="20" height="10" fill="#ff1a60"/>
<rect x="60" y="325" width="10" height="10" fill="#ff4a20"/>
<rect x="70" y="325" width="20" height="10" fill="#ff1a60"/>
<rect x="90" y="325" width="50" height="10" fill="#ff4a20"/>
<rect x="140" y="325" width="40" height="10" fill="#ff1a60"/>
<rect x="180" y="325" width="10" height="10" fill="#ff4a20"/>
<rect x="190" y="325" width="20" height="10" fill="#ff1a60"/>
<rect x="210" y="325" width="20" height="10" fill="#ff4a20"/>
<rect x="230" y="325" width="30" height="10" fill="#ff1a60"/>
<rect x="280" y="325" width="110" height="10" fill="#ff1a60"/>
<rect x="390" y="325" width="40" height="10" fill="#ff4a20"/>
<rect x="440" y="325" width="10" height="10" fill="#ff4a20"/>
<rect x="450" y="325" width="10" height="10" fill="#ff1a60"/>
<rect x="460" y="325" width="10" height="10" fill="#ff4a20"/>
<rect x="470" y="325" width="50" height="10" fill="#ff1a60"/>
<rect x="0" y="335" width="40" height="10" fill="#ff4a20"/>
<rect x="40" y="335" width="20" height="10" fill="#ff1a60"/>
<rect x="60" y="335" width="10" height="10" fill="#ff4a20"/>
<rect x="70" y="335" width="110" height="10" fill="#ff1a60"/>
<rect x="180" y="335" width="10" height="10" fill="#ff4a20"/>
<rect x="190" y="335" width="10" height="10" fill="#ff1a60"/>
<rect x="200" y="335" width="10" height="10" fill="#ff4a20"/>
<rect x="210" y="335" width="40" height="10" fill="#ff1a60"/>
<rect x="280" y="335" width="120" height="10" fill="#ff1a60"/>
<rect x="400" y="335" width="20" height="10" fill="#ff4a20"/>
<rect x="420" y="335" width="10" height="10" fill="#ff1a60"/>
<rect x="430" y="335" width="10" height="10" fill="#ff4a20"/>
<rect x="440" y="335" width="80" height="10" fill="#ff1a60"/>
<rect x="0" y="345" width="40" height="10" fill="#ff4a20"/>
<rect x="40" y="345" width="20" height="10" fill="#ff1a60"/>
<rect x="60" y="345" width="10" height="10" fill="#ff4a20"/>
<rect x="70" y="345" width="350" height="10" fill="#ff1a60"/>
<rect x="420" y="345" width="10" height="10" fill="#ff4a20"/>
<rect x="430" y="345" width="10" height="10" fill="#ff1a60"/>
<rect x="440" y="345" width="10" height="10" fill="#ff4a20"/>
<rect x="450" y="345" width="70" height="10" fill="#ff1a60"/>
<rect x="0" y="355" width="40" height="10" fill="#ff4a20"/>
<rect x="40" y="355" width="20" height="10" fill="#ff1a60"/>
<rect x="60" y="355" width="10" height="10" fill="#ff4a20"/>
<rect x="70" y="355" width="110" height="10" fill="#ff1a60"/>
<rect x="210" y="355" width="180" height="10" fill="#ff1a60"/>
<rect x="390" y="355" width="10" height="10" fill="#ff4a20"/>
<rect x="400" y="355" width="10" height="10" fill="#ff1a60"/>
<rect x="410" y="355" width="20" height="10" fill="#ff4a20"/>
<rect x="440" y="355" width="10" height="10" fill="#ff4a20"/>
<rect x="450" y="355" width="70" height="10" fill="#ff1a60"/>
<rect x="0" y="365" width="40" height="10" fill="#ff4a20"/>
<rect x="40" y="365" width="20" height="10" fill="#ff1a60"/>
<rect x="60" y="365" width="80" height="10" fill="#ff4a20"/>
<rect x="140" y="365" width="70" height="10" fill="#ff1a60"/>
<rect x="210" y="365" width="20" height="10" fill="#ff4a20"/>
<rect x="230" y="365" width="70" height="10" fill="#ff1a60"/>
<rect x="300" y="365" width="10" height="10" fill="#ff4a20"/>
<rect x="310" y="365" width="10" height="10" fill="#ff1a60"/>
<rect x="320" y="365" width="10" height="10" fill="#ff4a20"/>
<rect x="330" y="365" width="60" height="10" fill="#ff1a60"/>
<rect x="400" y="365" width="10" height="10" fill="#ff1a60"/>
<rect x="410" y="365" width="10" height="10" fill="#ff4a20"/>
<rect x="420" y="365" width="10" height="10" fill="#ff1a60"/>
<rect x="430" y="365" width="20" height="10" fill="#ff4a20"/>
<rect x="450" y="365" width="70" height="10" fill="#ff1a60"/>
<rect x="0" y="375" width="40" height="10" fill="#ff4a20"/>
<rect x="40" y="375" width="20" height="10" fill="#ff1a60"/>
<rect x="140" y="375" width="10" height="10" fill="#ff4a20"/>
<rect x="150" y="375" width="50" height="10" fill="#ff1a60"/>
<rect x="200" y="375" width="10" height="10" fill="#ff4a20"/>
<rect x="210" y="375" width="10" height="10" fill="#ff1a60"/>
<rect x="220" y="375" width="10" height="10" fill="#ff4a20"/>
<rect x="230" y="375" width="40" height="10" fill="#ff1a60"/>
<rect x="270" y="375" width="10" height="10" fill="#ff4a20"/>
<rect x="280" y="375" width="40" height="10" fill="#ff1a60"/>
<rect x="320" y="375" width="10" height="10" fill="#ff4a20"/>
<rect x="330" y="375" width="60" height="10" fill="#ff1a60"/>
<rect x="410" y="375" width="10" height="10" fill="#ff4a20"/>
<rect x="420" y="375" width="10" height="10" fill="#ff1a60"/>
<rect x="430" y="375" width="90" height="10" fill="#ff4a20"/>
<rect x="0" y="385" width="40" height="10" fill="#ff4a20"/>
<rect x="40" y="385" width="10" height="10" fill="#ff1a60"/>
<rect x="330" y="385" width="70" height="10" fill="#ff1a60"/>
<rect x="400" y="385" width="20" height="10" fill="#ff4a20"/>
<rect x="430" y="385" width="10" height="10" fill="#ff1a60"/>
<rect x="440" y="385" width="80" height="10" fill="#ff4a20"/>
<rect x="0" y="395" width="40" height="10" fill="#ff4a20"/>
<rect x="40" y="395" width="10" height="10" fill="#ff1a60"/>
<rect x="360" y="395" width="30" height="10" fill="#ff1a60"/>
<rect x="390" y="395" width="20" height="10" fill="#ff4a20"/>
<rect x="410" y="395" width="10" height="10" fill="#ff1a60"/>
<rect x="420" y="395" width="100" height="10" fill="#ff4a20"/>
<rect x="0" y="405" width="40" height="10" fill="#ff4a20"/>
<rect x="40" y="405" width="10" height="10" fill="#ff1a60"/>
<rect x="360" y="405" width="50" height="10" fill="#ff1a60"/>
<rect x="410" y="405" width="110" height="10" fill="#ff4a20"/>
<rect x="0" y="415" width="40" height="10" fill="#ff4a20"/>
<rect x="40" y="415" width="10" height="10" fill="#ff1a60"/>
<rect x="360" y="415" width="50" height="10" fill="#ff1a60"/>
<rect x="410" y="415" width="110" height="10" fill="#ff4a20"/>
<rect x="0" y="425" width="40" height="10" fill="#ff4a20"/>
<rect x="40" y="425" width="10" height="10" fill="#ff1a60"/>
<rect x="360" y="425" width="50" height="10" fill="#ff1a60"/>
<rect x="410" y="425" width="110" height="10" fill="#ff4a20"/>
<rect x="0" y="435" width="40" height="10" fill="#ff4a20"/>
<rect x="40" y="435" width="10" height="10" fill="#ff1a60"/>
<rect x="360" y="435" width="50" height="10" fill="#ff1a60"/>
<rect x="410" y="435" width="110" height="10" fill="#ff4a20"/>
<rect x="0" y="445" width="40" height="10" fill="#ff4a20"/>
<rect x="40" y="445" width="10" height="10" fill="#ff1a60"/>
<rect x="360" y="445" width="50" height="10" fill="#ff1a60"/>
<rect x="410" y="445" width="110" height="10" fill="#ff4a20"/></g></g>
<polygon points="135.0,377.0 140.0,378.0 142.0,385.0 175.0,385.0 176.0,380.5 195.0,381.0 196.0,386.0 225.0,386.0 226.0,388.0 260.0,388.2 274.0,386.1 295.0,383.3 316.0,384.0 330.0,386.8 351.0,392.4 365.0,395.9 379.0,400.8 389.5,405.5 402.8,414.6 409.9,409.5 416.0,406.0 416.0,440.0 130.0,440.0" fill="#fff"/>
<path d="M179,380 L179,393" stroke="#c040d0" stroke-width="1.6"/>
<path d="M226,386 L226,393" stroke="#c040d0" stroke-width="1.6"/>
<path d="M286,383 L286,392" stroke="#c040d0" stroke-width="1.6"/>
<path d="M360,391 L357,397" stroke="#c040d0" stroke-width="1.6"/>
<polygon points="313.2,54.5 316.2,54.0 320.5,61.5 335.5,46.2 339.5,48.2 327.0,62.2 322.5,65.8 319.0,64.8" fill="#ffffff" stroke="#ff2080" stroke-width="0.9"/>
<polygon points="34.0,278.0 38.0,275.0 44.0,276.0 48.0,274.0 50.0,277.0 46.0,282.0 41.0,285.0 36.0,286.0 33.0,283.0" fill="#fff"/>
<polygon points="397.0,207.0 405.5,194.0 407.5,195.0 399.0,208.5" fill="#fbeefc" stroke="#e890c0" stroke-width="0.5"/>
<polygon points="349.0,240.5 358.0,246.0 357.3,247.3 348.3,241.8" fill="#fbeefc" stroke="#e890c0" stroke-width="0.5"/>
<polygon points="356.0,189.0 365.0,191.3 364.7,192.6 355.7,190.2" fill="#fbeefc" stroke="#e890c0" stroke-width="0.5"/>
</g>
<polygon points="331.4,5.6 347.2,21.4 350.0,40.0 349.5,88.0 369.3,119.1 406.0,154.0 437.7,174.4 448.9,190.7 477.4,216.2 478.4,235.1 493.7,267.7 494.7,273.8 429.8,398.3 415.0,406.5 409.9,409.5 397.2,421.8 389.5,405.5 375.5,401.5 336.8,396.4 304.3,391.3 290.0,390.3 150.0,392.0 140.0,393.0 135.6,376.8 131.2,350.0 130.2,311.1 128.1,288.7 120.0,276.5 102.7,265.3 85.4,274.4 77.2,282.6 65.0,298.9 57.9,304.0 24.3,283.6 20.2,279.5 22.2,272.4 54.8,256.1 75.2,256.1 88.4,253.0 90.4,239.1 121.0,247.2 123.0,228.9 127.1,198.3 131.2,190.2 166.8,202.4 185.2,196.3 190.0,195.0 191.4,166.3 197.1,159.8 206.4,150.6 214.2,139.2 222.7,125.0 230.5,112.9 229.9,64.8 245.2,50.5 262.5,41.4 282.9,39.3 302.2,30.2" fill="none" stroke="#e07040" stroke-width="0.9"/>
</g>
<g opacity="0.45"><path d="M686.3,4.4 L692.9,444.4" stroke="#d2d2d2" stroke-width="1"/>
<path d="M908,4.4 L914.6,444.4" stroke="#d2d2d2" stroke-width="1"/>
<path d="M500,237.4 L1000,228.9" stroke="#d2d2d2" stroke-width="1"/></g>
</g>
<rect x="19.1" y="4.4" width="477" height="431.6" fill="none" stroke="#000" stroke-width="2.8"/>
<rect x="519.25" y="3.85" width="477.35" height="431.95" fill="none" stroke="#c6c6c6" stroke-width="2.6"/>
<rect x="21" y="6" width="204" height="73" fill="#fff"/>
<text transform="translate(28.12,19.80) scale(1.000,1.000)" text-anchor="middle" font-family="Liberation Serif" font-weight="bold" font-size="12.8" fill="#2a2a2a">r</text>
<text transform="translate(34.38,19.80) scale(0.878,1.000)" text-anchor="middle" font-family="Liberation Serif" font-weight="bold" font-size="12.8" fill="#2a2a2a">u</text>
<text transform="translate(40.62,19.80) scale(0.878,1.000)" text-anchor="middle" font-family="Liberation Serif" font-weight="bold" font-size="12.8" fill="#2a2a2a">n</text>
<text transform="translate(46.88,19.80) scale(0.977,1.000)" text-anchor="middle" font-family="Liberation Serif" font-weight="bold" font-size="12.8" fill="#2a2a2a">o</text>
<text transform="translate(53.12,19.80) scale(1.000,1.000)" text-anchor="middle" font-family="Liberation Serif" font-weight="bold" font-size="12.8" fill="#2a2a2a">f</text>
<text transform="translate(59.38,19.80) scale(1.000,1.000)" text-anchor="middle" font-family="Liberation Serif" font-weight="bold" font-size="12.8" fill="#2a2a2a">f</text>
<text transform="translate(65.62,19.80) scale(1.000,1.000)" text-anchor="middle" font-family="Liberation Serif" font-weight="bold" font-size="12.8" fill="#2a2a2a">(</text>
<text transform="translate(71.88,19.80) scale(0.586,1.000)" text-anchor="middle" font-family="Liberation Serif" font-weight="bold" font-size="12.8" fill="#2a2a2a">m</text>
<text transform="translate(78.12,19.80) scale(0.586,1.000)" text-anchor="middle" font-family="Liberation Serif" font-weight="bold" font-size="12.8" fill="#2a2a2a">m</text>
<text transform="translate(84.38,19.80) scale(1.000,1.000)" text-anchor="middle" font-family="Liberation Serif" font-weight="bold" font-size="12.8" fill="#2a2a2a">)</text>
<rect x="25.3" y="27.099999999999998" width="27.2" height="13" fill="#ffffff" stroke="#707070" stroke-width="1.5"/>
<text transform="translate(60.02,37.40) scale(0.990,1.000)" text-anchor="middle" font-family="Liberation Serif" font-weight="normal" font-size="9.8" fill="#666666">0</text>
<text transform="translate(64.88,37.40) scale(0.990,1.000)" text-anchor="middle" font-family="Liberation Serif" font-weight="normal" font-size="9.8" fill="#666666">–</text>
<text transform="translate(69.72,37.40) scale(0.990,1.000)" text-anchor="middle" font-family="Liberation Serif" font-weight="normal" font-size="9.8" fill="#666666">1</text>
<text transform="translate(74.58,37.40) scale(0.990,1.000)" text-anchor="middle" font-family="Liberation Serif" font-weight="normal" font-size="9.8" fill="#666666">0</text>
<rect x="25.3" y="46.1" width="27.2" height="13" fill="#fff66e" stroke="#707070" stroke-width="1.5"/>
<text transform="translate(60.02,56.40) scale(0.990,1.000)" text-anchor="middle" font-family="Liberation Serif" font-weight="normal" font-size="9.8" fill="#666666">1</text>
<text transform="translate(64.88,56.40) scale(0.990,1.000)" text-anchor="middle" font-family="Liberation Serif" font-weight="normal" font-size="9.8" fill="#666666">0</text>
<text transform="translate(69.72,56.40) scale(0.990,1.000)" text-anchor="middle" font-family="Liberation Serif" font-weight="normal" font-size="9.8" fill="#666666">–</text>
<text transform="translate(74.58,56.40) scale(0.990,1.000)" text-anchor="middle" font-family="Liberation Serif" font-weight="normal" font-size="9.8" fill="#666666">2</text>
<text transform="translate(79.42,56.40) scale(0.990,1.000)" text-anchor="middle" font-family="Liberation Serif" font-weight="normal" font-size="9.8" fill="#666666">0</text>
<rect x="25.3" y="65.10000000000001" width="27.2" height="13" fill="#ffff00" stroke="#707070" stroke-width="1.5"/>
<text transform="translate(60.02,75.40) scale(0.990,1.000)" text-anchor="middle" font-family="Liberation Serif" font-weight="normal" font-size="9.8" fill="#666666">2</text>
<text transform="translate(64.88,75.40) scale(0.990,1.000)" text-anchor="middle" font-family="Liberation Serif" font-weight="normal" font-size="9.8" fill="#666666">0</text>
<text transform="translate(69.72,75.40) scale(0.990,1.000)" text-anchor="middle" font-family="Liberation Serif" font-weight="normal" font-size="9.8" fill="#666666">–</text>
<text transform="translate(74.58,75.40) scale(0.990,1.000)" text-anchor="middle" font-family="Liberation Serif" font-weight="normal" font-size="9.8" fill="#666666">3</text>
<text transform="translate(79.42,75.40) scale(0.990,1.000)" text-anchor="middle" font-family="Liberation Serif" font-weight="normal" font-size="9.8" fill="#666666">0</text>
<rect x="95.7" y="9.299999999999999" width="27.6" height="13.4" fill="#ffb000" stroke="#707070" stroke-width="1.5"/>
<text transform="translate(130.43,19.40) scale(0.990,1.000)" text-anchor="middle" font-family="Liberation Serif" font-weight="normal" font-size="9.8" fill="#666666">3</text>
<text transform="translate(135.28,19.40) scale(0.990,1.000)" text-anchor="middle" font-family="Liberation Serif" font-weight="normal" font-size="9.8" fill="#666666">0</text>
<text transform="translate(140.12,19.40) scale(0.990,1.000)" text-anchor="middle" font-family="Liberation Serif" font-weight="normal" font-size="9.8" fill="#666666">–</text>
<text transform="translate(144.97,19.40) scale(0.990,1.000)" text-anchor="middle" font-family="Liberation Serif" font-weight="normal" font-size="9.8" fill="#666666">4</text>
<text transform="translate(149.82,19.40) scale(0.990,1.000)" text-anchor="middle" font-family="Liberation Serif" font-weight="normal" font-size="9.8" fill="#666666">0</text>
<rect x="95.7" y="28.2" width="27.6" height="13.4" fill="#ff5500" stroke="#707070" stroke-width="1.5"/>
<text transform="translate(130.43,38.30) scale(0.990,1.000)" text-anchor="middle" font-family="Liberation Serif" font-weight="normal" font-size="9.8" fill="#666666">4</text>
<text transform="translate(135.28,38.30) scale(0.990,1.000)" text-anchor="middle" font-family="Liberation Serif" font-weight="normal" font-size="9.8" fill="#666666">0</text>
<text transform="translate(140.12,38.30) scale(0.990,1.000)" text-anchor="middle" font-family="Liberation Serif" font-weight="normal" font-size="9.8" fill="#666666">–</text>
<text transform="translate(144.97,38.30) scale(0.990,1.000)" text-anchor="middle" font-family="Liberation Serif" font-weight="normal" font-size="9.8" fill="#666666">5</text>
<text transform="translate(149.82,38.30) scale(0.990,1.000)" text-anchor="middle" font-family="Liberation Serif" font-weight="normal" font-size="9.8" fill="#666666">0</text>
<rect x="95.7" y="47.1" width="27.6" height="13.4" fill="#ff0a78" stroke="#707070" stroke-width="1.5"/>
<text transform="translate(130.43,57.20) scale(0.990,1.000)" text-anchor="middle" font-family="Liberation Serif" font-weight="normal" font-size="9.8" fill="#666666">5</text>
<text transform="translate(135.28,57.20) scale(0.990,1.000)" text-anchor="middle" font-family="Liberation Serif" font-weight="normal" font-size="9.8" fill="#666666">0</text>
<text transform="translate(140.12,57.20) scale(0.990,1.000)" text-anchor="middle" font-family="Liberation Serif" font-weight="normal" font-size="9.8" fill="#666666">–</text>
<text transform="translate(144.97,57.20) scale(0.990,1.000)" text-anchor="middle" font-family="Liberation Serif" font-weight="normal" font-size="9.8" fill="#666666">6</text>
<text transform="translate(149.82,57.20) scale(0.990,1.000)" text-anchor="middle" font-family="Liberation Serif" font-weight="normal" font-size="9.8" fill="#666666">0</text>
<rect x="95.7" y="66.0" width="27.6" height="13.4" fill="#f00af0" stroke="#707070" stroke-width="1.5"/>
<text transform="translate(130.43,76.10) scale(0.990,1.000)" text-anchor="middle" font-family="Liberation Serif" font-weight="normal" font-size="9.8" fill="#666666">6</text>
<text transform="translate(135.28,76.10) scale(0.990,1.000)" text-anchor="middle" font-family="Liberation Serif" font-weight="normal" font-size="9.8" fill="#666666">0</text>
<text transform="translate(140.12,76.10) scale(0.990,1.000)" text-anchor="middle" font-family="Liberation Serif" font-weight="normal" font-size="9.8" fill="#666666">–</text>
<text transform="translate(144.97,76.10) scale(0.990,1.000)" text-anchor="middle" font-family="Liberation Serif" font-weight="normal" font-size="9.8" fill="#666666">7</text>
<text transform="translate(149.82,76.10) scale(0.990,1.000)" text-anchor="middle" font-family="Liberation Serif" font-weight="normal" font-size="9.8" fill="#666666">0</text>
<rect x="158.5" y="9.299999999999999" width="27.5" height="13.4" fill="#a010f0" stroke="#707070" stroke-width="1.5"/>
<text transform="translate(193.23,19.40) scale(0.990,1.000)" text-anchor="middle" font-family="Liberation Serif" font-weight="normal" font-size="9.8" fill="#666666">7</text>
<text transform="translate(198.08,19.40) scale(0.990,1.000)" text-anchor="middle" font-family="Liberation Serif" font-weight="normal" font-size="9.8" fill="#666666">0</text>
<text transform="translate(202.93,19.40) scale(0.990,1.000)" text-anchor="middle" font-family="Liberation Serif" font-weight="normal" font-size="9.8" fill="#666666">–</text>
<text transform="translate(207.78,19.40) scale(0.990,1.000)" text-anchor="middle" font-family="Liberation Serif" font-weight="normal" font-size="9.8" fill="#666666">8</text>
<text transform="translate(212.62,19.40) scale(0.990,1.000)" text-anchor="middle" font-family="Liberation Serif" font-weight="normal" font-size="9.8" fill="#666666">0</text>
<rect x="158.5" y="28.2" width="27.5" height="13.4" fill="#5a18d8" stroke="#707070" stroke-width="1.5"/>
<text transform="translate(193.23,38.30) scale(0.990,1.000)" text-anchor="middle" font-family="Liberation Serif" font-weight="normal" font-size="9.8" fill="#666666">8</text>
<text transform="translate(198.08,38.30) scale(0.990,1.000)" text-anchor="middle" font-family="Liberation Serif" font-weight="normal" font-size="9.8" fill="#666666">0</text>
<text transform="translate(202.93,38.30) scale(0.990,1.000)" text-anchor="middle" font-family="Liberation Serif" font-weight="normal" font-size="9.8" fill="#666666">–</text>
<text transform="translate(207.78,38.30) scale(0.990,1.000)" text-anchor="middle" font-family="Liberation Serif" font-weight="normal" font-size="9.8" fill="#666666">9</text>
<text transform="translate(212.62,38.30) scale(0.990,1.000)" text-anchor="middle" font-family="Liberation Serif" font-weight="normal" font-size="9.8" fill="#666666">0</text>
<rect x="158.5" y="47.1" width="27.5" height="13.4" fill="#0a1aa8" stroke="#707070" stroke-width="1.5"/>
<text transform="translate(193.23,57.20) scale(0.990,1.000)" text-anchor="middle" font-family="Liberation Serif" font-weight="normal" font-size="9.8" fill="#666666">9</text>
<text transform="translate(198.08,57.20) scale(0.990,1.000)" text-anchor="middle" font-family="Liberation Serif" font-weight="normal" font-size="9.8" fill="#666666">0</text>
<text transform="translate(202.93,57.20) scale(0.990,1.000)" text-anchor="middle" font-family="Liberation Serif" font-weight="normal" font-size="9.8" fill="#666666">–</text>
<text transform="translate(207.78,57.20) scale(0.990,1.000)" text-anchor="middle" font-family="Liberation Serif" font-weight="normal" font-size="9.8" fill="#666666">1</text>
<text transform="translate(212.62,57.20) scale(0.990,1.000)" text-anchor="middle" font-family="Liberation Serif" font-weight="normal" font-size="9.8" fill="#666666">0</text>
<text transform="translate(217.48,57.20) scale(0.990,1.000)" text-anchor="middle" font-family="Liberation Serif" font-weight="normal" font-size="9.8" fill="#666666">0</text>
<rect x="521" y="5.2" width="204" height="73" fill="#fff"/>
<text transform="translate(528.12,19.00) scale(1.000,1.000)" text-anchor="middle" font-family="Liberation Serif" font-weight="bold" font-size="12.8" fill="#2a2a2a">r</text>
<text transform="translate(534.38,19.00) scale(0.878,1.000)" text-anchor="middle" font-family="Liberation Serif" font-weight="bold" font-size="12.8" fill="#2a2a2a">u</text>
<text transform="translate(540.62,19.00) scale(0.878,1.000)" text-anchor="middle" font-family="Liberation Serif" font-weight="bold" font-size="12.8" fill="#2a2a2a">n</text>
<text transform="translate(546.88,19.00) scale(0.977,1.000)" text-anchor="middle" font-family="Liberation Serif" font-weight="bold" font-size="12.8" fill="#2a2a2a">o</text>
<text transform="translate(553.12,19.00) scale(1.000,1.000)" text-anchor="middle" font-family="Liberation Serif" font-weight="bold" font-size="12.8" fill="#2a2a2a">f</text>
<text transform="translate(559.38,19.00) scale(1.000,1.000)" text-anchor="middle" font-family="Liberation Serif" font-weight="bold" font-size="12.8" fill="#2a2a2a">f</text>
<text transform="translate(565.62,19.00) scale(1.000,1.000)" text-anchor="middle" font-family="Liberation Serif" font-weight="bold" font-size="12.8" fill="#2a2a2a">(</text>
<text transform="translate(571.88,19.00) scale(0.586,1.000)" text-anchor="middle" font-family="Liberation Serif" font-weight="bold" font-size="12.8" fill="#2a2a2a">m</text>
<text transform="translate(578.12,19.00) scale(0.586,1.000)" text-anchor="middle" font-family="Liberation Serif" font-weight="bold" font-size="12.8" fill="#2a2a2a">m</text>
<text transform="translate(584.38,19.00) scale(1.000,1.000)" text-anchor="middle" font-family="Liberation Serif" font-weight="bold" font-size="12.8" fill="#2a2a2a">)</text>
<rect x="525.3" y="26.299999999999997" width="27.2" height="13" fill="#ffffff" stroke="#707070" stroke-width="1.5"/>
<text transform="translate(560.02,36.60) scale(0.990,1.000)" text-anchor="middle" font-family="Liberation Serif" font-weight="normal" font-size="9.8" fill="#666666">0</text>
<text transform="translate(564.88,36.60) scale(0.990,1.000)" text-anchor="middle" font-family="Liberation Serif" font-weight="normal" font-size="9.8" fill="#666666">–</text>
<text transform="translate(569.73,36.60) scale(0.990,1.000)" text-anchor="middle" font-family="Liberation Serif" font-weight="normal" font-size="9.8" fill="#666666">1</text>
<text transform="translate(574.58,36.60) scale(0.990,1.000)" text-anchor="middle" font-family="Liberation Serif" font-weight="normal" font-size="9.8" fill="#666666">0</text>
<rect x="525.3" y="45.300000000000004" width="27.2" height="13" fill="#fff66e" stroke="#707070" stroke-width="1.5"/>
<text transform="translate(560.02,55.60) scale(0.990,1.000)" text-anchor="middle" font-family="Liberation Serif" font-weight="normal" font-size="9.8" fill="#666666">1</text>
<text transform="translate(564.88,55.60) scale(0.990,1.000)" text-anchor="middle" font-family="Liberation Serif" font-weight="normal" font-size="9.8" fill="#666666">0</text>
<text transform="translate(569.73,55.60) scale(0.990,1.000)" text-anchor="middle" font-family="Liberation Serif" font-weight="normal" font-size="9.8" fill="#666666">–</text>
<text transform="translate(574.58,55.60) scale(0.990,1.000)" text-anchor="middle" font-family="Liberation Serif" font-weight="normal" font-size="9.8" fill="#666666">2</text>
<text transform="translate(579.43,55.60) scale(0.990,1.000)" text-anchor="middle" font-family="Liberation Serif" font-weight="normal" font-size="9.8" fill="#666666">0</text>
<rect x="525.3" y="64.30000000000001" width="27.2" height="13" fill="#ffff00" stroke="#707070" stroke-width="1.5"/>
<text transform="translate(560.02,74.60) scale(0.990,1.000)" text-anchor="middle" font-family="Liberation Serif" font-weight="normal" font-size="9.8" fill="#666666">2</text>
<text transform="translate(564.88,74.60) scale(0.990,1.000)" text-anchor="middle" font-family="Liberation Serif" font-weight="normal" font-size="9.8" fill="#666666">0</text>
<text transform="translate(569.73,74.60) scale(0.990,1.000)" text-anchor="middle" font-family="Liberation Serif" font-weight="normal" font-size="9.8" fill="#666666">–</text>
<text transform="translate(574.58,74.60) scale(0.990,1.000)" text-anchor="middle" font-family="Liberation Serif" font-weight="normal" font-size="9.8" fill="#666666">3</text>
<text transform="translate(579.43,74.60) scale(0.990,1.000)" text-anchor="middle" font-family="Liberation Serif" font-weight="normal" font-size="9.8" fill="#666666">0</text>
<rect x="595.7" y="8.499999999999998" width="27.6" height="13.4" fill="#ffb000" stroke="#707070" stroke-width="1.5"/>
<text transform="translate(630.42,18.60) scale(0.990,1.000)" text-anchor="middle" font-family="Liberation Serif" font-weight="normal" font-size="9.8" fill="#666666">3</text>
<text transform="translate(635.27,18.60) scale(0.990,1.000)" text-anchor="middle" font-family="Liberation Serif" font-weight="normal" font-size="9.8" fill="#666666">0</text>
<text transform="translate(640.12,18.60) scale(0.990,1.000)" text-anchor="middle" font-family="Liberation Serif" font-weight="normal" font-size="9.8" fill="#666666">–</text>
<text transform="translate(644.98,18.60) scale(0.990,1.000)" text-anchor="middle" font-family="Liberation Serif" font-weight="normal" font-size="9.8" fill="#666666">4</text>
<text transform="translate(649.83,18.60) scale(0.990,1.000)" text-anchor="middle" font-family="Liberation Serif" font-weight="normal" font-size="9.8" fill="#666666">0</text>
<rect x="595.7" y="27.4" width="27.6" height="13.4" fill="#ff5500" stroke="#707070" stroke-width="1.5"/>
<text transform="translate(630.42,37.50) scale(0.990,1.000)" text-anchor="middle" font-family="Liberation Serif" font-weight="normal" font-size="9.8" fill="#666666">4</text>
<text transform="translate(635.27,37.50) scale(0.990,1.000)" text-anchor="middle" font-family="Liberation Serif" font-weight="normal" font-size="9.8" fill="#666666">0</text>
<text transform="translate(640.12,37.50) scale(0.990,1.000)" text-anchor="middle" font-family="Liberation Serif" font-weight="normal" font-size="9.8" fill="#666666">–</text>
<text transform="translate(644.98,37.50) scale(0.990,1.000)" text-anchor="middle" font-family="Liberation Serif" font-weight="normal" font-size="9.8" fill="#666666">5</text>
<text transform="translate(649.83,37.50) scale(0.990,1.000)" text-anchor="middle" font-family="Liberation Serif" font-weight="normal" font-size="9.8" fill="#666666">0</text>
<rect x="595.7" y="46.300000000000004" width="27.6" height="13.4" fill="#ff0a78" stroke="#707070" stroke-width="1.5"/>
<text transform="translate(630.42,56.40) scale(0.990,1.000)" text-anchor="middle" font-family="Liberation Serif" font-weight="normal" font-size="9.8" fill="#666666">5</text>
<text transform="translate(635.27,56.40) scale(0.990,1.000)" text-anchor="middle" font-family="Liberation Serif" font-weight="normal" font-size="9.8" fill="#666666">0</text>
<text transform="translate(640.12,56.40) scale(0.990,1.000)" text-anchor="middle" font-family="Liberation Serif" font-weight="normal" font-size="9.8" fill="#666666">–</text>
<text transform="translate(644.98,56.40) scale(0.990,1.000)" text-anchor="middle" font-family="Liberation Serif" font-weight="normal" font-size="9.8" fill="#666666">6</text>
<text transform="translate(649.83,56.40) scale(0.990,1.000)" text-anchor="middle" font-family="Liberation Serif" font-weight="normal" font-size="9.8" fill="#666666">0</text>
<rect x="595.7" y="65.2" width="27.6" height="13.4" fill="#f00af0" stroke="#707070" stroke-width="1.5"/>
<text transform="translate(630.42,75.30) scale(0.990,1.000)" text-anchor="middle" font-family="Liberation Serif" font-weight="normal" font-size="9.8" fill="#666666">6</text>
<text transform="translate(635.27,75.30) scale(0.990,1.000)" text-anchor="middle" font-family="Liberation Serif" font-weight="normal" font-size="9.8" fill="#666666">0</text>
<text transform="translate(640.12,75.30) scale(0.990,1.000)" text-anchor="middle" font-family="Liberation Serif" font-weight="normal" font-size="9.8" fill="#666666">–</text>
<text transform="translate(644.98,75.30) scale(0.990,1.000)" text-anchor="middle" font-family="Liberation Serif" font-weight="normal" font-size="9.8" fill="#666666">7</text>
<text transform="translate(649.83,75.30) scale(0.990,1.000)" text-anchor="middle" font-family="Liberation Serif" font-weight="normal" font-size="9.8" fill="#666666">0</text>
<rect x="658.5" y="8.499999999999998" width="27.5" height="13.4" fill="#a010f0" stroke="#707070" stroke-width="1.5"/>
<text transform="translate(693.22,18.60) scale(0.990,1.000)" text-anchor="middle" font-family="Liberation Serif" font-weight="normal" font-size="9.8" fill="#666666">7</text>
<text transform="translate(698.07,18.60) scale(0.990,1.000)" text-anchor="middle" font-family="Liberation Serif" font-weight="normal" font-size="9.8" fill="#666666">0</text>
<text transform="translate(702.92,18.60) scale(0.990,1.000)" text-anchor="middle" font-family="Liberation Serif" font-weight="normal" font-size="9.8" fill="#666666">–</text>
<text transform="translate(707.77,18.60) scale(0.990,1.000)" text-anchor="middle" font-family="Liberation Serif" font-weight="normal" font-size="9.8" fill="#666666">8</text>
<text transform="translate(712.62,18.60) scale(0.990,1.000)" text-anchor="middle" font-family="Liberation Serif" font-weight="normal" font-size="9.8" fill="#666666">0</text>
<rect x="658.5" y="27.4" width="27.5" height="13.4" fill="#5a18d8" stroke="#707070" stroke-width="1.5"/>
<text transform="translate(693.22,37.50) scale(0.990,1.000)" text-anchor="middle" font-family="Liberation Serif" font-weight="normal" font-size="9.8" fill="#666666">8</text>
<text transform="translate(698.07,37.50) scale(0.990,1.000)" text-anchor="middle" font-family="Liberation Serif" font-weight="normal" font-size="9.8" fill="#666666">0</text>
<text transform="translate(702.92,37.50) scale(0.990,1.000)" text-anchor="middle" font-family="Liberation Serif" font-weight="normal" font-size="9.8" fill="#666666">–</text>
<text transform="translate(707.77,37.50) scale(0.990,1.000)" text-anchor="middle" font-family="Liberation Serif" font-weight="normal" font-size="9.8" fill="#666666">9</text>
<text transform="translate(712.62,37.50) scale(0.990,1.000)" text-anchor="middle" font-family="Liberation Serif" font-weight="normal" font-size="9.8" fill="#666666">0</text>
<rect x="658.5" y="46.300000000000004" width="27.5" height="13.4" fill="#0a1aa8" stroke="#707070" stroke-width="1.5"/>
<text transform="translate(693.22,56.40) scale(0.990,1.000)" text-anchor="middle" font-family="Liberation Serif" font-weight="normal" font-size="9.8" fill="#666666">9</text>
<text transform="translate(698.07,56.40) scale(0.990,1.000)" text-anchor="middle" font-family="Liberation Serif" font-weight="normal" font-size="9.8" fill="#666666">0</text>
<text transform="translate(702.92,56.40) scale(0.990,1.000)" text-anchor="middle" font-family="Liberation Serif" font-weight="normal" font-size="9.8" fill="#666666">–</text>
<text transform="translate(707.77,56.40) scale(0.990,1.000)" text-anchor="middle" font-family="Liberation Serif" font-weight="normal" font-size="9.8" fill="#666666">1</text>
<text transform="translate(712.62,56.40) scale(0.990,1.000)" text-anchor="middle" font-family="Liberation Serif" font-weight="normal" font-size="9.8" fill="#666666">0</text>
<text transform="translate(717.47,56.40) scale(0.990,1.000)" text-anchor="middle" font-family="Liberation Serif" font-weight="normal" font-size="9.8" fill="#666666">0</text>
<polygon points="456.0,66.6 456.0,29.1 449.8,60.4" fill="#fff" stroke="#000" stroke-width="0.9" stroke-linejoin="miter"/>
<polygon points="456.0,66.6 456.0,29.1 462.2,60.4" fill="#000" stroke="#000" stroke-width="0.9" stroke-linejoin="miter"/>
<polygon points="456.0,66.6 493.5,66.6 462.2,60.4" fill="#fff" stroke="#000" stroke-width="0.9" stroke-linejoin="miter"/>
<polygon points="456.0,66.6 493.5,66.6 462.2,72.8" fill="#000" stroke="#000" stroke-width="0.9" stroke-linejoin="miter"/>
<polygon points="456.0,66.6 456.0,104.2 462.2,72.8" fill="#fff" stroke="#000" stroke-width="0.9" stroke-linejoin="miter"/>
<polygon points="456.0,66.6 456.0,104.2 449.8,72.8" fill="#000" stroke="#000" stroke-width="0.9" stroke-linejoin="miter"/>
<polygon points="456.0,66.6 417.5,66.6 449.8,72.8" fill="#fff" stroke="#000" stroke-width="0.9" stroke-linejoin="miter"/>
<polygon points="456.0,66.6 417.5,66.6 449.8,60.4" fill="#000" stroke="#000" stroke-width="0.9" stroke-linejoin="miter"/>
<polygon points="952.0,66.8 952.0,29.3 945.8,60.6" fill="#fff" stroke="#000" stroke-width="0.9" stroke-linejoin="miter"/>
<polygon points="952.0,66.8 952.0,29.3 958.2,60.6" fill="#000" stroke="#000" stroke-width="0.9" stroke-linejoin="miter"/>
<polygon points="952.0,66.8 989.5,66.8 958.2,60.6" fill="#fff" stroke="#000" stroke-width="0.9" stroke-linejoin="miter"/>
<polygon points="952.0,66.8 989.5,66.8 958.2,73.0" fill="#000" stroke="#000" stroke-width="0.9" stroke-linejoin="miter"/>
<polygon points="952.0,66.8 952.0,104.4 958.2,73.0" fill="#fff" stroke="#000" stroke-width="0.9" stroke-linejoin="miter"/>
<polygon points="952.0,66.8 952.0,104.4 945.8,73.0" fill="#000" stroke="#000" stroke-width="0.9" stroke-linejoin="miter"/>
<polygon points="952.0,66.8 913.5,66.8 945.8,73.0" fill="#fff" stroke="#000" stroke-width="0.9" stroke-linejoin="miter"/>
<polygon points="952.0,66.8 913.5,66.8 945.8,60.6" fill="#000" stroke="#000" stroke-width="0.9" stroke-linejoin="miter"/>
<text x="456.2" y="23.1" text-anchor="middle" font-family="Liberation Serif" font-size="18" fill="#222">N</text>
<text x="952.2" y="22.6" text-anchor="middle" font-family="Liberation Serif" font-size="18" fill="#222">N</text>
<rect x="20.5" y="394.2" width="255.5" height="39" fill="#fff"/>
<path d="M26.7,430.4 H156.3" stroke="#111" stroke-width="1.8"/>
<path d="M26.7,418.5 V431.2" stroke="#111" stroke-width="1.6"/>
<path d="M59,421.8 V431.2" stroke="#111" stroke-width="1.6"/>
<path d="M91.5,418.5 V431.2" stroke="#111" stroke-width="1.6"/>
<path d="M124,421.8 V431.2" stroke="#111" stroke-width="1.6"/>
<path d="M156.3,418.5 V431.2" stroke="#111" stroke-width="1.6"/>
<text x="22" y="409.6" font-family="Liberation Sans" font-size="16.2" fill="#111">0</text>
<text x="42.3" y="409.6" font-family="Liberation Sans" font-size="16.2" fill="#111" textLength="33.6" lengthAdjust="spacingAndGlyphs">1.25</text>
<text x="78.6" y="409.6" font-family="Liberation Sans" font-size="16.2" fill="#111" textLength="24.6" lengthAdjust="spacingAndGlyphs">2.5</text>
<text x="151" y="409.6" font-family="Liberation Sans" font-size="16.2" fill="#111" textLength="99" lengthAdjust="spacingAndGlyphs">5 Kilometers</text>
<rect x="523.8" y="393.8" width="256" height="39" fill="#fff"/>
<path d="M530.0,430.0 H659.6" stroke="#111" stroke-width="1.8"/>
<path d="M530.0,418.1 V430.8" stroke="#111" stroke-width="1.6"/>
<path d="M562.3,421.40000000000003 V430.8" stroke="#111" stroke-width="1.6"/>
<path d="M594.8,418.1 V430.8" stroke="#111" stroke-width="1.6"/>
<path d="M627.3,421.40000000000003 V430.8" stroke="#111" stroke-width="1.6"/>
<path d="M659.6,418.1 V430.8" stroke="#111" stroke-width="1.6"/>
<text x="525.3" y="409.20000000000005" font-family="Liberation Sans" font-size="16.2" fill="#111">0</text>
<text x="545.6" y="409.20000000000005" font-family="Liberation Sans" font-size="16.2" fill="#111" textLength="33.6" lengthAdjust="spacingAndGlyphs">1.25</text>
<text x="581.9" y="409.20000000000005" font-family="Liberation Sans" font-size="16.2" fill="#111" textLength="24.6" lengthAdjust="spacingAndGlyphs">2.5</text>
<text x="654.3" y="409.20000000000005" font-family="Liberation Sans" font-size="16.2" fill="#111" textLength="99" lengthAdjust="spacingAndGlyphs">5 Kilometers</text>
<text transform="translate(157.50,450.40) scale(0.887,1.000)" text-anchor="middle" font-family="Liberation Serif" font-weight="normal" font-size="15.0" fill="#3a3a3a">1</text>
<text transform="translate(164.50,450.40) scale(0.887,1.000)" text-anchor="middle" font-family="Liberation Serif" font-weight="normal" font-size="15.0" fill="#3a3a3a">1</text>
<text transform="translate(171.50,450.40) scale(0.887,1.000)" text-anchor="middle" font-family="Liberation Serif" font-weight="normal" font-size="15.0" fill="#3a3a3a">3</text>
<text transform="translate(178.50,450.40) scale(1.000,1.000)" text-anchor="middle" font-family="Liberation Serif" font-weight="normal" font-size="15.0" fill="#3a3a3a">°</text>
<text transform="translate(192.50,450.40) scale(0.887,1.000)" text-anchor="middle" font-family="Liberation Serif" font-weight="normal" font-size="15.0" fill="#3a3a3a">2</text>
<text transform="translate(199.50,450.40) scale(0.887,1.000)" text-anchor="middle" font-family="Liberation Serif" font-weight="normal" font-size="15.0" fill="#3a3a3a">0</text>
<text transform="translate(206.50,450.40) scale(1.000,1.000)" text-anchor="middle" font-family="Liberation Serif" font-weight="normal" font-size="15.0" fill="#3a3a3a">’</text>
<text transform="translate(213.50,450.40) scale(0.887,1.000)" text-anchor="middle" font-family="Liberation Serif" font-weight="normal" font-size="15.0" fill="#3a3a3a">0</text>
<text transform="translate(220.50,450.40) scale(1.000,1.000)" text-anchor="middle" font-family="Liberation Serif" font-weight="normal" font-size="15.0" fill="#3a3a3a">″</text>
<text transform="translate(227.50,450.40) scale(0.726,1.000)" text-anchor="middle" font-family="Liberation Serif" font-weight="normal" font-size="15.0" fill="#3a3a3a">E</text>
<text transform="translate(379.50,450.40) scale(0.887,1.000)" text-anchor="middle" font-family="Liberation Serif" font-weight="normal" font-size="15.0" fill="#3a3a3a">1</text>
<text transform="translate(386.50,450.40) scale(0.887,1.000)" text-anchor="middle" font-family="Liberation Serif" font-weight="normal" font-size="15.0" fill="#3a3a3a">1</text>
<text transform="translate(393.50,450.40) scale(0.887,1.000)" text-anchor="middle" font-family="Liberation Serif" font-weight="normal" font-size="15.0" fill="#3a3a3a">3</text>
<text transform="translate(400.50,450.40) scale(1.000,1.000)" text-anchor="middle" font-family="Liberation Serif" font-weight="normal" font-size="15.0" fill="#3a3a3a">°</text>
<text transform="translate(414.50,450.40) scale(0.887,1.000)" text-anchor="middle" font-family="Liberation Serif" font-weight="normal" font-size="15.0" fill="#3a3a3a">2</text>
<text transform="translate(421.50,450.40) scale(0.887,1.000)" text-anchor="middle" font-family="Liberation Serif" font-weight="normal" font-size="15.0" fill="#3a3a3a">5</text>
<text transform="translate(428.50,450.40) scale(1.000,1.000)" text-anchor="middle" font-family="Liberation Serif" font-weight="normal" font-size="15.0" fill="#3a3a3a">’</text>
<text transform="translate(435.50,450.40) scale(0.887,1.000)" text-anchor="middle" font-family="Liberation Serif" font-weight="normal" font-size="15.0" fill="#3a3a3a">0</text>
<text transform="translate(442.50,450.40) scale(1.000,1.000)" text-anchor="middle" font-family="Liberation Serif" font-weight="normal" font-size="15.0" fill="#3a3a3a">″</text>
<text transform="translate(449.50,450.40) scale(0.726,1.000)" text-anchor="middle" font-family="Liberation Serif" font-weight="normal" font-size="15.0" fill="#3a3a3a">E</text>
<text transform="translate(657.50,450.40) scale(0.887,1.000)" text-anchor="middle" font-family="Liberation Serif" font-weight="normal" font-size="15.0" fill="#3a3a3a">1</text>
<text transform="translate(664.50,450.40) scale(0.887,1.000)" text-anchor="middle" font-family="Liberation Serif" font-weight="normal" font-size="15.0" fill="#3a3a3a">1</text>
<text transform="translate(671.50,450.40) scale(0.887,1.000)" text-anchor="middle" font-family="Liberation Serif" font-weight="normal" font-size="15.0" fill="#3a3a3a">3</text>
<text transform="translate(678.50,450.40) scale(1.000,1.000)" text-anchor="middle" font-family="Liberation Serif" font-weight="normal" font-size="15.0" fill="#3a3a3a">°</text>
<text transform="translate(692.50,450.40) scale(0.887,1.000)" text-anchor="middle" font-family="Liberation Serif" font-weight="normal" font-size="15.0" fill="#3a3a3a">2</text>
<text transform="translate(699.50,450.40) scale(0.887,1.000)" text-anchor="middle" font-family="Liberation Serif" font-weight="normal" font-size="15.0" fill="#3a3a3a">0</text>
<text transform="translate(706.50,450.40) scale(1.000,1.000)" text-anchor="middle" font-family="Liberation Serif" font-weight="normal" font-size="15.0" fill="#3a3a3a">’</text>
<text transform="translate(713.50,450.40) scale(0.887,1.000)" text-anchor="middle" font-family="Liberation Serif" font-weight="normal" font-size="15.0" fill="#3a3a3a">0</text>
<text transform="translate(720.50,450.40) scale(1.000,1.000)" text-anchor="middle" font-family="Liberation Serif" font-weight="normal" font-size="15.0" fill="#3a3a3a">″</text>
<text transform="translate(727.50,450.40) scale(0.726,1.000)" text-anchor="middle" font-family="Liberation Serif" font-weight="normal" font-size="15.0" fill="#3a3a3a">E</text>
<text transform="translate(879.00,450.40) scale(0.887,1.000)" text-anchor="middle" font-family="Liberation Serif" font-weight="normal" font-size="15.0" fill="#3a3a3a">1</text>
<text transform="translate(886.00,450.40) scale(0.887,1.000)" text-anchor="middle" font-family="Liberation Serif" font-weight="normal" font-size="15.0" fill="#3a3a3a">1</text>
<text transform="translate(893.00,450.40) scale(0.887,1.000)" text-anchor="middle" font-family="Liberation Serif" font-weight="normal" font-size="15.0" fill="#3a3a3a">3</text>
<text transform="translate(900.00,450.40) scale(1.000,1.000)" text-anchor="middle" font-family="Liberation Serif" font-weight="normal" font-size="15.0" fill="#3a3a3a">°</text>
<text transform="translate(914.00,450.40) scale(0.887,1.000)" text-anchor="middle" font-family="Liberation Serif" font-weight="normal" font-size="15.0" fill="#3a3a3a">2</text>
<text transform="translate(921.00,450.40) scale(0.887,1.000)" text-anchor="middle" font-family="Liberation Serif" font-weight="normal" font-size="15.0" fill="#3a3a3a">5</text>
<text transform="translate(928.00,450.40) scale(1.000,1.000)" text-anchor="middle" font-family="Liberation Serif" font-weight="normal" font-size="15.0" fill="#3a3a3a">’</text>
<text transform="translate(935.00,450.40) scale(0.887,1.000)" text-anchor="middle" font-family="Liberation Serif" font-weight="normal" font-size="15.0" fill="#3a3a3a">0</text>
<text transform="translate(942.00,450.40) scale(1.000,1.000)" text-anchor="middle" font-family="Liberation Serif" font-weight="normal" font-size="15.0" fill="#3a3a3a">″</text>
<text transform="translate(949.00,450.40) scale(0.726,1.000)" text-anchor="middle" font-family="Liberation Serif" font-weight="normal" font-size="15.0" fill="#3a3a3a">E</text>
<g transform="translate(14.0,267.3) rotate(-90)"><text transform="translate(3.50,0.00) scale(0.887,1.000)" text-anchor="middle" font-family="Liberation Serif" font-weight="normal" font-size="15.0" fill="#3a3a3a">2</text>
<text transform="translate(10.50,0.00) scale(0.887,1.000)" text-anchor="middle" font-family="Liberation Serif" font-weight="normal" font-size="15.0" fill="#3a3a3a">3</text>
<text transform="translate(17.50,0.00) scale(1.000,1.000)" text-anchor="middle" font-family="Liberation Serif" font-weight="normal" font-size="15.0" fill="#3a3a3a">°</text>
<text transform="translate(31.50,0.00) scale(0.887,1.000)" text-anchor="middle" font-family="Liberation Serif" font-weight="normal" font-size="15.0" fill="#3a3a3a">1</text>
<text transform="translate(38.50,0.00) scale(0.887,1.000)" text-anchor="middle" font-family="Liberation Serif" font-weight="normal" font-size="15.0" fill="#3a3a3a">0</text>
<text transform="translate(45.50,0.00) scale(1.000,1.000)" text-anchor="middle" font-family="Liberation Serif" font-weight="normal" font-size="15.0" fill="#3a3a3a">’</text>
<text transform="translate(52.50,0.00) scale(0.887,1.000)" text-anchor="middle" font-family="Liberation Serif" font-weight="normal" font-size="15.0" fill="#3a3a3a">0</text>
<text transform="translate(59.50,0.00) scale(1.000,1.000)" text-anchor="middle" font-family="Liberation Serif" font-weight="normal" font-size="15.0" fill="#3a3a3a">″</text>
<text transform="translate(66.50,0.00) scale(0.614,1.000)" text-anchor="middle" font-family="Liberation Serif" font-weight="normal" font-size="15.0" fill="#3a3a3a">N</text></g>
<g transform="translate(514.3,271.5) rotate(-90)"><text transform="translate(3.50,0.00) scale(0.887,1.000)" text-anchor="middle" font-family="Liberation Serif" font-weight="normal" font-size="15.0" fill="#3a3a3a">2</text>
<text transform="translate(10.50,0.00) scale(0.887,1.000)" text-anchor="middle" font-family="Liberation Serif" font-weight="normal" font-size="15.0" fill="#3a3a3a">3</text>
<text transform="translate(17.50,0.00) scale(1.000,1.000)" text-anchor="middle" font-family="Liberation Serif" font-weight="normal" font-size="15.0" fill="#3a3a3a">°</text>
<text transform="translate(31.50,0.00) scale(0.887,1.000)" text-anchor="middle" font-family="Liberation Serif" font-weight="normal" font-size="15.0" fill="#3a3a3a">1</text>
<text transform="translate(38.50,0.00) scale(0.887,1.000)" text-anchor="middle" font-family="Liberation Serif" font-weight="normal" font-size="15.0" fill="#3a3a3a">0</text>
<text transform="translate(45.50,0.00) scale(1.000,1.000)" text-anchor="middle" font-family="Liberation Serif" font-weight="normal" font-size="15.0" fill="#3a3a3a">’</text>
<text transform="translate(52.50,0.00) scale(0.887,1.000)" text-anchor="middle" font-family="Liberation Serif" font-weight="normal" font-size="15.0" fill="#3a3a3a">0</text>
<text transform="translate(59.50,0.00) scale(1.000,1.000)" text-anchor="middle" font-family="Liberation Serif" font-weight="normal" font-size="15.0" fill="#3a3a3a">″</text>
<text transform="translate(66.50,0.00) scale(0.614,1.000)" text-anchor="middle" font-family="Liberation Serif" font-weight="normal" font-size="15.0" fill="#3a3a3a">N</text></g>
<text transform="translate(127.84,485.30) scale(0.946,1.000)" text-anchor="middle" font-family="Liberation Serif" font-weight="normal" font-size="29.5" fill="#2a2a2a">a</text>
<text transform="translate(141.92,485.30) scale(1.000,1.000)" text-anchor="middle" font-family="Liberation Serif" font-weight="normal" font-size="29.5" fill="#2a2a2a">.</text>
<text transform="translate(156.00,485.30) scale(0.840,1.000)" text-anchor="middle" font-family="Liberation Serif" font-weight="normal" font-size="29.5" fill="#2a2a2a">5</text>
<text transform="translate(170.08,485.30) scale(0.840,1.000)" text-anchor="middle" font-family="Liberation Serif" font-weight="normal" font-size="29.5" fill="#2a2a2a">7</text>
<text transform="translate(184.16,485.30) scale(0.540,1.000)" text-anchor="middle" font-family="Liberation Serif" font-weight="normal" font-size="29.5" fill="#2a2a2a">m</text>
<text transform="translate(198.24,485.30) scale(0.540,1.000)" text-anchor="middle" font-family="Liberation Serif" font-weight="normal" font-size="29.5" fill="#2a2a2a">m</text>
<text transform="translate(226.40,485.30) scale(0.840,1.000)" text-anchor="middle" font-family="Liberation Serif" font-weight="normal" font-size="29.5" fill="#2a2a2a">p</text>
<text transform="translate(240.48,485.30) scale(1.000,1.000)" text-anchor="middle" font-family="Liberation Serif" font-weight="normal" font-size="29.5" fill="#2a2a2a">r</text>
<text transform="translate(254.56,485.30) scale(0.946,1.000)" text-anchor="middle" font-family="Liberation Serif" font-weight="normal" font-size="29.5" fill="#2a2a2a">e</text>
<text transform="translate(268.64,485.30) scale(0.946,1.000)" text-anchor="middle" font-family="Liberation Serif" font-weight="normal" font-size="29.5" fill="#2a2a2a">c</text>
<text transform="translate(282.72,485.30) scale(1.000,1.000)" text-anchor="middle" font-family="Liberation Serif" font-weight="normal" font-size="29.5" fill="#2a2a2a">i</text>
<text transform="translate(296.80,485.30) scale(0.840,1.000)" text-anchor="middle" font-family="Liberation Serif" font-weight="normal" font-size="29.5" fill="#2a2a2a">p</text>
<text transform="translate(310.88,485.30) scale(1.000,1.000)" text-anchor="middle" font-family="Liberation Serif" font-weight="normal" font-size="29.5" fill="#2a2a2a">i</text>
<text transform="translate(324.96,485.30) scale(1.000,1.000)" text-anchor="middle" font-family="Liberation Serif" font-weight="normal" font-size="29.5" fill="#2a2a2a">t</text>
<text transform="translate(339.04,485.30) scale(0.946,1.000)" text-anchor="middle" font-family="Liberation Serif" font-weight="normal" font-size="29.5" fill="#2a2a2a">a</text>
<text transform="translate(353.12,485.30) scale(1.000,1.000)" text-anchor="middle" font-family="Liberation Serif" font-weight="normal" font-size="29.5" fill="#2a2a2a">t</text>
<text transform="translate(367.20,485.30) scale(1.000,1.000)" text-anchor="middle" font-family="Liberation Serif" font-weight="normal" font-size="29.5" fill="#2a2a2a">i</text>
<text transform="translate(381.28,485.30) scale(0.840,1.000)" text-anchor="middle" font-family="Liberation Serif" font-weight="normal" font-size="29.5" fill="#2a2a2a">o</text>
<text transform="translate(395.36,485.30) scale(0.840,1.000)" text-anchor="middle" font-family="Liberation Serif" font-weight="normal" font-size="29.5" fill="#2a2a2a">n</text>
<text transform="translate(603.67,485.30) scale(0.843,1.000)" text-anchor="middle" font-family="Liberation Serif" font-weight="normal" font-size="29.5" fill="#2a2a2a">b</text>
<text transform="translate(617.80,485.30) scale(1.000,1.000)" text-anchor="middle" font-family="Liberation Serif" font-weight="normal" font-size="29.5" fill="#2a2a2a">.</text>
<text transform="translate(631.93,485.30) scale(0.843,1.000)" text-anchor="middle" font-family="Liberation Serif" font-weight="normal" font-size="29.5" fill="#2a2a2a">8</text>
<text transform="translate(646.06,485.30) scale(0.843,1.000)" text-anchor="middle" font-family="Liberation Serif" font-weight="normal" font-size="29.5" fill="#2a2a2a">1</text>
<text transform="translate(660.19,485.30) scale(0.542,1.000)" text-anchor="middle" font-family="Liberation Serif" font-weight="normal" font-size="29.5" fill="#2a2a2a">m</text>
<text transform="translate(674.32,485.30) scale(0.542,1.000)" text-anchor="middle" font-family="Liberation Serif" font-weight="normal" font-size="29.5" fill="#2a2a2a">m</text>
<text transform="translate(702.58,485.30) scale(0.843,1.000)" text-anchor="middle" font-family="Liberation Serif" font-weight="normal" font-size="29.5" fill="#2a2a2a">p</text>
<text transform="translate(716.71,485.30) scale(1.000,1.000)" text-anchor="middle" font-family="Liberation Serif" font-weight="normal" font-size="29.5" fill="#2a2a2a">r</text>
<text transform="translate(730.84,485.30) scale(0.950,1.000)" text-anchor="middle" font-family="Liberation Serif" font-weight="normal" font-size="29.5" fill="#2a2a2a">e</text>
<text transform="translate(744.97,485.30) scale(0.950,1.000)" text-anchor="middle" font-family="Liberation Serif" font-weight="normal" font-size="29.5" fill="#2a2a2a">c</text>
<text transform="translate(759.10,485.30) scale(1.000,1.000)" text-anchor="middle" font-family="Liberation Serif" font-weight="normal" font-size="29.5" fill="#2a2a2a">i</text>
<text transform="translate(773.23,485.30) scale(0.843,1.000)" text-anchor="middle" font-family="Liberation Serif" font-weight="normal" font-size="29.5" fill="#2a2a2a">p</text>
<text transform="translate(787.36,485.30) scale(1.000,1.000)" text-anchor="middle" font-family="Liberation Serif" font-weight="normal" font-size="29.5" fill="#2a2a2a">i</text>
<text transform="translate(801.49,485.30) scale(1.000,1.000)" text-anchor="middle" font-family="Liberation Serif" font-weight="normal" font-size="29.5" fill="#2a2a2a">t</text>
<text transform="translate(815.62,485.30) scale(0.950,1.000)" text-anchor="middle" font-family="Liberation Serif" font-weight="normal" font-size="29.5" fill="#2a2a2a">a</text>
<text transform="translate(829.75,485.30) scale(1.000,1.000)" text-anchor="middle" font-family="Liberation Serif" font-weight="normal" font-size="29.5" fill="#2a2a2a">t</text>
<text transform="translate(843.88,485.30) scale(1.000,1.000)" text-anchor="middle" font-family="Liberation Serif" font-weight="normal" font-size="29.5" fill="#2a2a2a">i</text>
<text transform="translate(858.01,485.30) scale(0.843,1.000)" text-anchor="middle" font-family="Liberation Serif" font-weight="normal" font-size="29.5" fill="#2a2a2a">o</text>
<text transform="translate(872.13,485.30) scale(0.843,1.000)" text-anchor="middle" font-family="Liberation Serif" font-weight="normal" font-size="29.5" fill="#2a2a2a">n</text>
</svg>
</body></html>
